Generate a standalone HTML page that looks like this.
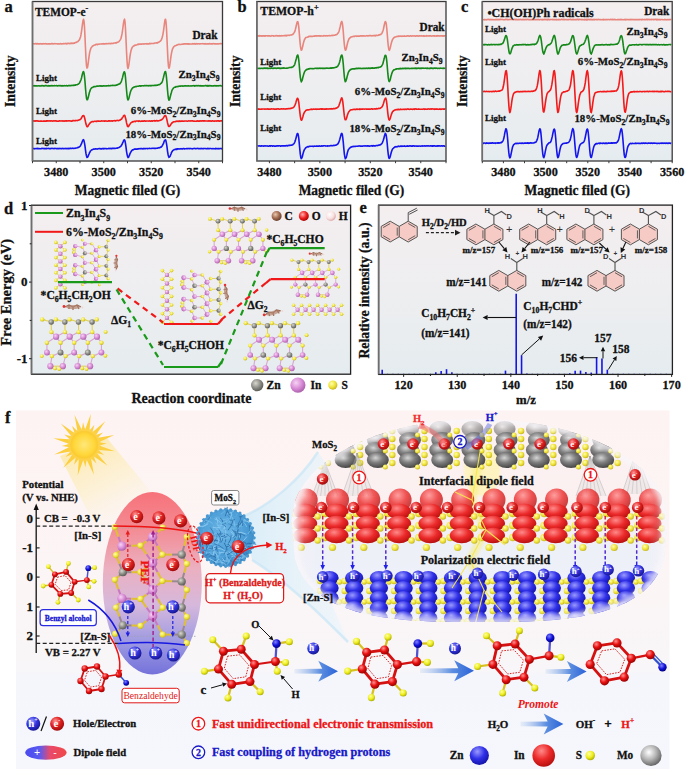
<!DOCTYPE html>
<html><head><meta charset="utf-8"><style>html,body{margin:0;padding:0;background:#fff;}svg{display:block;}</style></head>
<body>
<svg width="685" height="771" viewBox="0 0 685 771">
<defs>
<linearGradient id="pg" x1="0" y1="0" x2="0" y2="1">
 <stop offset="0" stop-color="#f4eeef"/><stop offset="0.5" stop-color="#eeeef0"/><stop offset="1" stop-color="#e5ecef"/>
</linearGradient>
</defs>
<rect width="685" height="771" fill="#ffffff"/>
<rect x="32.5" y="1.5" width="190" height="159.5" fill="url(#pg)"/>
<path d="M33,43.66 L33.5,43.81 L34,43.72 L34.5,43.84 L35,43.85 L35.5,43.57 L36,43.54 L36.5,43.96 L37,43.67 L37.5,43.65 L38,44.03 L38.5,43.77 L39,43.95 L39.5,43.77 L40,43.85 L40.5,43.61 L41,43.85 L41.5,43.97 L42,43.79 L42.5,43.9 L43,43.87 L43.5,43.56 L44,43.91 L44.5,43.82 L45,43.68 L45.5,43.54 L46,43.96 L46.5,43.76 L47,43.88 L47.5,43.96 L48,43.88 L48.5,43.98 L49,43.72 L49.5,43.92 L50,43.74 L50.5,43.98 L51,43.96 L51.5,43.56 L52,43.58 L52.5,43.62 L53,43.99 L53.5,43.73 L54,43.82 L54.5,43.65 L55,43.76 L55.5,43.69 L56,43.67 L56.5,43.79 L57,43.78 L57.5,43.94 L58,43.83 L58.5,43.95 L59,43.91 L59.5,43.97 L60,43.8 L60.5,43.55 L61,43.89 L61.5,43.94 L62,43.9 L62.5,43.73 L63,43.79 L63.5,43.53 L64,43.83 L64.5,43.7 L65,43.54 L65.5,43.42 L66,43.8 L66.5,43.86 L67,43.39 L67.5,43.73 L68,43.52 L68.5,43.37 L69,43.42 L69.5,43.63 L70,43.65 L70.5,43.21 L71,43.46 L71.5,43.13 L72,43.42 L72.5,43.17 L73,43.38 L73.5,43.36 L74,43.04 L74.5,43.19 L75,42.73 L75.5,42.48 L76,42.57 L76.5,42.1 L77,41.95 L77.5,41.76 L78,41.51 L78.5,40.83 L79,40.17 L79.5,39.76 L80,38.33 L80.5,37.01 L81,34.69 L81.5,31.4 L82,27.79 L82.5,23.94 L83,20.75 L83.5,19.33 L84,21.14 L84.5,27.15 L85,37.09 L85.5,48.43 L86,58.74 L86.5,65.71 L87,68.08 L87.5,67.25 L88,64.6 L88.5,60.54 L89,56.8 L89.5,53.37 L90,51.14 L90.5,49.46 L91,47.93 L91.5,47.35 L92,46.72 L92.5,45.96 L93,45.87 L93.5,45.49 L94,45.35 L94.5,44.98 L95,44.99 L95.5,44.86 L96,44.38 L96.5,44.3 L97,44.52 L97.5,44.59 L98,44.16 L98.5,44.21 L99,44.22 L99.5,44.04 L100,44.02 L100.5,43.96 L101,43.95 L101.5,44.04 L102,43.86 L102.5,43.87 L103,44.05 L103.5,43.65 L104,43.9 L104.5,43.96 L105,43.73 L105.5,43.67 L106,43.94 L106.5,43.63 L107,43.59 L107.5,43.69 L108,43.8 L108.5,43.48 L109,43.56 L109.5,43.54 L110,43.77 L110.5,43.54 L111,43.71 L111.5,43.33 L112,43.38 L112.5,43.49 L113,43.55 L113.5,43.28 L114,43.1 L114.5,42.97 L115,43.08 L115.5,42.81 L116,43 L116.5,42.87 L117,42.37 L117.5,42.22 L118,42.24 L118.5,41.85 L119,41.56 L119.5,40.85 L120,40.11 L120.5,39.31 L121,38.31 L121.5,36.29 L122,33.89 L122.5,30.76 L123,27.01 L123.5,23.18 L124,20.44 L124.5,19.2 L125,21.74 L125.5,29.03 L126,39.34 L126.5,50.95 L127,60.46 L127.5,66.69 L128,68.51 L128.5,66.76 L129,63.77 L129.5,59.94 L130,56.19 L130.5,53.1 L131,50.69 L131.5,49.07 L132,47.85 L132.5,46.95 L133,46.61 L133.5,46 L134,45.91 L134.5,45.24 L135,45.43 L135.5,45.13 L136,45.08 L136.5,44.93 L137,44.81 L137.5,44.55 L138,44.18 L138.5,44.48 L139,44.12 L139.5,44.13 L140,44.26 L140.5,44.15 L141,44.05 L141.5,44.28 L142,44.08 L142.5,43.92 L143,43.84 L143.5,44.12 L144,43.91 L144.5,44.04 L145,43.8 L145.5,43.7 L146,43.85 L146.5,43.97 L147,43.63 L147.5,43.92 L148,43.96 L148.5,43.89 L149,43.87 L149.5,43.44 L150,43.73 L150.5,43.82 L151,43.38 L151.5,43.46 L152,43.43 L152.5,43.52 L153,43.43 L153.5,43.41 L154,43.51 L154.5,43.06 L155,43.02 L155.5,42.98 L156,42.89 L156.5,42.76 L157,43.09 L157.5,42.89 L158,42.34 L158.5,42.34 L159,42 L159.5,41.7 L160,41.35 L160.5,41.02 L161,40.35 L161.5,39.36 L162,38.03 L162.5,36.33 L163,33.8 L163.5,30.85 L164,27.18 L164.5,23.18 L165,20.04 L165.5,19.23 L166,21.94 L166.5,28.88 L167,39.31 L167.5,50.67 L168,60.66 L168.5,66.55 L169,68.28 L169.5,66.86 L170,63.67 L170.5,59.89 L171,56.09 L171.5,53.21 L172,50.8 L172.5,49.05 L173,48.04 L173.5,47.3 L174,46.38 L174.5,46.11 L175,45.75 L175.5,45.69 L176,45.49 L176.5,45.01 L177,45.11 L177.5,44.92 L178,44.54 L178.5,44.54 L179,44.29 L179.5,44.56 L180,44.42 L180.5,44.48 L181,44.39 L181.5,44.28 L182,44.28 L182.5,44.16 L183,43.91 L183.5,44.12 L184,43.81 L184.5,43.86 L185,44.15 L185.5,43.77 L186,43.78 L186.5,43.77 L187,44.15 L187.5,43.79 L188,43.7 L188.5,44.1 L189,43.73 L189.5,44.09 L190,43.99 L190.5,44.07 L191,44.12 L191.5,43.93 L192,44.03 L192.5,43.65 L193,44.01 L193.5,43.88 L194,43.98 L194.5,43.67 L195,43.99 L195.5,44.08 L196,43.64 L196.5,43.77 L197,43.88 L197.5,44.01 L198,43.72 L198.5,43.68 L199,43.72 L199.5,43.9 L200,43.97 L200.5,43.78 L201,43.77 L201.5,43.78 L202,43.76 L202.5,43.79 L203,43.62 L203.5,43.83 L204,44.06 L204.5,43.78 L205,43.95 L205.5,43.66 L206,43.92 L206.5,43.95 L207,43.91 L207.5,43.83 L208,43.81 L208.5,43.89 L209,44.02 L209.5,43.64 L210,43.62 L210.5,43.94 L211,44.03 L211.5,43.83 L212,43.79 L212.5,43.93 L213,43.66 L213.5,43.7 L214,43.66 L214.5,43.86 L215,43.72 L215.5,43.68 L216,43.91 L216.5,44.04 L217,43.71 L217.5,43.91 L218,43.77 L218.5,43.99 L219,43.85 L219.5,43.69 L220,43.67 L220.5,43.57 L221,43.8 L221.5,43.75 L222,43.65" fill="none" stroke="#e8857c" stroke-width="1.6" stroke-linejoin="round"/>
<path d="M33,85.72 L33.5,85.7 L34,85.93 L34.5,85.61 L35,86.04 L35.5,85.78 L36,85.84 L36.5,85.78 L37,85.96 L37.5,85.95 L38,85.82 L38.5,85.78 L39,85.9 L39.5,85.97 L40,85.74 L40.5,85.91 L41,86.02 L41.5,85.77 L42,85.65 L42.5,85.65 L43,85.9 L43.5,85.87 L44,86.02 L44.5,85.96 L45,85.66 L45.5,85.63 L46,85.66 L46.5,85.63 L47,85.89 L47.5,85.96 L48,85.98 L48.5,85.66 L49,85.96 L49.5,85.69 L50,85.74 L50.5,85.89 L51,85.57 L51.5,85.57 L52,85.94 L52.5,85.67 L53,85.7 L53.5,85.81 L54,85.86 L54.5,85.52 L55,85.68 L55.5,85.73 L56,85.76 L56.5,85.62 L57,85.8 L57.5,85.99 L58,85.7 L58.5,85.78 L59,85.56 L59.5,85.64 L60,85.83 L60.5,85.55 L61,85.93 L61.5,85.94 L62,85.53 L62.5,85.95 L63,85.66 L63.5,85.85 L64,85.84 L64.5,85.6 L65,85.79 L65.5,85.77 L66,85.84 L66.5,85.56 L67,85.79 L67.5,85.88 L68,85.73 L68.5,85.65 L69,85.42 L69.5,85.59 L70,85.5 L70.5,85.66 L71,85.62 L71.5,85.54 L72,85.31 L72.5,85.51 L73,85.46 L73.5,85.18 L74,85.48 L74.5,85.3 L75,84.96 L75.5,85.27 L76,84.77 L76.5,84.74 L77,84.78 L77.5,84.53 L78,84.27 L78.5,84.01 L79,83.51 L79.5,82.88 L80,82.03 L80.5,80.89 L81,79.77 L81.5,77.96 L82,75.77 L82.5,73.78 L83,72 L83.5,71.51 L84,72.92 L84.5,76.7 L85,81.76 L85.5,88.34 L86,93.97 L86.5,98.2 L87,99.77 L87.5,99.62 L88,98.24 L88.5,96.28 L89,94.27 L89.5,92.17 L90,90.89 L90.5,89.37 L91,88.62 L91.5,87.93 L92,87.51 L92.5,87.52 L93,87.24 L93.5,86.77 L94,86.61 L94.5,86.6 L95,86.65 L95.5,86.59 L96,86.48 L96.5,86.33 L97,86.05 L97.5,86.12 L98,85.97 L98.5,86.1 L99,86.09 L99.5,85.87 L100,85.87 L100.5,86.11 L101,85.71 L101.5,86.08 L102,86.1 L102.5,86.12 L103,85.82 L103.5,85.89 L104,85.89 L104.5,85.9 L105,86.06 L105.5,85.9 L106,85.69 L106.5,85.96 L107,85.75 L107.5,85.8 L108,85.85 L108.5,85.47 L109,85.84 L109.5,85.76 L110,85.66 L110.5,85.66 L111,85.6 L111.5,85.44 L112,85.58 L112.5,85.31 L113,85.5 L113.5,85.54 L114,85.39 L114.5,85.4 L115,85.54 L115.5,85.44 L116,84.98 L116.5,85.21 L117,85.02 L117.5,84.6 L118,84.59 L118.5,84.33 L119,84 L119.5,83.91 L120,83.67 L120.5,82.77 L121,82.21 L121.5,80.97 L122,79.16 L122.5,77.63 L123,75.38 L123.5,73.52 L124,71.99 L124.5,71.87 L125,73.44 L125.5,77.65 L126,83.46 L126.5,89.78 L127,95.04 L127.5,98.74 L128,99.95 L128.5,99.32 L129,97.69 L129.5,95.63 L130,93.6 L130.5,91.75 L131,90.47 L131.5,89.49 L132,88.63 L132.5,88.01 L133,87.71 L133.5,87.23 L134,87.08 L134.5,87.03 L135,86.7 L135.5,86.46 L136,86.71 L136.5,86.53 L137,86.28 L137.5,86.21 L138,86.24 L138.5,86.22 L139,85.99 L139.5,85.84 L140,85.91 L140.5,86.17 L141,85.82 L141.5,85.95 L142,85.8 L142.5,85.79 L143,85.75 L143.5,85.85 L144,85.71 L144.5,85.63 L145,85.66 L145.5,85.67 L146,85.82 L146.5,85.59 L147,85.56 L147.5,85.76 L148,85.72 L148.5,85.86 L149,85.51 L149.5,85.68 L150,85.66 L150.5,85.45 L151,85.9 L151.5,85.51 L152,85.43 L152.5,85.59 L153,85.41 L153.5,85.61 L154,85.43 L154.5,85.28 L155,85.2 L155.5,85.49 L156,85.2 L156.5,85.39 L157,85.15 L157.5,85.29 L158,84.86 L158.5,84.7 L159,84.55 L159.5,84.63 L160,84.29 L160.5,83.82 L161,83.26 L161.5,82.96 L162,82.27 L162.5,80.93 L163,79.11 L163.5,77.23 L164,75.14 L164.5,73.15 L165,71.67 L165.5,71.54 L166,73.61 L166.5,77.71 L167,83.11 L167.5,89.85 L168,95.07 L168.5,98.78 L169,100.19 L169.5,99.75 L170,97.71 L170.5,95.76 L171,93.82 L171.5,92.16 L172,90.28 L172.5,89.31 L173,88.8 L173.5,87.88 L174,87.61 L174.5,87.27 L175,87.21 L175.5,87.15 L176,86.61 L176.5,86.77 L177,86.66 L177.5,86.62 L178,86.4 L178.5,86.52 L179,86.19 L179.5,86.17 L180,86.03 L180.5,86.27 L181,86.09 L181.5,85.96 L182,85.88 L182.5,86.13 L183,86.06 L183.5,86.09 L184,85.92 L184.5,85.95 L185,85.77 L185.5,86.04 L186,85.69 L186.5,85.9 L187,86.04 L187.5,85.99 L188,85.69 L188.5,85.76 L189,86.06 L189.5,85.95 L190,86.06 L190.5,86.06 L191,85.84 L191.5,86.06 L192,85.97 L192.5,85.77 L193,85.79 L193.5,85.64 L194,85.8 L194.5,86.07 L195,85.64 L195.5,85.87 L196,85.64 L196.5,85.63 L197,85.91 L197.5,85.7 L198,85.61 L198.5,85.66 L199,85.9 L199.5,85.87 L200,85.58 L200.5,85.69 L201,86.06 L201.5,85.68 L202,85.85 L202.5,85.78 L203,85.96 L203.5,85.87 L204,85.96 L204.5,85.84 L205,85.66 L205.5,85.66 L206,85.61 L206.5,85.98 L207,85.62 L207.5,85.58 L208,86.05 L208.5,85.66 L209,86.01 L209.5,85.61 L210,85.8 L210.5,85.67 L211,85.98 L211.5,85.87 L212,85.88 L212.5,85.94 L213,86 L213.5,85.73 L214,85.86 L214.5,85.78 L215,85.61 L215.5,85.98 L216,85.86 L216.5,85.97 L217,85.66 L217.5,85.83 L218,85.79 L218.5,85.92 L219,85.6 L219.5,85.73 L220,85.8 L220.5,85.59 L221,85.83 L221.5,85.92 L222,85.77" fill="none" stroke="#15881a" stroke-width="1.6" stroke-linejoin="round"/>
<path d="M33,121.07 L33.5,121.05 L34,120.85 L34.5,120.92 L35,121.24 L35.5,120.91 L36,120.96 L36.5,120.79 L37,120.86 L37.5,120.83 L38,121.21 L38.5,121.11 L39,121.18 L39.5,121.24 L40,121.05 L40.5,121.21 L41,121.01 L41.5,120.95 L42,121.22 L42.5,121.2 L43,121.22 L43.5,120.99 L44,121.13 L44.5,120.95 L45,121.24 L45.5,121.2 L46,120.89 L46.5,121.21 L47,120.84 L47.5,120.79 L48,121.1 L48.5,120.89 L49,121 L49.5,121.06 L50,120.76 L50.5,121.11 L51,120.88 L51.5,120.96 L52,120.91 L52.5,121.11 L53,121.11 L53.5,120.88 L54,120.79 L54.5,120.89 L55,120.94 L55.5,120.78 L56,120.81 L56.5,121.12 L57,121.08 L57.5,121.22 L58,121.22 L58.5,121.17 L59,120.92 L59.5,120.81 L60,120.88 L60.5,120.96 L61,120.99 L61.5,121 L62,120.9 L62.5,121.15 L63,120.86 L63.5,120.95 L64,121.16 L64.5,121.12 L65,120.86 L65.5,120.83 L66,121.11 L66.5,120.71 L67,120.76 L67.5,120.96 L68,120.96 L68.5,120.76 L69,120.7 L69.5,120.77 L70,121.05 L70.5,120.89 L71,121.13 L71.5,121.03 L72,121.11 L72.5,120.62 L73,120.68 L73.5,120.58 L74,120.76 L74.5,120.69 L75,120.52 L75.5,120.73 L76,120.46 L76.5,120.52 L77,120.43 L77.5,120.63 L78,120.35 L78.5,120.15 L79,119.88 L79.5,119.85 L80,119.64 L80.5,119.24 L81,118.79 L81.5,118.01 L82,116.91 L82.5,116.03 L83,115.72 L83.5,115.55 L84,115.95 L84.5,117.5 L85,119.52 L85.5,121.89 L86,124.11 L86.5,125.6 L87,126.61 L87.5,126.68 L88,126.13 L88.5,125.11 L89,124.37 L89.5,123.76 L90,123.1 L90.5,122.54 L91,122.11 L91.5,121.93 L92,121.58 L92.5,121.46 L93,121.62 L93.5,121.69 L94,121.41 L94.5,121.28 L95,121.21 L95.5,121.23 L96,121.37 L96.5,121.17 L97,121.4 L97.5,120.97 L98,121.04 L98.5,121.12 L99,121.06 L99.5,121.26 L100,121.24 L100.5,121.28 L101,121.11 L101.5,120.82 L102,121.08 L102.5,121.06 L103,121.02 L103.5,120.91 L104,121.12 L104.5,121.22 L105,120.81 L105.5,121.09 L106,120.93 L106.5,121 L107,121.18 L107.5,121.21 L108,121.05 L108.5,120.81 L109,121.17 L109.5,120.79 L110,120.89 L110.5,121.1 L111,120.84 L111.5,120.81 L112,121.13 L112.5,121.12 L113,120.79 L113.5,120.81 L114,120.74 L114.5,120.65 L115,120.68 L115.5,121.02 L116,120.54 L116.5,120.58 L117,120.52 L117.5,120.4 L118,120.56 L118.5,120.59 L119,120.54 L119.5,120.31 L120,120.23 L120.5,119.59 L121,119.4 L121.5,119.29 L122,118.24 L122.5,117.59 L123,116.86 L123.5,115.96 L124,115.54 L124.5,115.23 L125,116.03 L125.5,117.95 L126,119.82 L126.5,122.7 L127,124.49 L127.5,126.3 L128,126.67 L128.5,126.48 L129,125.6 L129.5,124.74 L130,124.26 L130.5,123.25 L131,122.69 L131.5,122.58 L132,122.29 L132.5,121.66 L133,121.96 L133.5,121.62 L134,121.45 L134.5,121.24 L135,121.32 L135.5,121.57 L136,121.17 L136.5,121.06 L137,121.04 L137.5,121 L138,121.09 L138.5,121.35 L139,120.92 L139.5,120.96 L140,121.32 L140.5,121.34 L141,121.32 L141.5,120.94 L142,120.99 L142.5,121.28 L143,121.04 L143.5,121.14 L144,120.94 L144.5,120.79 L145,120.94 L145.5,121.14 L146,121.15 L146.5,121.04 L147,120.98 L147.5,121.01 L148,120.96 L148.5,121 L149,121.14 L149.5,120.82 L150,121.01 L150.5,121.17 L151,121.12 L151.5,120.78 L152,121.16 L152.5,121.09 L153,120.75 L153.5,120.78 L154,120.74 L154.5,120.65 L155,121.09 L155.5,120.79 L156,121 L156.5,120.59 L157,120.51 L157.5,120.9 L158,120.82 L158.5,120.86 L159,120.65 L159.5,120.49 L160,120.51 L160.5,120.05 L161,120.1 L161.5,119.81 L162,119.34 L162.5,119.11 L163,118.37 L163.5,117.72 L164,116.81 L164.5,115.99 L165,115.45 L165.5,115.51 L166,116.4 L166.5,117.95 L167,120.18 L167.5,122.67 L168,124.55 L168.5,126.3 L169,126.48 L169.5,126.23 L170,125.79 L170.5,125.08 L171,124.06 L171.5,123.49 L172,122.74 L172.5,122.66 L173,122.09 L173.5,121.88 L174,121.75 L174.5,121.8 L175,121.76 L175.5,121.46 L176,121.36 L176.5,121.39 L177,121.08 L177.5,121.22 L178,121.4 L178.5,121.34 L179,120.96 L179.5,121.34 L180,121.09 L180.5,121.37 L181,121.05 L181.5,120.96 L182,121.12 L182.5,121.28 L183,121.05 L183.5,121.26 L184,121.17 L184.5,120.99 L185,120.96 L185.5,121.06 L186,121 L186.5,120.98 L187,121.12 L187.5,121.23 L188,121.08 L188.5,120.86 L189,120.89 L189.5,120.97 L190,121.09 L190.5,120.85 L191,120.82 L191.5,120.93 L192,120.91 L192.5,120.79 L193,121.04 L193.5,121.23 L194,121.04 L194.5,121.14 L195,121.18 L195.5,121.18 L196,121.22 L196.5,120.99 L197,121.1 L197.5,120.82 L198,121.2 L198.5,120.95 L199,121 L199.5,121.21 L200,120.9 L200.5,120.85 L201,121.17 L201.5,121.06 L202,120.8 L202.5,120.77 L203,120.93 L203.5,120.76 L204,121.17 L204.5,120.85 L205,120.89 L205.5,120.95 L206,121.01 L206.5,120.97 L207,121.07 L207.5,121.09 L208,120.97 L208.5,120.8 L209,121.24 L209.5,121.1 L210,120.8 L210.5,120.98 L211,121.13 L211.5,121.25 L212,120.79 L212.5,120.76 L213,120.99 L213.5,120.97 L214,121.2 L214.5,121.17 L215,120.92 L215.5,120.96 L216,121.04 L216.5,121.2 L217,120.85 L217.5,120.95 L218,120.8 L218.5,121.07 L219,120.77 L219.5,121.22 L220,121.01 L220.5,121.04 L221,120.8 L221.5,120.87 L222,120.99" fill="none" stroke="#f21a1a" stroke-width="1.6" stroke-linejoin="round"/>
<path d="M33,148.77 L33.5,148.61 L34,148.49 L34.5,148.84 L35,148.68 L35.5,148.61 L36,148.45 L36.5,148.49 L37,148.79 L37.5,148.41 L38,148.61 L38.5,148.65 L39,148.52 L39.5,148.73 L40,148.8 L40.5,148.77 L41,148.71 L41.5,148.44 L42,148.37 L42.5,148.56 L43,148.5 L43.5,148.44 L44,148.78 L44.5,148.45 L45,148.75 L45.5,148.81 L46,148.4 L46.5,148.8 L47,148.54 L47.5,148.44 L48,148.43 L48.5,148.36 L49,148.59 L49.5,148.53 L50,148.76 L50.5,148.75 L51,148.36 L51.5,148.53 L52,148.53 L52.5,148.42 L53,148.46 L53.5,148.46 L54,148.68 L54.5,148.5 L55,148.38 L55.5,148.44 L56,148.55 L56.5,148.61 L57,148.45 L57.5,148.67 L58,148.43 L58.5,148.65 L59,148.62 L59.5,148.4 L60,148.69 L60.5,148.51 L61,148.58 L61.5,148.61 L62,148.62 L62.5,148.52 L63,148.33 L63.5,148.69 L64,148.72 L64.5,148.53 L65,148.57 L65.5,148.41 L66,148.72 L66.5,148.61 L67,148.37 L67.5,148.66 L68,148.74 L68.5,148.41 L69,148.72 L69.5,148.45 L70,148.29 L70.5,148.54 L71,148.34 L71.5,148.52 L72,148.42 L72.5,148.16 L73,148.34 L73.5,148.47 L74,148.25 L74.5,148.24 L75,148.35 L75.5,148.08 L76,148.03 L76.5,147.99 L77,148.01 L77.5,147.58 L78,147.37 L78.5,147.5 L79,147.12 L79.5,146.62 L80,146.4 L80.5,145.69 L81,144.59 L81.5,143.67 L82,142.31 L82.5,141.03 L83,139.91 L83.5,139.59 L84,140.84 L84.5,143.08 L85,146.22 L85.5,150.12 L86,153.66 L86.5,155.96 L87,157.36 L87.5,157.3 L88,156.43 L88.5,155.1 L89,154.04 L89.5,152.74 L90,151.97 L90.5,150.94 L91,150.5 L91.5,150 L92,149.81 L92.5,149.68 L93,149.28 L93.5,149.13 L94,149.23 L94.5,149 L95,149.08 L95.5,148.85 L96,148.77 L96.5,148.94 L97,149.09 L97.5,149.03 L98,148.83 L98.5,148.74 L99,148.55 L99.5,148.64 L100,148.64 L100.5,148.93 L101,148.51 L101.5,148.91 L102,148.66 L102.5,148.63 L103,148.53 L103.5,148.87 L104,148.47 L104.5,148.66 L105,148.62 L105.5,148.45 L106,148.45 L106.5,148.83 L107,148.72 L107.5,148.68 L108,148.76 L108.5,148.34 L109,148.64 L109.5,148.65 L110,148.37 L110.5,148.47 L111,148.72 L111.5,148.38 L112,148.58 L112.5,148.26 L113,148.49 L113.5,148.26 L114,148.35 L114.5,148.25 L115,148.46 L115.5,148.35 L116,148.18 L116.5,148.21 L117,148 L117.5,148.1 L118,147.72 L118.5,147.74 L119,147.59 L119.5,147.28 L120,146.82 L120.5,146.48 L121,146.16 L121.5,145.19 L122,144.49 L122.5,143.19 L123,142.12 L123.5,140.88 L124,140.03 L124.5,139.87 L125,140.87 L125.5,143.59 L126,147.18 L126.5,151.11 L127,154.08 L127.5,156.26 L128,157.59 L128.5,157.29 L129,156.27 L129.5,155.17 L130,153.59 L130.5,152.64 L131,151.78 L131.5,151.04 L132,150.3 L132.5,149.91 L133,149.88 L133.5,149.81 L134,149.28 L134.5,149.08 L135,149.02 L135.5,149.29 L136,149.02 L136.5,148.99 L137,149.21 L137.5,148.97 L138,148.76 L138.5,148.95 L139,148.57 L139.5,148.68 L140,148.87 L140.5,148.59 L141,148.5 L141.5,148.73 L142,148.62 L142.5,148.92 L143,148.48 L143.5,148.82 L144,148.6 L144.5,148.8 L145,148.61 L145.5,148.71 L146,148.53 L146.5,148.47 L147,148.57 L147.5,148.74 L148,148.5 L148.5,148.43 L149,148.52 L149.5,148.35 L150,148.45 L150.5,148.56 L151,148.54 L151.5,148.55 L152,148.38 L152.5,148.23 L153,148.21 L153.5,148.35 L154,148.26 L154.5,148.42 L155,148.23 L155.5,148.45 L156,148.33 L156.5,148.32 L157,148.3 L157.5,148.13 L158,148.01 L158.5,147.86 L159,147.63 L159.5,147.87 L160,147.56 L160.5,147.14 L161,147.26 L161.5,146.69 L162,146.16 L162.5,145.32 L163,144.18 L163.5,143.44 L164,141.74 L164.5,140.64 L165,140.18 L165.5,139.75 L166,141.11 L166.5,143.56 L167,146.94 L167.5,151.12 L168,154.19 L168.5,156.2 L169,157.35 L169.5,156.94 L170,156.4 L170.5,155.24 L171,153.98 L171.5,152.41 L172,151.79 L172.5,150.9 L173,150.47 L173.5,150.01 L174,149.74 L174.5,149.45 L175,149.54 L175.5,149.14 L176,149.48 L176.5,148.93 L177,149.32 L177.5,148.88 L178,148.77 L178.5,149.06 L179,148.92 L179.5,149.01 L180,148.85 L180.5,148.88 L181,148.59 L181.5,148.87 L182,148.77 L182.5,148.98 L183,148.49 L183.5,148.51 L184,148.8 L184.5,148.92 L185,148.66 L185.5,148.8 L186,148.71 L186.5,148.62 L187,148.66 L187.5,148.72 L188,148.43 L188.5,148.56 L189,148.77 L189.5,148.53 L190,148.64 L190.5,148.52 L191,148.57 L191.5,148.72 L192,148.76 L192.5,148.87 L193,148.62 L193.5,148.48 L194,148.55 L194.5,148.41 L195,148.5 L195.5,148.67 L196,148.68 L196.5,148.5 L197,148.46 L197.5,148.42 L198,148.46 L198.5,148.62 L199,148.5 L199.5,148.81 L200,148.65 L200.5,148.54 L201,148.58 L201.5,148.39 L202,148.73 L202.5,148.74 L203,148.55 L203.5,148.73 L204,148.5 L204.5,148.47 L205,148.48 L205.5,148.46 L206,148.66 L206.5,148.68 L207,148.72 L207.5,148.41 L208,148.74 L208.5,148.6 L209,148.55 L209.5,148.61 L210,148.57 L210.5,148.46 L211,148.56 L211.5,148.68 L212,148.72 L212.5,148.81 L213,148.45 L213.5,148.8 L214,148.76 L214.5,148.71 L215,148.85 L215.5,148.43 L216,148.74 L216.5,148.81 L217,148.42 L217.5,148.65 L218,148.83 L218.5,148.5 L219,148.78 L219.5,148.81 L220,148.57 L220.5,148.43 L221,148.46 L221.5,148.77 L222,148.57" fill="none" stroke="#1414ec" stroke-width="1.6" stroke-linejoin="round"/>
<rect x="32.5" y="1.5" width="190" height="159.5" fill="none" stroke="#3a3a3a" stroke-width="1.3"/>
<line x1="32.5" y1="1.5" x2="32.5" y2="161" stroke="#6e6e6e" stroke-width="1.6"/>
<line x1="32.5" y1="161" x2="32.5" y2="163.2" stroke="#3a3a3a" stroke-width="1"/>
<line x1="56.25" y1="161" x2="56.25" y2="163.2" stroke="#3a3a3a" stroke-width="1"/>
<line x1="80" y1="161" x2="80" y2="163.2" stroke="#3a3a3a" stroke-width="1"/>
<line x1="103.75" y1="161" x2="103.75" y2="163.2" stroke="#3a3a3a" stroke-width="1"/>
<line x1="127.5" y1="161" x2="127.5" y2="163.2" stroke="#3a3a3a" stroke-width="1"/>
<line x1="151.25" y1="161" x2="151.25" y2="163.2" stroke="#3a3a3a" stroke-width="1"/>
<line x1="175" y1="161" x2="175" y2="163.2" stroke="#3a3a3a" stroke-width="1"/>
<line x1="198.75" y1="161" x2="198.75" y2="163.2" stroke="#3a3a3a" stroke-width="1"/>
<line x1="222.5" y1="161" x2="222.5" y2="163.2" stroke="#3a3a3a" stroke-width="1"/>
<text transform="translate(56.25,175.5) scale(0.97,1)" font-size="12.57" text-anchor="middle" fill="#111" stroke="#111" stroke-width="0.3" font-family="Liberation Serif" font-weight="bold" >3480</text>
<text transform="translate(103.75,175.5) scale(0.97,1)" font-size="12.57" text-anchor="middle" fill="#111" stroke="#111" stroke-width="0.3" font-family="Liberation Serif" font-weight="bold" >3500</text>
<text transform="translate(151.25,175.5) scale(0.97,1)" font-size="12.57" text-anchor="middle" fill="#111" stroke="#111" stroke-width="0.3" font-family="Liberation Serif" font-weight="bold" >3520</text>
<text transform="translate(198.75,175.5) scale(0.97,1)" font-size="12.57" text-anchor="middle" fill="#111" stroke="#111" stroke-width="0.3" font-family="Liberation Serif" font-weight="bold" >3540</text>
<text transform="translate(127.5,195.3) scale(0.97,1)" font-size="13.91" text-anchor="middle" fill="#111" stroke="#111" stroke-width="0.3" font-family="Liberation Serif" font-weight="bold" >Magnetic filed (G)</text>
<text transform="translate(4.5,12) scale(0.97,1)" font-size="17" text-anchor="start" fill="#111" stroke="#111" stroke-width="0.3" font-family="Liberation Serif" font-weight="bold" >a</text>
<text transform="translate(14.6,81.3) rotate(-90) scale(0.97,1)" font-size="14.11" text-anchor="middle" fill="#111" stroke="#111" stroke-width="0.3" font-family="Liberation Serif" font-weight="bold" >Intensity</text>
<text transform="translate(35,15.8) scale(0.97,1)" font-size="11.74" text-anchor="start" fill="#111" stroke="#111" stroke-width="0.3" font-family="Liberation Serif" font-weight="bold" ><tspan>TEMOP-e</tspan><tspan dy="-4.46" font-size="8.22">-</tspan></text>
<text transform="translate(217.5,38.8) scale(0.97,1)" font-size="11.64" text-anchor="end" fill="#111" stroke="#111" stroke-width="0.3" font-family="Liberation Serif" font-weight="bold" >Drak</text>
<text transform="translate(36,80.5) scale(0.97,1)" font-size="9.27" text-anchor="start" fill="#111" stroke="#111" stroke-width="0.3" font-family="Liberation Serif" font-weight="bold" >Light</text>
<text transform="translate(36,114.4) scale(0.97,1)" font-size="9.27" text-anchor="start" fill="#111" stroke="#111" stroke-width="0.3" font-family="Liberation Serif" font-weight="bold" >Light</text>
<text transform="translate(36,144.1) scale(0.97,1)" font-size="9.27" text-anchor="start" fill="#111" stroke="#111" stroke-width="0.3" font-family="Liberation Serif" font-weight="bold" >Light</text>
<text transform="translate(219.5,77.8) scale(0.97,1)" font-size="11.23" text-anchor="end" fill="#111" stroke="#111" stroke-width="0.3" font-family="Liberation Serif" font-weight="bold" ><tspan>Zn</tspan><tspan dy="2.92" font-size="7.86">3</tspan><tspan dy="-2.92">In</tspan><tspan dy="2.92" font-size="7.86">4</tspan><tspan dy="-2.92">S</tspan><tspan dy="2.92" font-size="7.86">9</tspan></text>
<text transform="translate(220.5,113.8) scale(0.97,1)" font-size="11.23" text-anchor="end" fill="#111" stroke="#111" stroke-width="0.3" font-family="Liberation Serif" font-weight="bold" ><tspan>6%-MoS</tspan><tspan dy="2.92" font-size="7.86">2</tspan><tspan dy="-2.92">/Zn</tspan><tspan dy="2.92" font-size="7.86">3</tspan><tspan dy="-2.92">In</tspan><tspan dy="2.92" font-size="7.86">4</tspan><tspan dy="-2.92">S</tspan><tspan dy="2.92" font-size="7.86">9</tspan></text>
<text transform="translate(220.5,137.5) scale(0.97,1)" font-size="11.23" text-anchor="end" fill="#111" stroke="#111" stroke-width="0.3" font-family="Liberation Serif" font-weight="bold" ><tspan>18%-MoS</tspan><tspan dy="2.92" font-size="7.86">2</tspan><tspan dy="-2.92">/Zn</tspan><tspan dy="2.92" font-size="7.86">3</tspan><tspan dy="-2.92">In</tspan><tspan dy="2.92" font-size="7.86">4</tspan><tspan dy="-2.92">S</tspan><tspan dy="2.92" font-size="7.86">9</tspan></text>
<rect x="256.8" y="1.5" width="189.2" height="159.5" fill="url(#pg)"/>
<path d="M257.3,35.8 L257.8,35.86 L258.3,36.1 L258.8,35.77 L259.3,35.65 L259.8,36.11 L260.3,35.8 L260.8,35.83 L261.3,36.12 L261.8,35.78 L262.3,35.68 L262.8,36.08 L263.3,35.76 L263.8,35.74 L264.3,36.1 L264.8,35.75 L265.3,36.08 L265.8,35.8 L266.3,35.78 L266.8,35.74 L267.3,35.9 L267.8,35.91 L268.3,35.82 L268.8,35.88 L269.3,35.77 L269.8,36.04 L270.3,36.09 L270.8,36 L271.3,36.03 L271.8,35.65 L272.3,35.74 L272.8,35.71 L273.3,35.69 L273.8,36.09 L274.3,36.06 L274.8,36.06 L275.3,35.88 L275.8,35.65 L276.3,35.81 L276.8,35.62 L277.3,36.04 L277.8,35.71 L278.3,35.72 L278.8,36.04 L279.3,35.67 L279.8,36.02 L280.3,35.71 L280.8,35.88 L281.3,35.59 L281.8,35.98 L282.3,35.72 L282.8,35.68 L283.3,35.82 L283.8,35.78 L284.3,35.59 L284.8,35.51 L285.3,35.71 L285.8,35.41 L286.3,35.81 L286.8,35.51 L287.3,35.39 L287.8,35.43 L288.3,35.28 L288.8,35.32 L289.3,35.37 L289.8,35.23 L290.3,35.1 L290.8,34.97 L291.3,34.93 L291.8,34.91 L292.3,34.53 L292.8,34.41 L293.3,33.88 L293.8,33.13 L294.3,32.33 L294.8,31.5 L295.3,29.73 L295.8,27.7 L296.3,25.52 L296.8,23.54 L297.3,21.82 L297.8,21.67 L298.3,23.49 L298.8,27.32 L299.3,33.36 L299.8,39.68 L300.3,45.18 L300.8,48.74 L301.3,50.14 L301.8,49.79 L302.3,47.86 L302.8,46.05 L303.3,43.41 L303.8,41.87 L304.3,40.03 L304.8,39.24 L305.3,38.21 L305.8,37.59 L306.3,37.46 L306.8,37.34 L307.3,37.14 L307.8,37 L308.3,36.92 L308.8,36.35 L309.3,36.43 L309.8,36.22 L310.3,36.48 L310.8,36.27 L311.3,36.37 L311.8,36.36 L312.3,36.42 L312.8,36.23 L313.3,36.3 L313.8,36.11 L314.3,35.86 L314.8,36.25 L315.3,35.83 L315.8,35.81 L316.3,36.17 L316.8,35.88 L317.3,36.06 L317.8,35.73 L318.3,35.81 L318.8,36.05 L319.3,35.71 L319.8,35.93 L320.3,36.14 L320.8,35.77 L321.3,36 L321.8,36.02 L322.3,35.94 L322.8,36.01 L323.3,35.97 L323.8,35.62 L324.3,35.7 L324.8,35.86 L325.3,36.06 L325.8,35.68 L326.3,35.85 L326.8,35.61 L327.3,35.95 L327.8,35.74 L328.3,35.76 L328.8,35.81 L329.3,35.52 L329.8,35.79 L330.3,35.8 L330.8,35.8 L331.3,35.48 L331.8,35.41 L332.3,35.33 L332.8,35.64 L333.3,35.35 L333.8,35.25 L334.3,35.23 L334.8,35.21 L335.3,34.89 L335.8,34.74 L336.3,34.76 L336.8,34.5 L337.3,33.89 L337.8,33.25 L338.3,32.91 L338.8,31.72 L339.3,30.15 L339.8,28.14 L340.3,26.21 L340.8,23.74 L341.3,21.97 L341.8,21.44 L342.3,22.95 L342.8,26.66 L343.3,32.03 L343.8,38.68 L344.3,44.3 L344.8,48.22 L345.3,50.13 L345.8,49.96 L346.3,48.48 L346.8,46.27 L347.3,44.04 L347.8,42.04 L348.3,40.63 L348.8,39.14 L349.3,38.61 L349.8,37.8 L350.3,37.68 L350.8,37.01 L351.3,37 L351.8,36.82 L352.3,36.82 L352.8,36.45 L353.3,36.39 L353.8,36.25 L354.3,36.4 L354.8,36.35 L355.3,36.01 L355.8,36.06 L356.3,36.03 L356.8,36.38 L357.3,36.1 L357.8,36.13 L358.3,35.97 L358.8,36.14 L359.3,36.2 L359.8,36.11 L360.3,35.76 L360.8,35.97 L361.3,35.98 L361.8,35.74 L362.3,36.11 L362.8,35.86 L363.3,35.84 L363.8,35.99 L364.3,35.97 L364.8,35.91 L365.3,36.09 L365.8,35.91 L366.3,35.81 L366.8,35.66 L367.3,35.9 L367.8,35.79 L368.3,35.87 L368.8,35.77 L369.3,35.58 L369.8,35.59 L370.3,35.64 L370.8,35.59 L371.3,35.95 L371.8,35.8 L372.3,35.61 L372.8,35.83 L373.3,35.77 L373.8,35.46 L374.3,35.77 L374.8,35.48 L375.3,35.83 L375.8,35.36 L376.3,35.38 L376.8,35.3 L377.3,35.54 L377.8,35.44 L378.3,35.22 L378.8,34.89 L379.3,34.9 L379.8,34.86 L380.3,34.31 L380.8,34.44 L381.3,33.98 L381.8,33.41 L382.3,32.41 L382.8,31.12 L383.3,29.63 L383.8,27.22 L384.3,24.98 L384.8,22.83 L385.3,21.58 L385.8,22.1 L386.3,24 L386.8,28.75 L387.3,34.58 L387.8,41.11 L388.3,46.22 L388.8,49.33 L389.3,50.38 L389.8,49.21 L390.3,47.5 L390.8,45.31 L391.3,43.17 L391.8,41.46 L392.3,40.15 L392.8,39.06 L393.3,38.45 L393.8,37.84 L394.3,37.33 L394.8,37.15 L395.3,37.08 L395.8,36.96 L396.3,36.62 L396.8,36.51 L397.3,36.55 L397.8,36.29 L398.3,36.55 L398.8,36.06 L399.3,36.34 L399.8,36.22 L400.3,36.04 L400.8,36.2 L401.3,36.13 L401.8,36.35 L402.3,36.29 L402.8,36.12 L403.3,36.25 L403.8,36.24 L404.3,35.87 L404.8,36.19 L405.3,36.19 L405.8,36.26 L406.3,36.13 L406.8,35.94 L407.3,35.84 L407.8,36.06 L408.3,35.83 L408.8,36.1 L409.3,36 L409.8,36.13 L410.3,35.89 L410.8,35.86 L411.3,36.15 L411.8,36.03 L412.3,35.89 L412.8,35.97 L413.3,35.91 L413.8,36.01 L414.3,35.95 L414.8,35.83 L415.3,36.17 L415.8,36.12 L416.3,36.06 L416.8,35.82 L417.3,35.78 L417.8,36.04 L418.3,36.09 L418.8,36 L419.3,35.78 L419.8,36.03 L420.3,35.93 L420.8,35.86 L421.3,35.96 L421.8,35.89 L422.3,35.99 L422.8,36.04 L423.3,36.16 L423.8,35.72 L424.3,35.95 L424.8,36.14 L425.3,35.99 L425.8,35.95 L426.3,36.09 L426.8,35.68 L427.3,36.06 L427.8,35.97 L428.3,35.95 L428.8,35.82 L429.3,35.97 L429.8,35.72 L430.3,35.92 L430.8,35.79 L431.3,36.13 L431.8,36.06 L432.3,35.9 L432.8,36.04 L433.3,35.85 L433.8,35.92 L434.3,35.74 L434.8,36.09 L435.3,36.04 L435.8,36.04 L436.3,35.7 L436.8,36.07 L437.3,35.66 L437.8,35.94 L438.3,35.9 L438.8,35.69 L439.3,35.87 L439.8,36.1 L440.3,35.97 L440.8,35.81 L441.3,36.06 L441.8,35.83 L442.3,36.1 L442.8,35.86 L443.3,35.69 L443.8,36.14 L444.3,35.69 L444.8,35.78 L445.3,36.04" fill="none" stroke="#e8857c" stroke-width="1.6" stroke-linejoin="round"/>
<path d="M257.3,68.1 L257.8,68.31 L258.3,68.47 L258.8,68.33 L259.3,68.21 L259.8,68.42 L260.3,68.45 L260.8,68.33 L261.3,68.35 L261.8,68.2 L262.3,68.24 L262.8,68.53 L263.3,68.52 L263.8,68.03 L264.3,68.13 L264.8,68.15 L265.3,68.43 L265.8,68.13 L266.3,68.12 L266.8,68.41 L267.3,68.11 L267.8,68.52 L268.3,68.25 L268.8,68.47 L269.3,68.43 L269.8,68.13 L270.3,68.41 L270.8,68.23 L271.3,68.13 L271.8,68.04 L272.3,68.37 L272.8,68.29 L273.3,68.16 L273.8,68.43 L274.3,68.11 L274.8,68.23 L275.3,68.05 L275.8,68.17 L276.3,68.44 L276.8,68.24 L277.3,68.07 L277.8,68.1 L278.3,68.3 L278.8,68.11 L279.3,68.41 L279.8,68 L280.3,68.39 L280.8,68.26 L281.3,68.35 L281.8,68.11 L282.3,67.96 L282.8,68 L283.3,68.22 L283.8,67.9 L284.3,67.93 L284.8,68.25 L285.3,68.28 L285.8,68.24 L286.3,68.21 L286.8,68.04 L287.3,68.17 L287.8,68.04 L288.3,67.93 L288.8,67.81 L289.3,67.55 L289.8,67.51 L290.3,67.5 L290.8,67.5 L291.3,67.21 L291.8,67.48 L292.3,67.08 L292.8,66.9 L293.3,66.61 L293.8,65.74 L294.3,65.3 L294.8,64.24 L295.3,62.41 L295.8,60.48 L296.3,58.72 L296.8,56.75 L297.3,55.32 L297.8,54.98 L298.3,56.78 L298.8,60.3 L299.3,65.77 L299.8,71.81 L300.3,77.12 L300.8,80.15 L301.3,81.87 L301.8,80.98 L302.3,79.89 L302.8,77.46 L303.3,75.68 L303.8,73.88 L304.3,72.55 L304.8,71.28 L305.3,70.68 L305.8,69.98 L306.3,69.91 L306.8,69.29 L307.3,69.49 L307.8,69.2 L308.3,68.81 L308.8,69.15 L309.3,68.76 L309.8,68.56 L310.3,68.6 L310.8,68.43 L311.3,68.52 L311.8,68.69 L312.3,68.8 L312.8,68.59 L313.3,68.68 L313.8,68.64 L314.3,68.57 L314.8,68.38 L315.3,68.3 L315.8,68.24 L316.3,68.42 L316.8,68.24 L317.3,68.49 L317.8,68.27 L318.3,68.39 L318.8,68.37 L319.3,68.4 L319.8,68.15 L320.3,68.2 L320.8,68.4 L321.3,68.16 L321.8,68.38 L322.3,68.52 L322.8,68.22 L323.3,68.5 L323.8,68.32 L324.3,68.47 L324.8,68.26 L325.3,68.36 L325.8,68.31 L326.3,68.06 L326.8,68.21 L327.3,68.23 L327.8,68.15 L328.3,68.24 L328.8,68.34 L329.3,68.26 L329.8,68.25 L330.3,67.89 L330.8,68.14 L331.3,68.07 L331.8,68.19 L332.3,67.68 L332.8,67.71 L333.3,68.05 L333.8,67.68 L334.3,67.76 L334.8,67.61 L335.3,67.39 L335.8,67.26 L336.3,67.14 L336.8,67.1 L337.3,66.52 L337.8,66.16 L338.3,65.2 L338.8,64.38 L339.3,62.92 L339.8,61.2 L340.3,59.19 L340.8,56.73 L341.3,55.61 L341.8,54.99 L342.3,56.11 L342.8,59.58 L343.3,64.54 L343.8,70.56 L344.3,76.27 L344.8,79.97 L345.3,81.74 L345.8,81.25 L346.3,79.83 L346.8,77.96 L347.3,75.92 L347.8,74.16 L348.3,72.47 L348.8,71.6 L349.3,70.75 L349.8,70.07 L350.3,69.95 L350.8,69.33 L351.3,69.39 L351.8,69.03 L352.3,68.83 L352.8,68.95 L353.3,68.88 L353.8,68.85 L354.3,68.67 L354.8,68.9 L355.3,68.78 L355.8,68.43 L356.3,68.32 L356.8,68.77 L357.3,68.47 L357.8,68.29 L358.3,68.3 L358.8,68.55 L359.3,68.27 L359.8,68.35 L360.3,68.49 L360.8,68.32 L361.3,68.45 L361.8,68.59 L362.3,68.5 L362.8,68.41 L363.3,68.4 L363.8,68.24 L364.3,68.39 L364.8,68.39 L365.3,68.35 L365.8,68.29 L366.3,68.42 L366.8,68.13 L367.3,68.38 L367.8,68.5 L368.3,68.02 L368.8,68.12 L369.3,68.48 L369.8,68.02 L370.3,68.37 L370.8,68.24 L371.3,67.97 L371.8,68.24 L372.3,67.91 L372.8,68.31 L373.3,68.02 L373.8,68.3 L374.3,68.26 L374.8,67.85 L375.3,67.95 L375.8,67.78 L376.3,68.04 L376.8,67.65 L377.3,67.58 L377.8,67.53 L378.3,67.81 L378.8,67.4 L379.3,67.3 L379.8,67.2 L380.3,67.05 L380.8,66.69 L381.3,66.56 L381.8,65.69 L382.3,64.92 L382.8,63.95 L383.3,62.08 L383.8,60.11 L384.3,58.33 L384.8,56.14 L385.3,55.23 L385.8,55.39 L386.3,57.27 L386.8,61.4 L387.3,66.91 L387.8,73.19 L388.3,77.82 L388.8,80.72 L389.3,81.55 L389.8,80.85 L390.3,79.46 L390.8,77 L391.3,75.17 L391.8,73.49 L392.3,72.11 L392.8,71.15 L393.3,70.43 L393.8,69.87 L394.3,69.86 L394.8,69.67 L395.3,69.32 L395.8,69.02 L396.3,69.24 L396.8,68.79 L397.3,68.69 L397.8,68.85 L398.3,68.9 L398.8,68.72 L399.3,68.45 L399.8,68.85 L400.3,68.4 L400.8,68.47 L401.3,68.77 L401.8,68.65 L402.3,68.61 L402.8,68.26 L403.3,68.63 L403.8,68.39 L404.3,68.19 L404.8,68.57 L405.3,68.63 L405.8,68.18 L406.3,68.37 L406.8,68.59 L407.3,68.3 L407.8,68.28 L408.3,68.51 L408.8,68.34 L409.3,68.61 L409.8,68.54 L410.3,68.53 L410.8,68.46 L411.3,68.2 L411.8,68.44 L412.3,68.38 L412.8,68.33 L413.3,68.37 L413.8,68.24 L414.3,68.18 L414.8,68.54 L415.3,68.27 L415.8,68.13 L416.3,68.57 L416.8,68.33 L417.3,68.41 L417.8,68.24 L418.3,68.15 L418.8,68.24 L419.3,68.49 L419.8,68.21 L420.3,68.53 L420.8,68.22 L421.3,68.52 L421.8,68.16 L422.3,68.29 L422.8,68.13 L423.3,68.14 L423.8,68.33 L424.3,68.25 L424.8,68.33 L425.3,68.17 L425.8,68.22 L426.3,68.22 L426.8,68.51 L427.3,68.1 L427.8,68.27 L428.3,68.49 L428.8,68.35 L429.3,68.19 L429.8,68.56 L430.3,68.11 L430.8,68.13 L431.3,68.07 L431.8,68.28 L432.3,68.49 L432.8,68.2 L433.3,68.2 L433.8,68.46 L434.3,68.1 L434.8,68.07 L435.3,68.39 L435.8,68.1 L436.3,68.32 L436.8,68.13 L437.3,68.36 L437.8,68.48 L438.3,68.28 L438.8,68.19 L439.3,68.37 L439.8,68.41 L440.3,68.08 L440.8,68.18 L441.3,68.24 L441.8,68.31 L442.3,68.19 L442.8,68.38 L443.3,68.18 L443.8,68.51 L444.3,68.23 L444.8,68.17 L445.3,68.09" fill="none" stroke="#15881a" stroke-width="1.6" stroke-linejoin="round"/>
<path d="M257.3,108.91 L257.8,108.95 L258.3,109.28 L258.8,109.05 L259.3,109.06 L259.8,109.32 L260.3,109.32 L260.8,109.22 L261.3,108.96 L261.8,109 L262.3,109.09 L262.8,108.97 L263.3,109.01 L263.8,108.94 L264.3,108.96 L264.8,109.21 L265.3,109.14 L265.8,109.06 L266.3,109.07 L266.8,109.14 L267.3,109.17 L267.8,108.84 L268.3,109.25 L268.8,109.06 L269.3,109 L269.8,109.31 L270.3,109.21 L270.8,109 L271.3,108.84 L271.8,109.04 L272.3,109.04 L272.8,109.01 L273.3,108.87 L273.8,109.11 L274.3,108.94 L274.8,109.19 L275.3,109.08 L275.8,108.95 L276.3,109.22 L276.8,109.03 L277.3,108.84 L277.8,108.94 L278.3,108.82 L278.8,109 L279.3,109.24 L279.8,109.25 L280.3,109.1 L280.8,108.85 L281.3,108.88 L281.8,108.86 L282.3,108.93 L282.8,109.06 L283.3,108.74 L283.8,108.96 L284.3,108.92 L284.8,109.02 L285.3,109.09 L285.8,108.86 L286.3,108.94 L286.8,108.75 L287.3,108.81 L287.8,108.87 L288.3,108.54 L288.8,108.73 L289.3,108.68 L289.8,108.46 L290.3,108.42 L290.8,108.63 L291.3,108.29 L291.8,108.08 L292.3,107.96 L292.8,107.86 L293.3,107.5 L293.8,107.04 L294.3,106.39 L294.8,105.44 L295.3,104.37 L295.8,102.88 L296.3,100.91 L296.8,99.51 L297.3,98.22 L297.8,98.45 L298.3,99.82 L298.8,102.51 L299.3,107.23 L299.8,111.94 L300.3,116.05 L300.8,119.19 L301.3,120.27 L301.8,119.85 L302.3,118.49 L302.8,116.96 L303.3,115.05 L303.8,113.64 L304.3,112.48 L304.8,111.74 L305.3,111.15 L305.8,110.47 L306.3,110.14 L306.8,110.1 L307.3,109.97 L307.8,109.73 L308.3,109.88 L308.8,109.79 L309.3,109.65 L309.8,109.51 L310.3,109.54 L310.8,109.25 L311.3,109.52 L311.8,109.15 L312.3,109.51 L312.8,109.35 L313.3,109.15 L313.8,109.09 L314.3,109.28 L314.8,109.2 L315.3,109.3 L315.8,108.99 L316.3,109.37 L316.8,109.13 L317.3,109.13 L317.8,109.27 L318.3,109.2 L318.8,109.11 L319.3,109.02 L319.8,109.1 L320.3,108.88 L320.8,108.99 L321.3,109.26 L321.8,108.9 L322.3,108.88 L322.8,109.26 L323.3,109.01 L323.8,109.08 L324.3,109.1 L324.8,109.16 L325.3,108.95 L325.8,109.17 L326.3,108.78 L326.8,109.19 L327.3,108.91 L327.8,109.06 L328.3,108.88 L328.8,109.09 L329.3,108.89 L329.8,108.98 L330.3,108.82 L330.8,109.05 L331.3,109 L331.8,108.68 L332.3,108.92 L332.8,108.97 L333.3,108.57 L333.8,108.49 L334.3,108.79 L334.8,108.73 L335.3,108.21 L335.8,108.41 L336.3,108.33 L336.8,107.79 L337.3,107.77 L337.8,107.12 L338.3,106.78 L338.8,105.8 L339.3,104.63 L339.8,102.98 L340.3,101.55 L340.8,99.88 L341.3,98.39 L341.8,97.9 L342.3,98.99 L342.8,101.83 L343.3,106.43 L343.8,111.19 L344.3,115.7 L344.8,118.71 L345.3,119.8 L345.8,119.82 L346.3,118.95 L346.8,117.26 L347.3,115.6 L347.8,113.99 L348.3,112.71 L348.8,111.84 L349.3,111.28 L349.8,110.6 L350.3,110.1 L350.8,110.02 L351.3,109.71 L351.8,109.71 L352.3,109.77 L352.8,109.53 L353.3,109.44 L353.8,109.31 L354.3,109.39 L354.8,109.42 L355.3,109.42 L355.8,109.57 L356.3,109.1 L356.8,109.17 L357.3,109.06 L357.8,109.47 L358.3,109.3 L358.8,109.3 L359.3,109.36 L359.8,108.95 L360.3,109.39 L360.8,109.09 L361.3,109.23 L361.8,109.11 L362.3,109.27 L362.8,109.04 L363.3,109.02 L363.8,109 L364.3,109.23 L364.8,109.09 L365.3,108.93 L365.8,109.03 L366.3,109.13 L366.8,109.02 L367.3,109.12 L367.8,109.24 L368.3,109.13 L368.8,109.21 L369.3,108.95 L369.8,109.22 L370.3,109.25 L370.8,109.03 L371.3,108.77 L371.8,108.79 L372.3,109.11 L372.8,109.15 L373.3,109.06 L373.8,108.93 L374.3,108.93 L374.8,108.69 L375.3,108.9 L375.8,109.07 L376.3,108.63 L376.8,108.79 L377.3,108.86 L377.8,108.7 L378.3,108.47 L378.8,108.33 L379.3,108.47 L379.8,108.44 L380.3,108.24 L380.8,107.77 L381.3,107.61 L381.8,107.18 L382.3,106.28 L382.8,105.51 L383.3,104.04 L383.8,102.36 L384.3,100.53 L384.8,99.3 L385.3,98.34 L385.8,98.14 L386.3,99.88 L386.8,103.42 L387.3,107.97 L387.8,113.08 L388.3,116.78 L388.8,119.4 L389.3,120.13 L389.8,119.44 L390.3,118.29 L390.8,116.36 L391.3,114.73 L391.8,113.39 L392.3,112.18 L392.8,111.28 L393.3,111.12 L393.8,110.64 L394.3,110.27 L394.8,110.06 L395.3,109.97 L395.8,109.69 L396.3,109.49 L396.8,109.65 L397.3,109.76 L397.8,109.3 L398.3,109.7 L398.8,109.35 L399.3,109.63 L399.8,109.49 L400.3,109.21 L400.8,109.16 L401.3,109.48 L401.8,109.51 L402.3,109.41 L402.8,109.28 L403.3,109.25 L403.8,109.36 L404.3,109.37 L404.8,109.37 L405.3,109.09 L405.8,109.35 L406.3,109.41 L406.8,109.21 L407.3,108.92 L407.8,109.01 L408.3,109.23 L408.8,109.12 L409.3,109.36 L409.8,109.22 L410.3,109.25 L410.8,108.97 L411.3,109.15 L411.8,109.24 L412.3,109.34 L412.8,109.33 L413.3,109.01 L413.8,109.13 L414.3,109.37 L414.8,108.92 L415.3,108.91 L415.8,108.97 L416.3,109.24 L416.8,109.04 L417.3,109.23 L417.8,109.28 L418.3,109.27 L418.8,108.89 L419.3,109.21 L419.8,109.27 L420.3,109.22 L420.8,109.3 L421.3,109.27 L421.8,109.17 L422.3,109.3 L422.8,109.14 L423.3,108.92 L423.8,109 L424.3,109.33 L424.8,109.03 L425.3,109.1 L425.8,109.3 L426.3,109.2 L426.8,109.26 L427.3,109.09 L427.8,109.11 L428.3,108.9 L428.8,108.96 L429.3,108.94 L429.8,109.13 L430.3,109.12 L430.8,108.89 L431.3,109.17 L431.8,108.91 L432.3,109.05 L432.8,108.87 L433.3,109.09 L433.8,108.93 L434.3,109.33 L434.8,109.04 L435.3,109.27 L435.8,109.08 L436.3,109.02 L436.8,109.28 L437.3,108.99 L437.8,109.11 L438.3,109.17 L438.8,109.35 L439.3,109.21 L439.8,108.88 L440.3,109.08 L440.8,109.33 L441.3,109.28 L441.8,109.04 L442.3,108.92 L442.8,108.99 L443.3,109.23 L443.8,108.94 L444.3,109.3 L444.8,108.99 L445.3,109.2" fill="none" stroke="#f21a1a" stroke-width="1.6" stroke-linejoin="round"/>
<path d="M257.3,146.09 L257.8,145.86 L258.3,146 L258.8,146.05 L259.3,145.87 L259.8,146 L260.3,146.05 L260.8,146.22 L261.3,145.88 L261.8,145.82 L262.3,145.99 L262.8,146.03 L263.3,145.98 L263.8,146.19 L264.3,145.84 L264.8,145.99 L265.3,145.97 L265.8,145.83 L266.3,145.96 L266.8,145.96 L267.3,145.92 L267.8,146.12 L268.3,146.22 L268.8,146.21 L269.3,145.84 L269.8,145.91 L270.3,146.2 L270.8,145.76 L271.3,145.77 L271.8,145.75 L272.3,146.2 L272.8,145.97 L273.3,145.93 L273.8,145.76 L274.3,146.15 L274.8,146.2 L275.3,146.05 L275.8,146.16 L276.3,145.98 L276.8,145.85 L277.3,145.78 L277.8,145.84 L278.3,145.76 L278.8,145.86 L279.3,145.7 L279.8,145.69 L280.3,146.11 L280.8,146.08 L281.3,146.06 L281.8,145.82 L282.3,145.86 L282.8,145.89 L283.3,146.01 L283.8,145.75 L284.3,145.84 L284.8,145.84 L285.3,145.97 L285.8,145.7 L286.3,145.51 L286.8,145.68 L287.3,145.89 L287.8,145.5 L288.3,145.68 L288.8,145.39 L289.3,145.4 L289.8,145.51 L290.3,145.17 L290.8,145.25 L291.3,145.2 L291.8,144.95 L292.3,144.95 L292.8,144.74 L293.3,144.11 L293.8,143.85 L294.3,143.13 L294.8,142.02 L295.3,140.62 L295.8,138.86 L296.3,136.97 L296.8,135.06 L297.3,133.54 L297.8,133.6 L298.3,135.23 L298.8,138.64 L299.3,143.94 L299.8,149.25 L300.3,154.2 L300.8,157.37 L301.3,158.61 L301.8,157.99 L302.3,156.76 L302.8,154.54 L303.3,152.8 L303.8,151.07 L304.3,149.88 L304.8,149 L305.3,148.39 L305.8,147.54 L306.3,147.56 L306.8,147.1 L307.3,146.94 L307.8,146.57 L308.3,146.87 L308.8,146.46 L309.3,146.41 L309.8,146.35 L310.3,146.26 L310.8,146.24 L311.3,146.2 L311.8,146.29 L312.3,146.17 L312.8,146.34 L313.3,146.4 L313.8,146.38 L314.3,146.09 L314.8,146.22 L315.3,146.23 L315.8,146.22 L316.3,146.04 L316.8,145.93 L317.3,146.2 L317.8,146.14 L318.3,145.97 L318.8,146.12 L319.3,145.82 L319.8,146.17 L320.3,146.22 L320.8,146.24 L321.3,145.81 L321.8,146.09 L322.3,146.13 L322.8,145.8 L323.3,146.03 L323.8,145.81 L324.3,145.81 L324.8,145.71 L325.3,145.83 L325.8,146.1 L326.3,145.96 L326.8,146.05 L327.3,146.13 L327.8,145.7 L328.3,146.04 L328.8,146.04 L329.3,145.9 L329.8,145.72 L330.3,145.62 L330.8,145.72 L331.3,145.66 L331.8,145.57 L332.3,145.73 L332.8,145.67 L333.3,145.42 L333.8,145.31 L334.3,145.4 L334.8,145.41 L335.3,145.28 L335.8,145.12 L336.3,145.07 L336.8,144.77 L337.3,144.29 L337.8,143.97 L338.3,143.26 L338.8,142.13 L339.3,140.73 L339.8,139.15 L340.3,137.37 L340.8,135.45 L341.3,133.75 L341.8,133.45 L342.3,134.44 L342.8,137.86 L343.3,142.63 L343.8,148.38 L344.3,153.51 L344.8,156.65 L345.3,158.7 L345.8,158.18 L346.3,157.26 L346.8,155.38 L347.3,153.03 L347.8,151.31 L348.3,149.84 L348.8,149.19 L349.3,148.39 L349.8,148 L350.3,147.57 L350.8,147.1 L351.3,147.12 L351.8,146.76 L352.3,146.63 L352.8,146.58 L353.3,146.64 L353.8,146.38 L354.3,146.44 L354.8,146.4 L355.3,146.47 L355.8,146.27 L356.3,146.21 L356.8,146.25 L357.3,146.18 L357.8,146.29 L358.3,145.96 L358.8,145.98 L359.3,145.89 L359.8,146.07 L360.3,146.27 L360.8,146.13 L361.3,146.14 L361.8,146.28 L362.3,146.21 L362.8,145.94 L363.3,145.9 L363.8,146.05 L364.3,145.89 L364.8,146.06 L365.3,145.79 L365.8,145.94 L366.3,146.1 L366.8,145.86 L367.3,145.8 L367.8,146.09 L368.3,145.8 L368.8,146.15 L369.3,146 L369.8,146.12 L370.3,145.93 L370.8,145.9 L371.3,145.77 L371.8,145.66 L372.3,146.09 L372.8,145.7 L373.3,145.62 L373.8,146.02 L374.3,145.8 L374.8,145.79 L375.3,145.93 L375.8,145.79 L376.3,145.51 L376.8,145.47 L377.3,145.6 L377.8,145.54 L378.3,145.23 L378.8,145.14 L379.3,145.15 L379.8,144.77 L380.3,144.95 L380.8,144.61 L381.3,143.98 L381.8,143.66 L382.3,142.88 L382.8,141.53 L383.3,140.23 L383.8,138.6 L384.3,136.45 L384.8,134.76 L385.3,133.39 L385.8,133.96 L386.3,135.78 L386.8,139.62 L387.3,144.63 L387.8,150.35 L388.3,154.73 L388.8,157.72 L389.3,158.45 L389.8,157.8 L390.3,156.23 L390.8,154.17 L391.3,152.33 L391.8,150.82 L392.3,149.39 L392.8,148.71 L393.3,148.28 L393.8,147.73 L394.3,147.55 L394.8,146.9 L395.3,147.01 L395.8,146.67 L396.3,146.91 L396.8,146.6 L397.3,146.64 L397.8,146.6 L398.3,146.22 L398.8,146.16 L399.3,146.48 L399.8,146.45 L400.3,146.23 L400.8,146 L401.3,145.97 L401.8,146.34 L402.3,146.27 L402.8,146.1 L403.3,146.23 L403.8,146.29 L404.3,145.88 L404.8,146.24 L405.3,146.34 L405.8,146.28 L406.3,146.28 L406.8,146.05 L407.3,146.13 L407.8,145.88 L408.3,146.21 L408.8,146.14 L409.3,146.01 L409.8,145.83 L410.3,145.89 L410.8,146 L411.3,146.26 L411.8,146.03 L412.3,146.22 L412.8,145.88 L413.3,145.91 L413.8,145.9 L414.3,145.93 L414.8,146.18 L415.3,145.96 L415.8,145.94 L416.3,146.12 L416.8,146 L417.3,146.21 L417.8,146.12 L418.3,146.19 L418.8,145.99 L419.3,145.97 L419.8,146 L420.3,146.26 L420.8,146.24 L421.3,146.05 L421.8,146.01 L422.3,145.8 L422.8,146.19 L423.3,146.07 L423.8,145.97 L424.3,145.85 L424.8,146 L425.3,146.12 L425.8,145.9 L426.3,145.89 L426.8,146.02 L427.3,146.01 L427.8,145.76 L428.3,145.79 L428.8,145.95 L429.3,146.11 L429.8,145.95 L430.3,145.77 L430.8,145.88 L431.3,145.86 L431.8,146.14 L432.3,145.87 L432.8,146.25 L433.3,145.9 L433.8,145.85 L434.3,145.77 L434.8,146 L435.3,146.01 L435.8,146.15 L436.3,146.09 L436.8,146.03 L437.3,145.78 L437.8,146.22 L438.3,145.88 L438.8,145.87 L439.3,145.84 L439.8,146.05 L440.3,146.08 L440.8,145.91 L441.3,145.88 L441.8,145.76 L442.3,146.05 L442.8,146.11 L443.3,145.81 L443.8,145.87 L444.3,146.13 L444.8,146.11 L445.3,145.82" fill="none" stroke="#1414ec" stroke-width="1.6" stroke-linejoin="round"/>
<rect x="256.8" y="1.5" width="189.2" height="159.5" fill="none" stroke="#3a3a3a" stroke-width="1.3"/>
<line x1="256.8" y1="1.5" x2="256.8" y2="161" stroke="#6e6e6e" stroke-width="1.6"/>
<line x1="269.41" y1="161" x2="269.41" y2="163.2" stroke="#3a3a3a" stroke-width="1"/>
<line x1="294.64" y1="161" x2="294.64" y2="163.2" stroke="#3a3a3a" stroke-width="1"/>
<line x1="319.87" y1="161" x2="319.87" y2="163.2" stroke="#3a3a3a" stroke-width="1"/>
<line x1="345.09" y1="161" x2="345.09" y2="163.2" stroke="#3a3a3a" stroke-width="1"/>
<line x1="370.32" y1="161" x2="370.32" y2="163.2" stroke="#3a3a3a" stroke-width="1"/>
<line x1="395.55" y1="161" x2="395.55" y2="163.2" stroke="#3a3a3a" stroke-width="1"/>
<line x1="420.77" y1="161" x2="420.77" y2="163.2" stroke="#3a3a3a" stroke-width="1"/>
<line x1="446" y1="161" x2="446" y2="163.2" stroke="#3a3a3a" stroke-width="1"/>
<text transform="translate(269.41,175.5) scale(0.97,1)" font-size="12.57" text-anchor="middle" fill="#111" stroke="#111" stroke-width="0.3" font-family="Liberation Serif" font-weight="bold" >3480</text>
<text transform="translate(319.87,175.5) scale(0.97,1)" font-size="12.57" text-anchor="middle" fill="#111" stroke="#111" stroke-width="0.3" font-family="Liberation Serif" font-weight="bold" >3500</text>
<text transform="translate(370.32,175.5) scale(0.97,1)" font-size="12.57" text-anchor="middle" fill="#111" stroke="#111" stroke-width="0.3" font-family="Liberation Serif" font-weight="bold" >3520</text>
<text transform="translate(420.77,175.5) scale(0.97,1)" font-size="12.57" text-anchor="middle" fill="#111" stroke="#111" stroke-width="0.3" font-family="Liberation Serif" font-weight="bold" >3540</text>
<text transform="translate(351.4,195.3) scale(0.97,1)" font-size="13.91" text-anchor="middle" fill="#111" stroke="#111" stroke-width="0.3" font-family="Liberation Serif" font-weight="bold" >Magnetic filed (G)</text>
<text transform="translate(237.5,12) scale(0.97,1)" font-size="17" text-anchor="start" fill="#111" stroke="#111" stroke-width="0.3" font-family="Liberation Serif" font-weight="bold" >b</text>
<text transform="translate(239.8,81.3) rotate(-90) scale(0.97,1)" font-size="14.11" text-anchor="middle" fill="#111" stroke="#111" stroke-width="0.3" font-family="Liberation Serif" font-weight="bold" >Intensity</text>
<text transform="translate(260.3,14.6) scale(0.97,1)" font-size="12.15" text-anchor="start" fill="#111" stroke="#111" stroke-width="0.3" font-family="Liberation Serif" font-weight="bold" ><tspan>TEMOP-h</tspan><tspan dy="-4.62" font-size="8.51">+</tspan></text>
<text transform="translate(444.6,31) scale(0.97,1)" font-size="11.64" text-anchor="end" fill="#111" stroke="#111" stroke-width="0.3" font-family="Liberation Serif" font-weight="bold" >Drak</text>
<text transform="translate(260.3,64.5) scale(0.97,1)" font-size="9.27" text-anchor="start" fill="#111" stroke="#111" stroke-width="0.3" font-family="Liberation Serif" font-weight="bold" >Light</text>
<text transform="translate(260.3,99.5) scale(0.97,1)" font-size="9.27" text-anchor="start" fill="#111" stroke="#111" stroke-width="0.3" font-family="Liberation Serif" font-weight="bold" >Light</text>
<text transform="translate(260.3,131) scale(0.97,1)" font-size="9.27" text-anchor="start" fill="#111" stroke="#111" stroke-width="0.3" font-family="Liberation Serif" font-weight="bold" >Light</text>
<text transform="translate(442.6,61.3) scale(0.97,1)" font-size="11.23" text-anchor="end" fill="#111" stroke="#111" stroke-width="0.3" font-family="Liberation Serif" font-weight="bold" ><tspan>Zn</tspan><tspan dy="2.92" font-size="7.86">3</tspan><tspan dy="-2.92">In</tspan><tspan dy="2.92" font-size="7.86">4</tspan><tspan dy="-2.92">S</tspan><tspan dy="2.92" font-size="7.86">9</tspan></text>
<text transform="translate(444.5,94.6) scale(0.97,1)" font-size="11.23" text-anchor="end" fill="#111" stroke="#111" stroke-width="0.3" font-family="Liberation Serif" font-weight="bold" ><tspan>6%-MoS</tspan><tspan dy="2.92" font-size="7.86">2</tspan><tspan dy="-2.92">/Zn</tspan><tspan dy="2.92" font-size="7.86">3</tspan><tspan dy="-2.92">In</tspan><tspan dy="2.92" font-size="7.86">4</tspan><tspan dy="-2.92">S</tspan><tspan dy="2.92" font-size="7.86">9</tspan></text>
<text transform="translate(444.5,131.9) scale(0.97,1)" font-size="11.23" text-anchor="end" fill="#111" stroke="#111" stroke-width="0.3" font-family="Liberation Serif" font-weight="bold" ><tspan>18%-MoS</tspan><tspan dy="2.92" font-size="7.86">2</tspan><tspan dy="-2.92">/Zn</tspan><tspan dy="2.92" font-size="7.86">3</tspan><tspan dy="-2.92">In</tspan><tspan dy="2.92" font-size="7.86">4</tspan><tspan dy="-2.92">S</tspan><tspan dy="2.92" font-size="7.86">9</tspan></text>
<rect x="482.3" y="1.5" width="189.9" height="159.5" fill="url(#pg)"/>
<path d="M482.8,19.84 L483.3,19.71 L483.8,19.71 L484.3,19.51 L484.8,19.83 L485.3,19.57 L485.8,19.67 L486.3,19.84 L486.8,19.77 L487.3,19.44 L487.8,19.42 L488.3,19.45 L488.8,19.41 L489.3,19.79 L489.8,19.62 L490.3,19.59 L490.8,19.53 L491.3,19.6 L491.8,19.57 L492.3,19.71 L492.8,19.56 L493.3,19.78 L493.8,19.77 L494.3,19.78 L494.8,19.72 L495.3,19.44 L495.8,19.56 L496.3,19.77 L496.8,19.53 L497.3,19.64 L497.8,19.46 L498.3,19.76 L498.8,19.52 L499.3,19.53 L499.8,19.76 L500.3,19.39 L500.8,19.35 L501.3,19.56 L501.8,19.57 L502.3,19.41 L502.8,19.55 L503.3,19.73 L503.8,19.79 L504.3,19.81 L504.8,19.75 L505.3,19.39 L505.8,19.53 L506.3,19.57 L506.8,19.36 L507.3,19.74 L507.8,19.49 L508.3,19.74 L508.8,19.69 L509.3,19.48 L509.8,19.52 L510.3,19.57 L510.8,19.45 L511.3,19.36 L511.8,19.56 L512.3,19.46 L512.8,19.48 L513.3,19.74 L513.8,19.72 L514.3,19.56 L514.8,19.36 L515.3,19.73 L515.8,19.48 L516.3,19.4 L516.8,19.73 L517.3,19.8 L517.8,19.48 L518.3,19.62 L518.8,19.79 L519.3,19.61 L519.8,19.52 L520.3,19.43 L520.8,19.36 L521.3,19.8 L521.8,19.76 L522.3,19.44 L522.8,19.67 L523.3,19.45 L523.8,19.72 L524.3,19.54 L524.8,19.7 L525.3,19.62 L525.8,19.39 L526.3,19.63 L526.8,19.68 L527.3,19.37 L527.8,19.37 L528.3,19.48 L528.8,19.71 L529.3,19.84 L529.8,19.57 L530.3,19.78 L530.8,19.71 L531.3,19.49 L531.8,19.57 L532.3,19.77 L532.8,19.59 L533.3,19.6 L533.8,19.71 L534.3,19.42 L534.8,19.58 L535.3,19.61 L535.8,19.63 L536.3,19.7 L536.8,19.49 L537.3,19.59 L537.8,19.58 L538.3,19.4 L538.8,19.74 L539.3,19.83 L539.8,19.63 L540.3,19.56 L540.8,19.53 L541.3,19.58 L541.8,19.54 L542.3,19.49 L542.8,19.82 L543.3,19.53 L543.8,19.46 L544.3,19.68 L544.8,19.35 L545.3,19.53 L545.8,19.63 L546.3,19.76 L546.8,19.5 L547.3,19.38 L547.8,19.83 L548.3,19.36 L548.8,19.56 L549.3,19.61 L549.8,19.84 L550.3,19.53 L550.8,19.47 L551.3,19.49 L551.8,19.54 L552.3,19.42 L552.8,19.8 L553.3,19.61 L553.8,19.72 L554.3,19.49 L554.8,19.68 L555.3,19.81 L555.8,19.47 L556.3,19.83 L556.8,19.49 L557.3,19.71 L557.8,19.82 L558.3,19.58 L558.8,19.82 L559.3,19.55 L559.8,19.57 L560.3,19.81 L560.8,19.65 L561.3,19.38 L561.8,19.42 L562.3,19.62 L562.8,19.52 L563.3,19.38 L563.8,19.76 L564.3,19.51 L564.8,19.8 L565.3,19.53 L565.8,19.44 L566.3,19.56 L566.8,19.76 L567.3,19.8 L567.8,19.63 L568.3,19.48 L568.8,19.61 L569.3,19.48 L569.8,19.53 L570.3,19.35 L570.8,19.36 L571.3,19.82 L571.8,19.73 L572.3,19.47 L572.8,19.66 L573.3,19.37 L573.8,19.76 L574.3,19.66 L574.8,19.71 L575.3,19.56 L575.8,19.57 L576.3,19.76 L576.8,19.51 L577.3,19.39 L577.8,19.41 L578.3,19.81 L578.8,19.49 L579.3,19.38 L579.8,19.63 L580.3,19.41 L580.8,19.56 L581.3,19.74 L581.8,19.47 L582.3,19.56 L582.8,19.82 L583.3,19.78 L583.8,19.78 L584.3,19.37 L584.8,19.84 L585.3,19.63 L585.8,19.43 L586.3,19.84 L586.8,19.41 L587.3,19.84 L587.8,19.37 L588.3,19.39 L588.8,19.59 L589.3,19.65 L589.8,19.64 L590.3,19.76 L590.8,19.4 L591.3,19.71 L591.8,19.51 L592.3,19.83 L592.8,19.66 L593.3,19.7 L593.8,19.42 L594.3,19.81 L594.8,19.49 L595.3,19.45 L595.8,19.56 L596.3,19.74 L596.8,19.51 L597.3,19.59 L597.8,19.65 L598.3,19.47 L598.8,19.41 L599.3,19.55 L599.8,19.71 L600.3,19.69 L600.8,19.46 L601.3,19.68 L601.8,19.77 L602.3,19.7 L602.8,19.44 L603.3,19.37 L603.8,19.84 L604.3,19.7 L604.8,19.49 L605.3,19.72 L605.8,19.64 L606.3,19.67 L606.8,19.53 L607.3,19.68 L607.8,19.54 L608.3,19.54 L608.8,19.51 L609.3,19.72 L609.8,19.78 L610.3,19.5 L610.8,19.39 L611.3,19.48 L611.8,19.73 L612.3,19.53 L612.8,19.36 L613.3,19.77 L613.8,19.57 L614.3,19.38 L614.8,19.72 L615.3,19.6 L615.8,19.77 L616.3,19.77 L616.8,19.76 L617.3,19.79 L617.8,19.54 L618.3,19.75 L618.8,19.6 L619.3,19.68 L619.8,19.46 L620.3,19.66 L620.8,19.39 L621.3,19.78 L621.8,19.44 L622.3,19.63 L622.8,19.77 L623.3,19.76 L623.8,19.78 L624.3,19.56 L624.8,19.39 L625.3,19.84 L625.8,19.5 L626.3,19.78 L626.8,19.55 L627.3,19.57 L627.8,19.62 L628.3,19.62 L628.8,19.74 L629.3,19.64 L629.8,19.43 L630.3,19.62 L630.8,19.4 L631.3,19.78 L631.8,19.44 L632.3,19.53 L632.8,19.65 L633.3,19.52 L633.8,19.8 L634.3,19.75 L634.8,19.52 L635.3,19.56 L635.8,19.72 L636.3,19.61 L636.8,19.67 L637.3,19.52 L637.8,19.63 L638.3,19.65 L638.8,19.8 L639.3,19.53 L639.8,19.75 L640.3,19.46 L640.8,19.5 L641.3,19.47 L641.8,19.81 L642.3,19.4 L642.8,19.49 L643.3,19.58 L643.8,19.71 L644.3,19.68 L644.8,19.41 L645.3,19.55 L645.8,19.71 L646.3,19.42 L646.8,19.41 L647.3,19.76 L647.8,19.35 L648.3,19.39 L648.8,19.44 L649.3,19.77 L649.8,19.52 L650.3,19.56 L650.8,19.62 L651.3,19.8 L651.8,19.37 L652.3,19.45 L652.8,19.55 L653.3,19.67 L653.8,19.42 L654.3,19.57 L654.8,19.63 L655.3,19.38 L655.8,19.52 L656.3,19.38 L656.8,19.81 L657.3,19.36 L657.8,19.43 L658.3,19.66 L658.8,19.47 L659.3,19.64 L659.8,19.52 L660.3,19.85 L660.8,19.63 L661.3,19.53 L661.8,19.44 L662.3,19.59 L662.8,19.74 L663.3,19.71 L663.8,19.7 L664.3,19.61 L664.8,19.82 L665.3,19.55 L665.8,19.62 L666.3,19.83 L666.8,19.74 L667.3,19.59 L667.8,19.75 L668.3,19.74 L668.8,19.5 L669.3,19.55 L669.8,19.73 L670.3,19.54 L670.8,19.53 L671.3,19.62" fill="none" stroke="#e8857c" stroke-width="1.6" stroke-linejoin="round"/>
<path d="M482.8,44.48 L483.3,44.57 L483.8,44.93 L484.3,44.56 L484.8,44.84 L485.3,44.44 L485.8,44.59 L486.3,44.69 L486.8,44.59 L487.3,44.9 L487.8,44.91 L488.3,44.58 L488.8,44.5 L489.3,44.89 L489.8,44.82 L490.3,44.68 L490.8,44.45 L491.3,44.42 L491.8,44.76 L492.3,44.75 L492.8,44.64 L493.3,44.57 L493.8,44.54 L494.3,44.58 L494.8,44.6 L495.3,44.69 L495.8,44.58 L496.3,44.53 L496.8,44.47 L497.3,44.67 L497.8,44.8 L498.3,44.41 L498.8,44.68 L499.3,44.59 L499.8,44.35 L500.3,44.26 L500.8,44.55 L501.3,44.1 L501.8,43.91 L502.3,43.6 L502.8,43.47 L503.3,42.48 L503.8,41.19 L504.3,39.88 L504.8,38.36 L505.3,36.76 L505.8,35.53 L506.3,35.77 L506.8,36.91 L507.3,39.32 L507.8,43 L508.3,46.96 L508.8,50.34 L509.3,52.98 L509.8,53.76 L510.3,53.61 L510.8,52.49 L511.3,50.62 L511.8,48.98 L512.3,47.64 L512.8,46.65 L513.3,45.73 L513.8,45.45 L514.3,45.15 L514.8,44.89 L515.3,45.16 L515.8,45.03 L516.3,44.88 L516.8,44.65 L517.3,44.95 L517.8,44.76 L518.3,44.99 L518.8,44.86 L519.3,44.64 L519.8,44.89 L520.3,44.8 L520.8,44.67 L521.3,44.88 L521.8,44.64 L522.3,44.54 L522.8,44.49 L523.3,44.77 L523.8,44.59 L524.3,44.53 L524.8,44.47 L525.3,44.83 L525.8,44.57 L526.3,44.86 L526.8,44.87 L527.3,44.83 L527.8,44.52 L528.3,44.87 L528.8,44.71 L529.3,44.81 L529.8,44.83 L530.3,44.53 L530.8,44.54 L531.3,44.79 L531.8,44.47 L532.3,44.35 L532.8,44.3 L533.3,44.53 L533.8,44.37 L534.3,44.64 L534.8,44.09 L535.3,44.16 L535.8,44.1 L536.3,43.68 L536.8,43.2 L537.3,42.2 L537.8,41.06 L538.3,39.56 L538.8,37.85 L539.3,36.29 L539.8,35.44 L540.3,35.9 L540.8,37.53 L541.3,40.64 L541.8,44.66 L542.3,48.51 L542.8,51.57 L543.3,53.21 L543.8,54.04 L544.3,52.97 L544.8,51.6 L545.3,49.87 L545.8,48.41 L546.3,47.26 L546.8,46.42 L547.3,45.63 L547.8,45.4 L548.3,44.86 L548.8,44.73 L549.3,44.49 L549.8,44.6 L550.3,43.88 L550.8,43.45 L551.3,42.99 L551.8,41.67 L552.3,40.19 L552.8,38.7 L553.3,37.12 L553.8,35.89 L554.3,35.44 L554.8,36.43 L555.3,38.74 L555.8,42.17 L556.3,46.33 L556.8,49.84 L557.3,52.43 L557.8,54.01 L558.3,53.88 L558.8,52.55 L559.3,51.05 L559.8,49.18 L560.3,47.69 L560.8,46.82 L561.3,46.26 L561.8,45.33 L562.3,45.21 L562.8,45.2 L563.3,44.69 L563.8,44.9 L564.3,44.68 L564.8,44.88 L565.3,44.87 L565.8,44.86 L566.3,44.77 L566.8,44.37 L567.3,44.59 L567.8,44.45 L568.3,44.19 L568.8,43.91 L569.3,43.67 L569.8,43.05 L570.3,42.13 L570.8,41.15 L571.3,39.24 L571.8,37.88 L572.3,36.09 L572.8,35.62 L573.3,35.89 L573.8,37.65 L574.3,40.78 L574.8,44.5 L575.3,48.43 L575.8,51.61 L576.3,53.29 L576.8,54 L577.3,53.17 L577.8,51.7 L578.3,50.06 L578.8,48.24 L579.3,46.9 L579.8,46.01 L580.3,45.8 L580.8,45.2 L581.3,45.19 L581.8,44.68 L582.3,44.55 L582.8,44.5 L583.3,44.32 L583.8,43.68 L584.3,43.03 L584.8,41.98 L585.3,40.59 L585.8,39.32 L586.3,37.67 L586.8,36.09 L587.3,35.39 L587.8,36.41 L588.3,38.27 L588.8,41.72 L589.3,45.51 L589.8,49.13 L590.3,52.32 L590.8,53.51 L591.3,54.06 L591.8,52.75 L592.3,51.33 L592.8,49.5 L593.3,48.11 L593.8,47.14 L594.3,46.03 L594.8,45.49 L595.3,45.13 L595.8,44.91 L596.3,45.05 L596.8,44.83 L597.3,45.05 L597.8,44.98 L598.3,44.87 L598.8,45.05 L599.3,45.06 L599.8,44.71 L600.3,44.93 L600.8,44.88 L601.3,44.61 L601.8,44.9 L602.3,44.52 L602.8,44.83 L603.3,44.94 L603.8,44.81 L604.3,44.83 L604.8,44.8 L605.3,44.67 L605.8,44.52 L606.3,44.64 L606.8,44.61 L607.3,44.85 L607.8,44.88 L608.3,44.92 L608.8,44.6 L609.3,44.87 L609.8,44.87 L610.3,44.42 L610.8,44.67 L611.3,44.44 L611.8,44.42 L612.3,44.59 L612.8,44.71 L613.3,44.43 L613.8,44.48 L614.3,44.54 L614.8,44.54 L615.3,44.29 L615.8,44.26 L616.3,44.1 L616.8,44.11 L617.3,44.2 L617.8,43.4 L618.3,43.03 L618.8,42.01 L619.3,40.8 L619.8,39.18 L620.3,37.16 L620.8,35.97 L621.3,35.67 L621.8,36.24 L622.3,38.42 L622.8,41.32 L623.3,45.68 L623.8,49.25 L624.3,52.31 L624.8,53.71 L625.3,53.74 L625.8,52.91 L626.3,51.15 L626.8,49.94 L627.3,48.42 L627.8,47.12 L628.3,46.29 L628.8,45.79 L629.3,45.31 L629.8,45.02 L630.3,45.11 L630.8,45.21 L631.3,45.1 L631.8,45.04 L632.3,44.69 L632.8,44.75 L633.3,44.71 L633.8,44.84 L634.3,45 L634.8,44.85 L635.3,44.82 L635.8,44.73 L636.3,44.6 L636.8,44.64 L637.3,44.99 L637.8,44.95 L638.3,44.82 L638.8,44.83 L639.3,44.6 L639.8,44.49 L640.3,44.49 L640.8,44.49 L641.3,44.58 L641.8,44.96 L642.3,44.76 L642.8,44.58 L643.3,44.52 L643.8,44.48 L644.3,44.47 L644.8,44.53 L645.3,44.63 L645.8,44.54 L646.3,44.58 L646.8,44.78 L647.3,44.53 L647.8,44.53 L648.3,44.85 L648.8,44.6 L649.3,44.77 L649.8,44.6 L650.3,44.81 L650.8,44.46 L651.3,44.59 L651.8,44.89 L652.3,44.6 L652.8,44.78 L653.3,44.56 L653.8,44.51 L654.3,44.67 L654.8,44.68 L655.3,44.47 L655.8,44.72 L656.3,44.67 L656.8,44.63 L657.3,44.83 L657.8,44.9 L658.3,44.66 L658.8,44.61 L659.3,44.84 L659.8,44.83 L660.3,44.71 L660.8,44.76 L661.3,44.62 L661.8,44.82 L662.3,44.74 L662.8,44.88 L663.3,44.6 L663.8,44.49 L664.3,44.89 L664.8,44.75 L665.3,44.85 L665.8,44.83 L666.3,44.84 L666.8,44.63 L667.3,44.88 L667.8,44.76 L668.3,44.66 L668.8,44.54 L669.3,44.5 L669.8,44.57 L670.3,44.61 L670.8,44.62 L671.3,44.76" fill="none" stroke="#15881a" stroke-width="1.6" stroke-linejoin="round"/>
<path d="M482.8,91.71 L483.3,91.51 L483.8,91.56 L484.3,91.23 L484.8,91.57 L485.3,91.49 L485.8,91.6 L486.3,91.39 L486.8,91.53 L487.3,91.46 L487.8,91.6 L488.3,91.42 L488.8,91.61 L489.3,91.63 L489.8,91.46 L490.3,91.44 L490.8,91.53 L491.3,91.44 L491.8,91.65 L492.3,91.63 L492.8,91.4 L493.3,91.49 L493.8,91.19 L494.3,91.58 L494.8,91.42 L495.3,91.11 L495.8,91.08 L496.3,91.48 L496.8,91.43 L497.3,91.32 L497.8,91.18 L498.3,91.06 L498.8,91.13 L499.3,91.29 L499.8,91.08 L500.3,90.69 L500.8,90.63 L501.3,90.33 L501.8,90.32 L502.3,89.63 L502.8,88.55 L503.3,86.54 L503.8,83.95 L504.3,80.54 L504.8,76.87 L505.3,73.33 L505.8,70.9 L506.3,70.64 L506.8,73.62 L507.3,79.65 L507.8,87.76 L508.3,97.1 L508.8,104.82 L509.3,110.17 L509.8,112.58 L510.3,111.46 L510.8,108.69 L511.3,105.46 L511.8,101.49 L512.3,98.31 L512.8,96.12 L513.3,94.56 L513.8,93.28 L514.3,92.88 L514.8,92.19 L515.3,92.35 L515.8,91.98 L516.3,91.87 L516.8,91.62 L517.3,91.59 L517.8,91.71 L518.3,91.53 L518.8,91.77 L519.3,91.91 L519.8,91.53 L520.3,91.74 L520.8,91.64 L521.3,91.64 L521.8,91.7 L522.3,91.54 L522.8,91.7 L523.3,91.35 L523.8,91.6 L524.3,91.51 L524.8,91.34 L525.3,91.34 L525.8,91.69 L526.3,91.52 L526.8,91.44 L527.3,91.42 L527.8,91.58 L528.3,91.46 L528.8,91.24 L529.3,91.58 L529.8,91.51 L530.3,91.45 L530.8,91.39 L531.3,91.34 L531.8,91.13 L532.3,91.41 L532.8,91.22 L533.3,90.89 L533.8,91.13 L534.3,90.82 L534.8,90.46 L535.3,90.58 L535.8,89.75 L536.3,89.01 L536.8,87.48 L537.3,85.64 L537.8,82.79 L538.3,79.4 L538.8,75.67 L539.3,72.37 L539.8,70.56 L540.3,71.32 L540.8,75.67 L541.3,82.37 L541.8,91.3 L542.3,100.3 L542.8,107.25 L543.3,111.43 L543.8,112.08 L544.3,110.44 L544.8,107.04 L545.3,103.43 L545.8,99.77 L546.3,97.18 L546.8,94.8 L547.3,93.35 L547.8,92.71 L548.3,91.86 L548.8,91.76 L549.3,91.22 L549.8,90.56 L550.3,90.14 L550.8,89.21 L551.3,87.19 L551.8,84.91 L552.3,81.71 L552.8,78.18 L553.3,74.48 L553.8,71.23 L554.3,70.61 L554.8,72.94 L555.3,78.09 L555.8,86.1 L556.3,95.24 L556.8,103.31 L557.3,109.27 L557.8,112.47 L558.3,111.97 L558.8,109.53 L559.3,105.99 L559.8,102.31 L560.3,99.08 L560.8,96.13 L561.3,94.63 L561.8,93.17 L562.3,92.74 L562.8,92.46 L563.3,92.03 L563.8,91.8 L564.3,91.91 L564.8,91.72 L565.3,91.74 L565.8,91.45 L566.3,91.23 L566.8,91.31 L567.3,91.07 L567.8,90.62 L568.3,90.37 L568.8,90.27 L569.3,89.26 L569.8,87.58 L570.3,85.87 L570.8,83.01 L571.3,79.11 L571.8,75.78 L572.3,72.1 L572.8,70.56 L573.3,71.56 L573.8,75.52 L574.3,82.5 L574.8,91.44 L575.3,100.39 L575.8,107.6 L576.3,111.64 L576.8,112.57 L577.3,110.77 L577.8,107.32 L578.3,103.45 L578.8,100.16 L579.3,97.28 L579.8,94.87 L580.3,93.7 L580.8,92.58 L581.3,91.86 L581.8,91.65 L582.3,91.5 L582.8,90.88 L583.3,90.39 L583.8,89.42 L584.3,87.86 L584.8,85.36 L585.3,82.63 L585.8,78.56 L586.3,74.98 L586.8,71.72 L587.3,70.6 L587.8,72.35 L588.3,77.03 L588.8,84.66 L589.3,93.48 L589.8,102.1 L590.3,108.45 L590.8,112.04 L591.3,112.56 L591.8,110.18 L592.3,106.99 L592.8,102.92 L593.3,99.74 L593.8,96.74 L594.3,95.22 L594.8,93.56 L595.3,92.78 L595.8,92.58 L596.3,92.42 L596.8,92.22 L597.3,91.96 L597.8,92.04 L598.3,91.72 L598.8,91.74 L599.3,91.67 L599.8,91.61 L600.3,91.48 L600.8,91.54 L601.3,91.68 L601.8,91.69 L602.3,91.54 L602.8,91.66 L603.3,91.5 L603.8,91.73 L604.3,91.32 L604.8,91.68 L605.3,91.74 L605.8,91.56 L606.3,91.58 L606.8,91.74 L607.3,91.31 L607.8,91.27 L608.3,91.47 L608.8,91.56 L609.3,91.45 L609.8,91.41 L610.3,91.37 L610.8,91.37 L611.3,91.55 L611.8,91.12 L612.3,91.39 L612.8,91.08 L613.3,91.42 L613.8,91.08 L614.3,91.3 L614.8,90.99 L615.3,91.06 L615.8,90.88 L616.3,90.91 L616.8,90.34 L617.3,89.81 L617.8,88.88 L618.3,87.27 L618.8,85.41 L619.3,82.1 L619.8,78.38 L620.3,74.65 L620.8,71.87 L621.3,70.72 L621.8,72.07 L622.3,76.99 L622.8,84.17 L623.3,93.55 L623.8,102.15 L624.3,108.4 L624.8,111.78 L625.3,112.26 L625.8,110.17 L626.3,106.76 L626.8,103.08 L627.3,99.42 L627.8,96.74 L628.3,94.88 L628.8,93.55 L629.3,92.94 L629.8,92.57 L630.3,92.15 L630.8,91.92 L631.3,92.12 L631.8,91.72 L632.3,92.05 L632.8,91.88 L633.3,91.64 L633.8,91.5 L634.3,91.89 L634.8,91.46 L635.3,91.8 L635.8,91.67 L636.3,91.74 L636.8,91.48 L637.3,91.73 L637.8,91.48 L638.3,91.64 L638.8,91.82 L639.3,91.63 L639.8,91.4 L640.3,91.44 L640.8,91.52 L641.3,91.72 L641.8,91.7 L642.3,91.5 L642.8,91.59 L643.3,91.47 L643.8,91.54 L644.3,91.45 L644.8,91.76 L645.3,91.47 L645.8,91.44 L646.3,91.59 L646.8,91.39 L647.3,91.33 L647.8,91.5 L648.3,91.69 L648.8,91.46 L649.3,91.41 L649.8,91.42 L650.3,91.57 L650.8,91.4 L651.3,91.53 L651.8,91.52 L652.3,91.29 L652.8,91.43 L653.3,91.68 L653.8,91.37 L654.3,91.64 L654.8,91.3 L655.3,91.51 L655.8,91.47 L656.3,91.59 L656.8,91.26 L657.3,91.32 L657.8,91.46 L658.3,91.72 L658.8,91.51 L659.3,91.69 L659.8,91.52 L660.3,91.75 L660.8,91.3 L661.3,91.69 L661.8,91.39 L662.3,91.37 L662.8,91.52 L663.3,91.47 L663.8,91.75 L664.3,91.72 L664.8,91.62 L665.3,91.38 L665.8,91.37 L666.3,91.48 L666.8,91.42 L667.3,91.37 L667.8,91.36 L668.3,91.39 L668.8,91.4 L669.3,91.31 L669.8,91.41 L670.3,91.73 L670.8,91.67 L671.3,91.56" fill="none" stroke="#f21a1a" stroke-width="1.6" stroke-linejoin="round"/>
<path d="M482.8,143.41 L483.3,143.4 L483.8,142.98 L484.3,142.95 L484.8,143.1 L485.3,143.19 L485.8,143.43 L486.3,142.94 L486.8,143.27 L487.3,143.32 L487.8,143.05 L488.3,143.3 L488.8,143.35 L489.3,142.96 L489.8,143.24 L490.3,143.14 L490.8,143.29 L491.3,142.97 L491.8,143.23 L492.3,142.9 L492.8,142.9 L493.3,143.09 L493.8,143.04 L494.3,143.08 L494.8,142.96 L495.3,143.34 L495.8,143.04 L496.3,143.07 L496.8,142.98 L497.3,143.22 L497.8,142.84 L498.3,143.2 L498.8,142.8 L499.3,143.1 L499.8,142.83 L500.3,142.85 L500.8,142.57 L501.3,142.69 L501.8,142.12 L502.3,141.93 L502.8,141.09 L503.3,140 L503.8,138.3 L504.3,135.93 L504.8,133.02 L505.3,130.87 L505.8,128.82 L506.3,129.01 L506.8,130.99 L507.3,134.71 L507.8,140.43 L508.3,147.11 L508.8,152.4 L509.3,156.26 L509.8,157.81 L510.3,157.34 L510.8,155.22 L511.3,152.84 L511.8,150.31 L512.3,148.07 L512.8,146.23 L513.3,145.39 L513.8,144.43 L514.3,144.25 L514.8,143.74 L515.3,143.65 L515.8,143.33 L516.3,143.3 L516.8,143.67 L517.3,143.39 L517.8,143.5 L518.3,143.34 L518.8,143.45 L519.3,143.33 L519.8,143.12 L520.3,143.19 L520.8,143.34 L521.3,143.08 L521.8,143.47 L522.3,143.01 L522.8,143.26 L523.3,143.4 L523.8,143.32 L524.3,143.02 L524.8,142.99 L525.3,143.29 L525.8,143.13 L526.3,142.96 L526.8,142.97 L527.3,143.23 L527.8,142.9 L528.3,143.02 L528.8,143.33 L529.3,142.98 L529.8,143.26 L530.3,142.83 L530.8,142.9 L531.3,142.8 L531.8,143.12 L532.3,143.01 L532.8,143.07 L533.3,143.05 L533.8,142.95 L534.3,142.56 L534.8,142.61 L535.3,142.2 L535.8,142.24 L536.3,141.44 L536.8,140.55 L537.3,139.34 L537.8,137.42 L538.3,134.78 L538.8,132.06 L539.3,130.04 L539.8,128.86 L540.3,129.16 L540.8,132.1 L541.3,137.22 L541.8,143.37 L542.3,149.46 L542.8,154.12 L543.3,156.77 L543.8,157.74 L544.3,156.22 L544.8,154.15 L545.3,151.41 L545.8,149.18 L546.3,146.94 L546.8,145.5 L547.3,144.76 L547.8,144.07 L548.3,143.81 L548.8,143.07 L549.3,142.81 L549.8,142.76 L550.3,142.19 L550.8,141.64 L551.3,140.27 L551.8,138.4 L552.3,136.42 L552.8,133.72 L553.3,131.43 L553.8,129.51 L554.3,129 L554.8,130.09 L555.3,134 L555.8,139.32 L556.3,146 L556.8,151.34 L557.3,155.7 L557.8,157.65 L558.3,157.22 L558.8,155.71 L559.3,152.99 L559.8,150.35 L560.3,148.19 L560.8,146.33 L561.3,145.28 L561.8,144.61 L562.3,144.25 L562.8,143.63 L563.3,143.56 L563.8,143.55 L564.3,143.27 L564.8,143.19 L565.3,143.16 L565.8,143.32 L566.3,143.01 L566.8,143.14 L567.3,142.73 L567.8,142.67 L568.3,142.45 L568.8,142.06 L569.3,141.43 L569.8,140.6 L570.3,139.38 L570.8,137.33 L571.3,135.05 L571.8,132.08 L572.3,129.82 L572.8,128.61 L573.3,129.35 L573.8,131.98 L574.3,137.19 L574.8,143.13 L575.3,149.07 L575.8,154.17 L576.3,156.94 L576.8,157.43 L577.3,156.3 L577.8,154.22 L578.3,151.75 L578.8,149.09 L579.3,146.92 L579.8,145.36 L580.3,144.54 L580.8,143.87 L581.3,143.56 L581.8,143.29 L582.3,142.95 L582.8,142.59 L583.3,142.54 L583.8,141.87 L584.3,140.7 L584.8,139.24 L585.3,136.97 L585.8,134.53 L586.3,131.77 L586.8,129.77 L587.3,128.99 L587.8,129.95 L588.3,133.25 L588.8,138.36 L589.3,144.47 L589.8,150.67 L590.3,155.22 L590.8,157.26 L591.3,157.43 L591.8,155.91 L592.3,153.64 L592.8,150.99 L593.3,148.64 L593.8,146.76 L594.3,145.52 L594.8,144.59 L595.3,144.46 L595.8,143.71 L596.3,143.5 L596.8,143.84 L597.3,143.49 L597.8,143.62 L598.3,143.37 L598.8,143.18 L599.3,143.16 L599.8,143.58 L600.3,143.12 L600.8,143.3 L601.3,143.19 L601.8,143.37 L602.3,143.22 L602.8,143.43 L603.3,143.12 L603.8,143.27 L604.3,143.48 L604.8,143.25 L605.3,143.45 L605.8,142.99 L606.3,143.4 L606.8,143.15 L607.3,143.44 L607.8,143.28 L608.3,143.05 L608.8,143.3 L609.3,142.99 L609.8,143.16 L610.3,143.25 L610.8,142.95 L611.3,142.89 L611.8,143.26 L612.3,142.91 L612.8,143.18 L613.3,143.01 L613.8,142.84 L614.3,143.14 L614.8,142.85 L615.3,142.73 L615.8,142.97 L616.3,142.88 L616.8,142.33 L617.3,142.27 L617.8,141.2 L618.3,140.51 L618.8,138.88 L619.3,136.64 L619.8,134.21 L620.3,131.58 L620.8,129.66 L621.3,128.67 L621.8,129.72 L622.3,133.1 L622.8,138.16 L623.3,144.27 L623.8,150.45 L624.3,155.15 L624.8,157.21 L625.3,157.44 L625.8,156.32 L626.3,153.57 L626.8,151.35 L627.3,148.66 L627.8,146.76 L628.3,145.7 L628.8,144.93 L629.3,144.2 L629.8,143.79 L630.3,143.54 L630.8,143.37 L631.3,143.65 L631.8,143.61 L632.3,143.36 L632.8,143.41 L633.3,143.53 L633.8,143.47 L634.3,143.44 L634.8,143.54 L635.3,143.19 L635.8,143.55 L636.3,143.36 L636.8,143.2 L637.3,143.37 L637.8,143.18 L638.3,143.22 L638.8,143.42 L639.3,143.41 L639.8,143.3 L640.3,143.4 L640.8,143.43 L641.3,143.19 L641.8,143.03 L642.3,143.46 L642.8,143.01 L643.3,143.2 L643.8,143.03 L644.3,143.25 L644.8,143.37 L645.3,142.99 L645.8,143.22 L646.3,143.17 L646.8,143.3 L647.3,143.42 L647.8,143.3 L648.3,143 L648.8,143.14 L649.3,143.2 L649.8,143.05 L650.3,143.39 L650.8,143.14 L651.3,143.14 L651.8,143.07 L652.3,143.23 L652.8,143.36 L653.3,143.02 L653.8,143.21 L654.3,143.11 L654.8,142.99 L655.3,143.16 L655.8,143.28 L656.3,143.27 L656.8,143.46 L657.3,143.31 L657.8,143.42 L658.3,143.32 L658.8,143.3 L659.3,143.41 L659.8,143.39 L660.3,143.33 L660.8,143.12 L661.3,143.1 L661.8,143.39 L662.3,142.97 L662.8,143.15 L663.3,143.37 L663.8,143.1 L664.3,143.2 L664.8,143.13 L665.3,143.27 L665.8,143.37 L666.3,142.98 L666.8,143.16 L667.3,143.38 L667.8,143.16 L668.3,143.44 L668.8,143.09 L669.3,143.21 L669.8,143.04 L670.3,143.39 L670.8,143.19 L671.3,143.37" fill="none" stroke="#1414ec" stroke-width="1.6" stroke-linejoin="round"/>
<rect x="482.3" y="1.5" width="189.9" height="159.5" fill="none" stroke="#3a3a3a" stroke-width="1.3"/>
<line x1="482.3" y1="1.5" x2="482.3" y2="161" stroke="#6e6e6e" stroke-width="1.6"/>
<line x1="482.3" y1="161" x2="482.3" y2="163.2" stroke="#3a3a3a" stroke-width="1"/>
<line x1="503.4" y1="161" x2="503.4" y2="163.2" stroke="#3a3a3a" stroke-width="1"/>
<line x1="524.5" y1="161" x2="524.5" y2="163.2" stroke="#3a3a3a" stroke-width="1"/>
<line x1="545.6" y1="161" x2="545.6" y2="163.2" stroke="#3a3a3a" stroke-width="1"/>
<line x1="566.7" y1="161" x2="566.7" y2="163.2" stroke="#3a3a3a" stroke-width="1"/>
<line x1="587.8" y1="161" x2="587.8" y2="163.2" stroke="#3a3a3a" stroke-width="1"/>
<line x1="608.9" y1="161" x2="608.9" y2="163.2" stroke="#3a3a3a" stroke-width="1"/>
<line x1="630" y1="161" x2="630" y2="163.2" stroke="#3a3a3a" stroke-width="1"/>
<line x1="651.1" y1="161" x2="651.1" y2="163.2" stroke="#3a3a3a" stroke-width="1"/>
<line x1="672.2" y1="161" x2="672.2" y2="163.2" stroke="#3a3a3a" stroke-width="1"/>
<text transform="translate(503.4,175.5) scale(0.97,1)" font-size="12.57" text-anchor="middle" fill="#111" stroke="#111" stroke-width="0.3" font-family="Liberation Serif" font-weight="bold" >3480</text>
<text transform="translate(545.6,175.5) scale(0.97,1)" font-size="12.57" text-anchor="middle" fill="#111" stroke="#111" stroke-width="0.3" font-family="Liberation Serif" font-weight="bold" >3500</text>
<text transform="translate(587.8,175.5) scale(0.97,1)" font-size="12.57" text-anchor="middle" fill="#111" stroke="#111" stroke-width="0.3" font-family="Liberation Serif" font-weight="bold" >3520</text>
<text transform="translate(630,175.5) scale(0.97,1)" font-size="12.57" text-anchor="middle" fill="#111" stroke="#111" stroke-width="0.3" font-family="Liberation Serif" font-weight="bold" >3540</text>
<text transform="translate(672.2,175.5) scale(0.97,1)" font-size="12.57" text-anchor="middle" fill="#111" stroke="#111" stroke-width="0.3" font-family="Liberation Serif" font-weight="bold" >3560</text>
<text transform="translate(577.25,195.3) scale(0.97,1)" font-size="13.91" text-anchor="middle" fill="#111" stroke="#111" stroke-width="0.3" font-family="Liberation Serif" font-weight="bold" >Magnetic filed (G)</text>
<text transform="translate(461,12) scale(0.97,1)" font-size="17" text-anchor="start" fill="#111" stroke="#111" stroke-width="0.3" font-family="Liberation Serif" font-weight="bold" >c</text>
<text transform="translate(466.8,81.3) rotate(-90) scale(0.97,1)" font-size="14.11" text-anchor="middle" fill="#111" stroke="#111" stroke-width="0.3" font-family="Liberation Serif" font-weight="bold" >Intensity</text>
<text transform="translate(487.4,16.6) scale(0.97,1)" font-size="12.36" text-anchor="start" fill="#111" stroke="#111" stroke-width="0.3" font-family="Liberation Serif" font-weight="bold" >•CH(OH)Ph radicals</text>
<text transform="translate(669.2,15.4) scale(0.97,1)" font-size="11.64" text-anchor="end" fill="#111" stroke="#111" stroke-width="0.3" font-family="Liberation Serif" font-weight="bold" >Drak</text>
<text transform="translate(485,32.3) scale(0.97,1)" font-size="9.27" text-anchor="start" fill="#111" stroke="#111" stroke-width="0.3" font-family="Liberation Serif" font-weight="bold" >Light</text>
<text transform="translate(485,64.8) scale(0.97,1)" font-size="9.27" text-anchor="start" fill="#111" stroke="#111" stroke-width="0.3" font-family="Liberation Serif" font-weight="bold" >Light</text>
<text transform="translate(485,120.5) scale(0.97,1)" font-size="9.27" text-anchor="start" fill="#111" stroke="#111" stroke-width="0.3" font-family="Liberation Serif" font-weight="bold" >Light</text>
<text transform="translate(667.5,35) scale(0.97,1)" font-size="11.23" text-anchor="end" fill="#111" stroke="#111" stroke-width="0.3" font-family="Liberation Serif" font-weight="bold" ><tspan>Zn</tspan><tspan dy="2.92" font-size="7.86">3</tspan><tspan dy="-2.92">In</tspan><tspan dy="2.92" font-size="7.86">4</tspan><tspan dy="-2.92">S</tspan><tspan dy="2.92" font-size="7.86">9</tspan></text>
<text transform="translate(667.5,64.8) scale(0.97,1)" font-size="11.23" text-anchor="end" fill="#111" stroke="#111" stroke-width="0.3" font-family="Liberation Serif" font-weight="bold" ><tspan>6%-MoS</tspan><tspan dy="2.92" font-size="7.86">2</tspan><tspan dy="-2.92">/Zn</tspan><tspan dy="2.92" font-size="7.86">3</tspan><tspan dy="-2.92">In</tspan><tspan dy="2.92" font-size="7.86">4</tspan><tspan dy="-2.92">S</tspan><tspan dy="2.92" font-size="7.86">9</tspan></text>
<text transform="translate(669.5,121.8) scale(0.97,1)" font-size="11.23" text-anchor="end" fill="#111" stroke="#111" stroke-width="0.3" font-family="Liberation Serif" font-weight="bold" ><tspan>18%-MoS</tspan><tspan dy="2.92" font-size="7.86">2</tspan><tspan dy="-2.92">/Zn</tspan><tspan dy="2.92" font-size="7.86">3</tspan><tspan dy="-2.92">In</tspan><tspan dy="2.92" font-size="7.86">4</tspan><tspan dy="-2.92">S</tspan><tspan dy="2.92" font-size="7.86">9</tspan></text>
<defs>
<radialGradient id="gPink" cx="0.38" cy="0.35" r="0.7"><stop offset="0" stop-color="#f6d4f4"/><stop offset="0.55" stop-color="#d98bd6"/><stop offset="1" stop-color="#a65ca6"/></radialGradient>
<radialGradient id="gYel" cx="0.38" cy="0.35" r="0.7"><stop offset="0" stop-color="#ffffb0"/><stop offset="0.55" stop-color="#f0e43a"/><stop offset="1" stop-color="#c0b020"/></radialGradient>
<radialGradient id="gGray" cx="0.38" cy="0.35" r="0.7"><stop offset="0" stop-color="#d8d8d0"/><stop offset="0.55" stop-color="#8c8c86"/><stop offset="1" stop-color="#55554f"/></radialGradient>
<radialGradient id="gBrown" cx="0.38" cy="0.35" r="0.7"><stop offset="0" stop-color="#e8c8b0"/><stop offset="0.55" stop-color="#a06a50"/><stop offset="1" stop-color="#603a28"/></radialGradient>
<radialGradient id="gRedS" cx="0.38" cy="0.35" r="0.7"><stop offset="0" stop-color="#ffb0b0"/><stop offset="0.55" stop-color="#ee2020"/><stop offset="1" stop-color="#a00000"/></radialGradient>
<radialGradient id="gHS" cx="0.38" cy="0.35" r="0.7"><stop offset="0" stop-color="#ffffff"/><stop offset="0.6" stop-color="#f8e0e0"/><stop offset="1" stop-color="#d8a0a0"/></radialGradient>
</defs>
<defs><g id="slab4"><line x1="0" y1="0" x2="-8.6" y2="-2.5" stroke="#e2d25a" stroke-width="1.1"/><line x1="0" y1="0" x2="4.5" y2="-2.5" stroke="#e2d25a" stroke-width="1.1"/><line x1="0" y1="0" x2="0.2" y2="9.7" stroke="#e2d25a" stroke-width="1.1"/><line x1="0.2" y1="9.7" x2="4.7" y2="14.1" stroke="#d8a6d4" stroke-width="1.1"/><line x1="4.7" y1="14.1" x2="13.3" y2="9.7" stroke="#d8a6d4" stroke-width="1.1"/><line x1="4.7" y1="14.1" x2="9" y2="19.9" stroke="#d8a6d4" stroke-width="1.1"/><line x1="4.7" y1="14.1" x2="-4.1" y2="19.9" stroke="#d8a6d4" stroke-width="1.1"/><line x1="-4.1" y1="29.3" x2="0.7" y2="32.8" stroke="#d8a6d4" stroke-width="1.1"/><line x1="0.7" y1="32.8" x2="9" y2="29.3" stroke="#d8a6d4" stroke-width="1.1"/><line x1="13.1" y1="0" x2="4.5" y2="-2.5" stroke="#e2d25a" stroke-width="1.1"/><line x1="13.1" y1="0" x2="17.6" y2="-2.5" stroke="#e2d25a" stroke-width="1.1"/><line x1="13.1" y1="0" x2="13.3" y2="9.7" stroke="#e2d25a" stroke-width="1.1"/><line x1="13.3" y1="9.7" x2="17.8" y2="14.1" stroke="#d8a6d4" stroke-width="1.1"/><line x1="17.8" y1="14.1" x2="26.4" y2="9.7" stroke="#d8a6d4" stroke-width="1.1"/><line x1="17.8" y1="14.1" x2="22.1" y2="19.9" stroke="#d8a6d4" stroke-width="1.1"/><line x1="17.8" y1="14.1" x2="9" y2="19.9" stroke="#d8a6d4" stroke-width="1.1"/><line x1="9" y1="29.3" x2="13.8" y2="32.8" stroke="#d8a6d4" stroke-width="1.1"/><line x1="13.8" y1="32.8" x2="22.1" y2="29.3" stroke="#d8a6d4" stroke-width="1.1"/><line x1="26.2" y1="0" x2="17.6" y2="-2.5" stroke="#e2d25a" stroke-width="1.1"/><line x1="26.2" y1="0" x2="30.7" y2="-2.5" stroke="#e2d25a" stroke-width="1.1"/><line x1="26.2" y1="0" x2="26.4" y2="9.7" stroke="#e2d25a" stroke-width="1.1"/><line x1="26.4" y1="9.7" x2="30.9" y2="14.1" stroke="#d8a6d4" stroke-width="1.1"/><line x1="30.9" y1="14.1" x2="39.5" y2="9.7" stroke="#d8a6d4" stroke-width="1.1"/><line x1="30.9" y1="14.1" x2="35.2" y2="19.9" stroke="#d8a6d4" stroke-width="1.1"/><line x1="30.9" y1="14.1" x2="22.1" y2="19.9" stroke="#d8a6d4" stroke-width="1.1"/><line x1="22.1" y1="29.3" x2="26.9" y2="32.8" stroke="#d8a6d4" stroke-width="1.1"/><line x1="26.9" y1="32.8" x2="35.2" y2="29.3" stroke="#d8a6d4" stroke-width="1.1"/><line x1="39.3" y1="0" x2="30.7" y2="-2.5" stroke="#e2d25a" stroke-width="1.1"/><line x1="39.3" y1="0" x2="43.8" y2="-2.5" stroke="#e2d25a" stroke-width="1.1"/><line x1="39.3" y1="0" x2="39.5" y2="9.7" stroke="#e2d25a" stroke-width="1.1"/><line x1="39.5" y1="9.7" x2="44" y2="14.1" stroke="#d8a6d4" stroke-width="1.1"/><line x1="44" y1="14.1" x2="48.3" y2="19.9" stroke="#d8a6d4" stroke-width="1.1"/><line x1="44" y1="14.1" x2="35.2" y2="19.9" stroke="#d8a6d4" stroke-width="1.1"/><line x1="35.2" y1="29.3" x2="40" y2="32.8" stroke="#d8a6d4" stroke-width="1.1"/><line x1="40" y1="32.8" x2="48.3" y2="29.3" stroke="#d8a6d4" stroke-width="1.1"/><line x1="-4.1" y1="19.9" x2="-4.1" y2="29.3" stroke="#d8a6d4" stroke-width="1.1"/><line x1="9" y1="19.9" x2="9" y2="29.3" stroke="#d8a6d4" stroke-width="1.1"/><line x1="22.1" y1="19.9" x2="22.1" y2="29.3" stroke="#d8a6d4" stroke-width="1.1"/><line x1="35.2" y1="19.9" x2="35.2" y2="29.3" stroke="#d8a6d4" stroke-width="1.1"/><line x1="48.3" y1="19.9" x2="48.3" y2="29.3" stroke="#d8a6d4" stroke-width="1.1"/><line x1="-0.8" y1="42.5" x2="0.7" y2="32.8" stroke="#d8a6d4" stroke-width="1.1"/><line x1="11.2" y1="42.5" x2="13.8" y2="32.8" stroke="#d8a6d4" stroke-width="1.1"/><line x1="25.4" y1="42.5" x2="26.9" y2="32.8" stroke="#d8a6d4" stroke-width="1.1"/><line x1="37.4" y1="42.5" x2="40" y2="32.8" stroke="#d8a6d4" stroke-width="1.1"/><line x1="-0.8" y1="42.5" x2="11.2" y2="42.5" stroke="#e2d25a" stroke-width="1.1"/><line x1="25.4" y1="42.5" x2="37.4" y2="42.5" stroke="#e2d25a" stroke-width="1.1"/><circle cx="-8.6" cy="-2.5" r="2.1" fill="url(#gYel)"/><circle cx="4.5" cy="-2.5" r="2.1" fill="url(#gYel)"/><circle cx="17.6" cy="-2.5" r="2.1" fill="url(#gYel)"/><circle cx="30.7" cy="-2.5" r="2.1" fill="url(#gYel)"/><circle cx="43.8" cy="-2.5" r="2.1" fill="url(#gYel)"/><circle cx="0.2" cy="9.7" r="2.1" fill="url(#gYel)"/><circle cx="13.3" cy="9.7" r="2.1" fill="url(#gYel)"/><circle cx="26.4" cy="9.7" r="2.1" fill="url(#gYel)"/><circle cx="39.5" cy="9.7" r="2.1" fill="url(#gYel)"/><circle cx="52.3" cy="9.5" r="1.9" fill="url(#gYel)"/><circle cx="0" cy="0" r="2.6" fill="url(#gGray)"/><circle cx="13.1" cy="0" r="2.6" fill="url(#gGray)"/><circle cx="26.2" cy="0" r="2.6" fill="url(#gGray)"/><circle cx="39.3" cy="0" r="2.6" fill="url(#gGray)"/><circle cx="4.7" cy="14.1" r="3.0" fill="url(#gPink)"/><circle cx="17.8" cy="14.1" r="3.0" fill="url(#gPink)"/><circle cx="30.9" cy="14.1" r="3.0" fill="url(#gPink)"/><circle cx="44" cy="14.1" r="3.0" fill="url(#gPink)"/><circle cx="-4.1" cy="19.9" r="2.1" fill="url(#gYel)"/><circle cx="9" cy="19.9" r="2.1" fill="url(#gYel)"/><circle cx="22.1" cy="19.9" r="2.1" fill="url(#gYel)"/><circle cx="35.2" cy="19.9" r="2.1" fill="url(#gYel)"/><circle cx="48.3" cy="19.9" r="2.1" fill="url(#gYel)"/><circle cx="-4.1" cy="29.3" r="2.8" fill="url(#gPink)"/><circle cx="9" cy="29.3" r="2.8" fill="url(#gGray)"/><circle cx="22.1" cy="29.3" r="2.8" fill="url(#gPink)"/><circle cx="35.2" cy="29.3" r="2.8" fill="url(#gGray)"/><circle cx="48.3" cy="29.3" r="2.8" fill="url(#gPink)"/><circle cx="-9.04" cy="32.8" r="1.9" fill="url(#gYel)"/><circle cx="52.1" cy="32.4" r="1.9" fill="url(#gYel)"/><circle cx="0.7" cy="32.8" r="2.1" fill="url(#gYel)"/><circle cx="13.8" cy="32.8" r="2.1" fill="url(#gYel)"/><circle cx="26.9" cy="32.8" r="2.1" fill="url(#gYel)"/><circle cx="40" cy="32.8" r="2.1" fill="url(#gYel)"/><circle cx="-0.8" cy="42.5" r="3.0" fill="url(#gPink)"/><circle cx="11.2" cy="42.5" r="3.0" fill="url(#gPink)"/><circle cx="25.4" cy="42.5" r="3.0" fill="url(#gPink)"/><circle cx="37.4" cy="42.5" r="3.0" fill="url(#gPink)"/><circle cx="3.7" cy="44.6" r="1.8" fill="url(#gYel)"/><circle cx="7.8" cy="45.2" r="1.8" fill="url(#gYel)"/><circle cx="29.9" cy="44.6" r="1.8" fill="url(#gYel)"/><circle cx="34" cy="45.2" r="1.8" fill="url(#gYel)"/></g><g id="slab5"><line x1="0" y1="0" x2="-8.6" y2="-2.5" stroke="#e2d25a" stroke-width="1.1"/><line x1="0" y1="0" x2="4.5" y2="-2.5" stroke="#e2d25a" stroke-width="1.1"/><line x1="0" y1="0" x2="0.2" y2="9.7" stroke="#e2d25a" stroke-width="1.1"/><line x1="0.2" y1="9.7" x2="4.7" y2="14.1" stroke="#d8a6d4" stroke-width="1.1"/><line x1="4.7" y1="14.1" x2="13.3" y2="9.7" stroke="#d8a6d4" stroke-width="1.1"/><line x1="4.7" y1="14.1" x2="9" y2="19.9" stroke="#d8a6d4" stroke-width="1.1"/><line x1="4.7" y1="14.1" x2="-4.1" y2="19.9" stroke="#d8a6d4" stroke-width="1.1"/><line x1="-4.1" y1="29.3" x2="0.7" y2="32.8" stroke="#d8a6d4" stroke-width="1.1"/><line x1="0.7" y1="32.8" x2="9" y2="29.3" stroke="#d8a6d4" stroke-width="1.1"/><line x1="13.1" y1="0" x2="4.5" y2="-2.5" stroke="#e2d25a" stroke-width="1.1"/><line x1="13.1" y1="0" x2="17.6" y2="-2.5" stroke="#e2d25a" stroke-width="1.1"/><line x1="13.1" y1="0" x2="13.3" y2="9.7" stroke="#e2d25a" stroke-width="1.1"/><line x1="13.3" y1="9.7" x2="17.8" y2="14.1" stroke="#d8a6d4" stroke-width="1.1"/><line x1="17.8" y1="14.1" x2="26.4" y2="9.7" stroke="#d8a6d4" stroke-width="1.1"/><line x1="17.8" y1="14.1" x2="22.1" y2="19.9" stroke="#d8a6d4" stroke-width="1.1"/><line x1="17.8" y1="14.1" x2="9" y2="19.9" stroke="#d8a6d4" stroke-width="1.1"/><line x1="9" y1="29.3" x2="13.8" y2="32.8" stroke="#d8a6d4" stroke-width="1.1"/><line x1="13.8" y1="32.8" x2="22.1" y2="29.3" stroke="#d8a6d4" stroke-width="1.1"/><line x1="26.2" y1="0" x2="17.6" y2="-2.5" stroke="#e2d25a" stroke-width="1.1"/><line x1="26.2" y1="0" x2="30.7" y2="-2.5" stroke="#e2d25a" stroke-width="1.1"/><line x1="26.2" y1="0" x2="26.4" y2="9.7" stroke="#e2d25a" stroke-width="1.1"/><line x1="26.4" y1="9.7" x2="30.9" y2="14.1" stroke="#d8a6d4" stroke-width="1.1"/><line x1="30.9" y1="14.1" x2="39.5" y2="9.7" stroke="#d8a6d4" stroke-width="1.1"/><line x1="30.9" y1="14.1" x2="35.2" y2="19.9" stroke="#d8a6d4" stroke-width="1.1"/><line x1="30.9" y1="14.1" x2="22.1" y2="19.9" stroke="#d8a6d4" stroke-width="1.1"/><line x1="22.1" y1="29.3" x2="26.9" y2="32.8" stroke="#d8a6d4" stroke-width="1.1"/><line x1="26.9" y1="32.8" x2="35.2" y2="29.3" stroke="#d8a6d4" stroke-width="1.1"/><line x1="39.3" y1="0" x2="30.7" y2="-2.5" stroke="#e2d25a" stroke-width="1.1"/><line x1="39.3" y1="0" x2="43.8" y2="-2.5" stroke="#e2d25a" stroke-width="1.1"/><line x1="39.3" y1="0" x2="39.5" y2="9.7" stroke="#e2d25a" stroke-width="1.1"/><line x1="39.5" y1="9.7" x2="44" y2="14.1" stroke="#d8a6d4" stroke-width="1.1"/><line x1="44" y1="14.1" x2="52.6" y2="9.7" stroke="#d8a6d4" stroke-width="1.1"/><line x1="44" y1="14.1" x2="48.3" y2="19.9" stroke="#d8a6d4" stroke-width="1.1"/><line x1="44" y1="14.1" x2="35.2" y2="19.9" stroke="#d8a6d4" stroke-width="1.1"/><line x1="35.2" y1="29.3" x2="40" y2="32.8" stroke="#d8a6d4" stroke-width="1.1"/><line x1="40" y1="32.8" x2="48.3" y2="29.3" stroke="#d8a6d4" stroke-width="1.1"/><line x1="52.4" y1="0" x2="43.8" y2="-2.5" stroke="#e2d25a" stroke-width="1.1"/><line x1="52.4" y1="0" x2="56.9" y2="-2.5" stroke="#e2d25a" stroke-width="1.1"/><line x1="52.4" y1="0" x2="52.6" y2="9.7" stroke="#e2d25a" stroke-width="1.1"/><line x1="52.6" y1="9.7" x2="57.1" y2="14.1" stroke="#d8a6d4" stroke-width="1.1"/><line x1="57.1" y1="14.1" x2="61.4" y2="19.9" stroke="#d8a6d4" stroke-width="1.1"/><line x1="57.1" y1="14.1" x2="48.3" y2="19.9" stroke="#d8a6d4" stroke-width="1.1"/><line x1="48.3" y1="29.3" x2="53.1" y2="32.8" stroke="#d8a6d4" stroke-width="1.1"/><line x1="53.1" y1="32.8" x2="61.4" y2="29.3" stroke="#d8a6d4" stroke-width="1.1"/><line x1="-4.1" y1="19.9" x2="-4.1" y2="29.3" stroke="#d8a6d4" stroke-width="1.1"/><line x1="9" y1="19.9" x2="9" y2="29.3" stroke="#d8a6d4" stroke-width="1.1"/><line x1="22.1" y1="19.9" x2="22.1" y2="29.3" stroke="#d8a6d4" stroke-width="1.1"/><line x1="35.2" y1="19.9" x2="35.2" y2="29.3" stroke="#d8a6d4" stroke-width="1.1"/><line x1="48.3" y1="19.9" x2="48.3" y2="29.3" stroke="#d8a6d4" stroke-width="1.1"/><line x1="61.4" y1="19.9" x2="61.4" y2="29.3" stroke="#d8a6d4" stroke-width="1.1"/><line x1="-0.8" y1="42.5" x2="0.7" y2="32.8" stroke="#d8a6d4" stroke-width="1.1"/><line x1="11.2" y1="42.5" x2="13.8" y2="32.8" stroke="#d8a6d4" stroke-width="1.1"/><line x1="25.4" y1="42.5" x2="26.9" y2="32.8" stroke="#d8a6d4" stroke-width="1.1"/><line x1="37.4" y1="42.5" x2="40" y2="32.8" stroke="#d8a6d4" stroke-width="1.1"/><line x1="51.6" y1="42.5" x2="53.1" y2="32.8" stroke="#d8a6d4" stroke-width="1.1"/><line x1="63.6" y1="42.5" x2="53.1" y2="32.8" stroke="#d8a6d4" stroke-width="1.1"/><line x1="-0.8" y1="42.5" x2="11.2" y2="42.5" stroke="#e2d25a" stroke-width="1.1"/><line x1="25.4" y1="42.5" x2="37.4" y2="42.5" stroke="#e2d25a" stroke-width="1.1"/><line x1="51.6" y1="42.5" x2="63.6" y2="42.5" stroke="#e2d25a" stroke-width="1.1"/><circle cx="-8.6" cy="-2.5" r="2.1" fill="url(#gYel)"/><circle cx="4.5" cy="-2.5" r="2.1" fill="url(#gYel)"/><circle cx="17.6" cy="-2.5" r="2.1" fill="url(#gYel)"/><circle cx="30.7" cy="-2.5" r="2.1" fill="url(#gYel)"/><circle cx="43.8" cy="-2.5" r="2.1" fill="url(#gYel)"/><circle cx="56.9" cy="-2.5" r="2.1" fill="url(#gYel)"/><circle cx="0.2" cy="9.7" r="2.1" fill="url(#gYel)"/><circle cx="13.3" cy="9.7" r="2.1" fill="url(#gYel)"/><circle cx="26.4" cy="9.7" r="2.1" fill="url(#gYel)"/><circle cx="39.5" cy="9.7" r="2.1" fill="url(#gYel)"/><circle cx="52.6" cy="9.7" r="2.1" fill="url(#gYel)"/><circle cx="65.4" cy="9.5" r="1.9" fill="url(#gYel)"/><circle cx="0" cy="0" r="2.6" fill="url(#gGray)"/><circle cx="13.1" cy="0" r="2.6" fill="url(#gGray)"/><circle cx="26.2" cy="0" r="2.6" fill="url(#gGray)"/><circle cx="39.3" cy="0" r="2.6" fill="url(#gGray)"/><circle cx="52.4" cy="0" r="2.6" fill="url(#gGray)"/><circle cx="4.7" cy="14.1" r="3.0" fill="url(#gPink)"/><circle cx="17.8" cy="14.1" r="3.0" fill="url(#gPink)"/><circle cx="30.9" cy="14.1" r="3.0" fill="url(#gPink)"/><circle cx="44" cy="14.1" r="3.0" fill="url(#gPink)"/><circle cx="57.1" cy="14.1" r="3.0" fill="url(#gPink)"/><circle cx="-4.1" cy="19.9" r="2.1" fill="url(#gYel)"/><circle cx="9" cy="19.9" r="2.1" fill="url(#gYel)"/><circle cx="22.1" cy="19.9" r="2.1" fill="url(#gYel)"/><circle cx="35.2" cy="19.9" r="2.1" fill="url(#gYel)"/><circle cx="48.3" cy="19.9" r="2.1" fill="url(#gYel)"/><circle cx="61.4" cy="19.9" r="2.1" fill="url(#gYel)"/><circle cx="-4.1" cy="29.3" r="2.8" fill="url(#gPink)"/><circle cx="9" cy="29.3" r="2.8" fill="url(#gGray)"/><circle cx="22.1" cy="29.3" r="2.8" fill="url(#gPink)"/><circle cx="35.2" cy="29.3" r="2.8" fill="url(#gGray)"/><circle cx="48.3" cy="29.3" r="2.8" fill="url(#gPink)"/><circle cx="61.4" cy="29.3" r="2.8" fill="url(#gGray)"/><circle cx="-9.04" cy="32.8" r="1.9" fill="url(#gYel)"/><circle cx="65.2" cy="32.4" r="1.9" fill="url(#gYel)"/><circle cx="0.7" cy="32.8" r="2.1" fill="url(#gYel)"/><circle cx="13.8" cy="32.8" r="2.1" fill="url(#gYel)"/><circle cx="26.9" cy="32.8" r="2.1" fill="url(#gYel)"/><circle cx="40" cy="32.8" r="2.1" fill="url(#gYel)"/><circle cx="53.1" cy="32.8" r="2.1" fill="url(#gYel)"/><circle cx="-0.8" cy="42.5" r="3.0" fill="url(#gPink)"/><circle cx="11.2" cy="42.5" r="3.0" fill="url(#gPink)"/><circle cx="25.4" cy="42.5" r="3.0" fill="url(#gPink)"/><circle cx="37.4" cy="42.5" r="3.0" fill="url(#gPink)"/><circle cx="51.6" cy="42.5" r="3.0" fill="url(#gPink)"/><circle cx="63.6" cy="42.5" r="3.0" fill="url(#gPink)"/><circle cx="3.7" cy="44.6" r="1.8" fill="url(#gYel)"/><circle cx="7.8" cy="45.2" r="1.8" fill="url(#gYel)"/><circle cx="29.9" cy="44.6" r="1.8" fill="url(#gYel)"/><circle cx="34" cy="45.2" r="1.8" fill="url(#gYel)"/><circle cx="56.1" cy="44.6" r="1.8" fill="url(#gYel)"/><circle cx="60.2" cy="45.2" r="1.8" fill="url(#gYel)"/></g></defs>
<rect x="31.5" y="205.2" width="319.1" height="169" fill="url(#pg)"/>
<use href="#slab4" transform="translate(254.3,325.7)"/>
<use href="#slab4" transform="translate(51.2,322) scale(1.04)"/>
<use href="#slab4" transform="translate(218,221.2) scale(0.93)"/>
<use href="#slab4" transform="translate(298.5,262) scale(0.77)"/>
<use href="#slab4" transform="translate(106.3,246.7) rotate(90) scale(0.73)"/>
<use href="#slab4" transform="translate(218.6,278.4) rotate(90) scale(0.82)"/>
<line x1="60.4" y1="246.2" x2="55.8" y2="250" stroke="#e2d25a" stroke-width="1"/><line x1="60.4" y1="246.2" x2="55.8" y2="242.4" stroke="#e2d25a" stroke-width="1"/><line x1="60.4" y1="246.2" x2="65" y2="250" stroke="#e2d25a" stroke-width="1"/><line x1="60.4" y1="246.2" x2="65" y2="242.4" stroke="#e2d25a" stroke-width="1"/><line x1="60.4" y1="253.8" x2="55.8" y2="257.6" stroke="#e2d25a" stroke-width="1"/><line x1="60.4" y1="253.8" x2="55.8" y2="250" stroke="#e2d25a" stroke-width="1"/><line x1="60.4" y1="253.8" x2="65" y2="257.6" stroke="#e2d25a" stroke-width="1"/><line x1="60.4" y1="253.8" x2="65" y2="250" stroke="#e2d25a" stroke-width="1"/><line x1="60.4" y1="261.4" x2="55.8" y2="265.2" stroke="#e2d25a" stroke-width="1"/><line x1="60.4" y1="261.4" x2="55.8" y2="257.6" stroke="#e2d25a" stroke-width="1"/><line x1="60.4" y1="261.4" x2="65" y2="265.2" stroke="#e2d25a" stroke-width="1"/><line x1="60.4" y1="261.4" x2="65" y2="257.6" stroke="#e2d25a" stroke-width="1"/><line x1="60.4" y1="269" x2="55.8" y2="272.8" stroke="#e2d25a" stroke-width="1"/><line x1="60.4" y1="269" x2="55.8" y2="265.2" stroke="#e2d25a" stroke-width="1"/><line x1="60.4" y1="269" x2="65" y2="272.8" stroke="#e2d25a" stroke-width="1"/><line x1="60.4" y1="269" x2="65" y2="265.2" stroke="#e2d25a" stroke-width="1"/><line x1="60.4" y1="276.6" x2="55.8" y2="280.4" stroke="#e2d25a" stroke-width="1"/><line x1="60.4" y1="276.6" x2="55.8" y2="272.8" stroke="#e2d25a" stroke-width="1"/><line x1="60.4" y1="276.6" x2="65" y2="280.4" stroke="#e2d25a" stroke-width="1"/><line x1="60.4" y1="276.6" x2="65" y2="272.8" stroke="#e2d25a" stroke-width="1"/><line x1="60.4" y1="284.2" x2="55.8" y2="288" stroke="#e2d25a" stroke-width="1"/><line x1="60.4" y1="284.2" x2="55.8" y2="280.4" stroke="#e2d25a" stroke-width="1"/><line x1="60.4" y1="284.2" x2="65" y2="288" stroke="#e2d25a" stroke-width="1"/><line x1="60.4" y1="284.2" x2="65" y2="280.4" stroke="#e2d25a" stroke-width="1"/><circle cx="55.8" cy="242.4" r="1.8" fill="url(#gYel)"/><circle cx="65" cy="242.4" r="1.8" fill="url(#gYel)"/><circle cx="55.8" cy="250" r="1.8" fill="url(#gYel)"/><circle cx="65" cy="250" r="1.8" fill="url(#gYel)"/><circle cx="55.8" cy="257.6" r="1.8" fill="url(#gYel)"/><circle cx="65" cy="257.6" r="1.8" fill="url(#gYel)"/><circle cx="55.8" cy="265.2" r="1.8" fill="url(#gYel)"/><circle cx="65" cy="265.2" r="1.8" fill="url(#gYel)"/><circle cx="55.8" cy="272.8" r="1.8" fill="url(#gYel)"/><circle cx="65" cy="272.8" r="1.8" fill="url(#gYel)"/><circle cx="55.8" cy="280.4" r="1.8" fill="url(#gYel)"/><circle cx="65" cy="280.4" r="1.8" fill="url(#gYel)"/><circle cx="55.8" cy="288" r="1.8" fill="url(#gYel)"/><circle cx="65" cy="288" r="1.8" fill="url(#gYel)"/><circle cx="60.4" cy="246.2" r="2.2" fill="url(#gPink)"/><circle cx="60.4" cy="253.8" r="2.2" fill="url(#gPink)"/><circle cx="60.4" cy="261.4" r="2.2" fill="url(#gPink)"/><circle cx="60.4" cy="269" r="2.2" fill="url(#gPink)"/><circle cx="60.4" cy="276.6" r="2.2" fill="url(#gPink)"/><circle cx="60.4" cy="284.2" r="2.2" fill="url(#gPink)"/>
<line x1="167" y1="274.9" x2="162.4" y2="279.2" stroke="#e2d25a" stroke-width="1"/><line x1="167" y1="274.9" x2="162.4" y2="270.6" stroke="#e2d25a" stroke-width="1"/><line x1="167" y1="274.9" x2="171.6" y2="279.2" stroke="#e2d25a" stroke-width="1"/><line x1="167" y1="274.9" x2="171.6" y2="270.6" stroke="#e2d25a" stroke-width="1"/><line x1="167" y1="283.5" x2="162.4" y2="287.8" stroke="#e2d25a" stroke-width="1"/><line x1="167" y1="283.5" x2="162.4" y2="279.2" stroke="#e2d25a" stroke-width="1"/><line x1="167" y1="283.5" x2="171.6" y2="287.8" stroke="#e2d25a" stroke-width="1"/><line x1="167" y1="283.5" x2="171.6" y2="279.2" stroke="#e2d25a" stroke-width="1"/><line x1="167" y1="292.1" x2="162.4" y2="296.4" stroke="#e2d25a" stroke-width="1"/><line x1="167" y1="292.1" x2="162.4" y2="287.8" stroke="#e2d25a" stroke-width="1"/><line x1="167" y1="292.1" x2="171.6" y2="296.4" stroke="#e2d25a" stroke-width="1"/><line x1="167" y1="292.1" x2="171.6" y2="287.8" stroke="#e2d25a" stroke-width="1"/><line x1="167" y1="300.7" x2="162.4" y2="305" stroke="#e2d25a" stroke-width="1"/><line x1="167" y1="300.7" x2="162.4" y2="296.4" stroke="#e2d25a" stroke-width="1"/><line x1="167" y1="300.7" x2="171.6" y2="305" stroke="#e2d25a" stroke-width="1"/><line x1="167" y1="300.7" x2="171.6" y2="296.4" stroke="#e2d25a" stroke-width="1"/><line x1="167" y1="309.3" x2="162.4" y2="313.6" stroke="#e2d25a" stroke-width="1"/><line x1="167" y1="309.3" x2="162.4" y2="305" stroke="#e2d25a" stroke-width="1"/><line x1="167" y1="309.3" x2="171.6" y2="313.6" stroke="#e2d25a" stroke-width="1"/><line x1="167" y1="309.3" x2="171.6" y2="305" stroke="#e2d25a" stroke-width="1"/><line x1="167" y1="317.9" x2="162.4" y2="322.2" stroke="#e2d25a" stroke-width="1"/><line x1="167" y1="317.9" x2="162.4" y2="313.6" stroke="#e2d25a" stroke-width="1"/><line x1="167" y1="317.9" x2="171.6" y2="322.2" stroke="#e2d25a" stroke-width="1"/><line x1="167" y1="317.9" x2="171.6" y2="313.6" stroke="#e2d25a" stroke-width="1"/><circle cx="162.4" cy="270.6" r="1.8" fill="url(#gYel)"/><circle cx="171.6" cy="270.6" r="1.8" fill="url(#gYel)"/><circle cx="162.4" cy="279.2" r="1.8" fill="url(#gYel)"/><circle cx="171.6" cy="279.2" r="1.8" fill="url(#gYel)"/><circle cx="162.4" cy="287.8" r="1.8" fill="url(#gYel)"/><circle cx="171.6" cy="287.8" r="1.8" fill="url(#gYel)"/><circle cx="162.4" cy="296.4" r="1.8" fill="url(#gYel)"/><circle cx="171.6" cy="296.4" r="1.8" fill="url(#gYel)"/><circle cx="162.4" cy="305" r="1.8" fill="url(#gYel)"/><circle cx="171.6" cy="305" r="1.8" fill="url(#gYel)"/><circle cx="162.4" cy="313.6" r="1.8" fill="url(#gYel)"/><circle cx="171.6" cy="313.6" r="1.8" fill="url(#gYel)"/><circle cx="162.4" cy="322.2" r="1.8" fill="url(#gYel)"/><circle cx="171.6" cy="322.2" r="1.8" fill="url(#gYel)"/><circle cx="167" cy="274.9" r="2.2" fill="url(#gPink)"/><circle cx="167" cy="283.5" r="2.2" fill="url(#gPink)"/><circle cx="167" cy="292.1" r="2.2" fill="url(#gPink)"/><circle cx="167" cy="300.7" r="2.2" fill="url(#gPink)"/><circle cx="167" cy="309.3" r="2.2" fill="url(#gPink)"/><circle cx="167" cy="317.9" r="2.2" fill="url(#gPink)"/>
<line x1="293.6" y1="305.3" x2="297.6" y2="309.8" stroke="#d8a6d4" stroke-width="1"/><line x1="293.6" y1="314.3" x2="297.6" y2="309.8" stroke="#d8a6d4" stroke-width="1"/><line x1="301.6" y1="305.3" x2="297.6" y2="309.8" stroke="#e2d25a" stroke-width="1"/><line x1="301.6" y1="305.3" x2="305.6" y2="309.8" stroke="#d8a6d4" stroke-width="1"/><line x1="301.6" y1="314.3" x2="297.6" y2="309.8" stroke="#e2d25a" stroke-width="1"/><line x1="301.6" y1="314.3" x2="305.6" y2="309.8" stroke="#d8a6d4" stroke-width="1"/><line x1="309.6" y1="305.3" x2="305.6" y2="309.8" stroke="#e2d25a" stroke-width="1"/><line x1="309.6" y1="305.3" x2="313.6" y2="309.8" stroke="#d8a6d4" stroke-width="1"/><line x1="309.6" y1="314.3" x2="305.6" y2="309.8" stroke="#e2d25a" stroke-width="1"/><line x1="309.6" y1="314.3" x2="313.6" y2="309.8" stroke="#d8a6d4" stroke-width="1"/><line x1="317.6" y1="305.3" x2="313.6" y2="309.8" stroke="#e2d25a" stroke-width="1"/><line x1="317.6" y1="305.3" x2="321.6" y2="309.8" stroke="#d8a6d4" stroke-width="1"/><line x1="317.6" y1="314.3" x2="313.6" y2="309.8" stroke="#e2d25a" stroke-width="1"/><line x1="317.6" y1="314.3" x2="321.6" y2="309.8" stroke="#d8a6d4" stroke-width="1"/><line x1="325.6" y1="305.3" x2="321.6" y2="309.8" stroke="#e2d25a" stroke-width="1"/><line x1="325.6" y1="305.3" x2="329.6" y2="309.8" stroke="#d8a6d4" stroke-width="1"/><line x1="325.6" y1="314.3" x2="321.6" y2="309.8" stroke="#e2d25a" stroke-width="1"/><line x1="325.6" y1="314.3" x2="329.6" y2="309.8" stroke="#d8a6d4" stroke-width="1"/><line x1="333.6" y1="305.3" x2="329.6" y2="309.8" stroke="#e2d25a" stroke-width="1"/><line x1="333.6" y1="305.3" x2="337.6" y2="309.8" stroke="#d8a6d4" stroke-width="1"/><line x1="333.6" y1="314.3" x2="329.6" y2="309.8" stroke="#e2d25a" stroke-width="1"/><line x1="333.6" y1="314.3" x2="337.6" y2="309.8" stroke="#d8a6d4" stroke-width="1"/><line x1="341.6" y1="305.3" x2="337.6" y2="309.8" stroke="#e2d25a" stroke-width="1"/><line x1="341.6" y1="314.3" x2="337.6" y2="309.8" stroke="#e2d25a" stroke-width="1"/><circle cx="293.6" cy="305.3" r="1.7" fill="url(#gYel)"/><circle cx="293.6" cy="314.3" r="1.7" fill="url(#gYel)"/><circle cx="301.6" cy="305.3" r="1.7" fill="url(#gYel)"/><circle cx="301.6" cy="314.3" r="1.7" fill="url(#gYel)"/><circle cx="309.6" cy="305.3" r="1.7" fill="url(#gYel)"/><circle cx="309.6" cy="314.3" r="1.7" fill="url(#gYel)"/><circle cx="317.6" cy="305.3" r="1.7" fill="url(#gYel)"/><circle cx="317.6" cy="314.3" r="1.7" fill="url(#gYel)"/><circle cx="325.6" cy="305.3" r="1.7" fill="url(#gYel)"/><circle cx="325.6" cy="314.3" r="1.7" fill="url(#gYel)"/><circle cx="333.6" cy="305.3" r="1.7" fill="url(#gYel)"/><circle cx="333.6" cy="314.3" r="1.7" fill="url(#gYel)"/><circle cx="341.6" cy="305.3" r="1.7" fill="url(#gYel)"/><circle cx="341.6" cy="314.3" r="1.7" fill="url(#gYel)"/><circle cx="297.6" cy="309.8" r="2.2" fill="url(#gPink)"/><circle cx="305.6" cy="309.8" r="2.2" fill="url(#gPink)"/><circle cx="313.6" cy="309.8" r="2.2" fill="url(#gPink)"/><circle cx="321.6" cy="309.8" r="2.2" fill="url(#gPink)"/><circle cx="329.6" cy="309.8" r="2.2" fill="url(#gPink)"/><circle cx="337.6" cy="309.8" r="2.2" fill="url(#gPink)"/>
<g transform="translate(73,307) rotate(0) scale(1.0)"><path d="M-8,0 L-4,-2 L0,0 L4,-2 L8,0 M-4,-2 L-4,2 M0,0 L0,3 M4,-2 L6,2" stroke="#9a6a55" stroke-width="1.3" fill="none"/><ellipse cx="0" cy="0" rx="7" ry="2" fill="#b48570" opacity="0.7"/><circle cx="-9" cy="-0.5" r="1.4" fill="#e83030"/><circle cx="9.5" cy="0.5" r="1" fill="#f0d8d8"/></g>
<g transform="translate(238,209) rotate(0) scale(0.9)"><path d="M-8,0 L-4,-2 L0,0 L4,-2 L8,0 M-4,-2 L-4,2 M0,0 L0,3 M4,-2 L6,2" stroke="#9a6a55" stroke-width="1.3" fill="none"/><ellipse cx="0" cy="0" rx="7" ry="2" fill="#b48570" opacity="0.7"/><circle cx="-9" cy="-0.5" r="1.4" fill="#e83030"/><circle cx="9.5" cy="0.5" r="1" fill="#f0d8d8"/></g>
<g transform="translate(273,313) rotate(-15) scale(1.0)"><path d="M-8,0 L-4,-2 L0,0 L4,-2 L8,0 M-4,-2 L-4,2 M0,0 L0,3 M4,-2 L6,2" stroke="#9a6a55" stroke-width="1.3" fill="none"/><ellipse cx="0" cy="0" rx="7" ry="2" fill="#b48570" opacity="0.7"/><circle cx="-9" cy="-0.5" r="1.4" fill="#e83030"/><circle cx="9.5" cy="0.5" r="1" fill="#f0d8d8"/></g>
<g transform="translate(316.5,254) rotate(0) scale(0.75)"><path d="M-8,0 L-4,-2 L0,0 L4,-2 L8,0 M-4,-2 L-4,2 M0,0 L0,3 M4,-2 L6,2" stroke="#9a6a55" stroke-width="1.3" fill="none"/><ellipse cx="0" cy="0" rx="7" ry="2" fill="#b48570" opacity="0.7"/><circle cx="-9" cy="-0.5" r="1.4" fill="#e83030"/><circle cx="9.5" cy="0.5" r="1" fill="#f0d8d8"/></g>
<g transform="translate(116,263) rotate(90) scale(0.8)"><path d="M-8,0 L-4,-2 L0,0 L4,-2 L8,0 M-4,-2 L-4,2 M0,0 L0,3 M4,-2 L6,2" stroke="#9a6a55" stroke-width="1.3" fill="none"/><ellipse cx="0" cy="0" rx="7" ry="2" fill="#b48570" opacity="0.7"/><circle cx="-9" cy="-0.5" r="1.4" fill="#e83030"/><circle cx="9.5" cy="0.5" r="1" fill="#f0d8d8"/></g>
<g transform="translate(226,293) rotate(80) scale(0.9)"><path d="M-8,0 L-4,-2 L0,0 L4,-2 L8,0 M-4,-2 L-4,2 M0,0 L0,3 M4,-2 L6,2" stroke="#9a6a55" stroke-width="1.3" fill="none"/><ellipse cx="0" cy="0" rx="7" ry="2" fill="#b48570" opacity="0.7"/><circle cx="-9" cy="-0.5" r="1.4" fill="#e83030"/><circle cx="9.5" cy="0.5" r="1" fill="#f0d8d8"/></g>
<line x1="35" y1="213" x2="63" y2="213" stroke="#1a9a1a" stroke-width="2"/>
<line x1="35" y1="231.8" x2="63" y2="231.8" stroke="#f01818" stroke-width="2"/>
<text transform="translate(66,217.3) scale(0.97,1)" font-size="12.26" text-anchor="start" fill="#111" stroke="#111" stroke-width="0.3" font-family="Liberation Serif" font-weight="bold" ><tspan>Zn</tspan><tspan dy="3.19" font-size="8.09">3</tspan><tspan dy="-3.19">In</tspan><tspan dy="3.19" font-size="8.09">4</tspan><tspan dy="-3.19">S</tspan><tspan dy="3.19" font-size="8.09">9</tspan></text>
<text transform="translate(66,236.1) scale(0.97,1)" font-size="12.26" text-anchor="start" fill="#111" stroke="#111" stroke-width="0.3" font-family="Liberation Serif" font-weight="bold" ><tspan>6%-MoS</tspan><tspan dy="3.19" font-size="8.09">2</tspan><tspan dy="-3.19">/Zn</tspan><tspan dy="3.19" font-size="8.09">3</tspan><tspan dy="-3.19">In</tspan><tspan dy="3.19" font-size="8.09">4</tspan><tspan dy="-3.19">S</tspan><tspan dy="3.19" font-size="8.09">9</tspan></text>
<line x1="117.5" y1="288.5" x2="163" y2="322.5" stroke="#f01818" stroke-width="2.2" stroke-dasharray="6,4.5"/>
<line x1="116.5" y1="289.5" x2="163" y2="365" stroke="#1a9a1a" stroke-width="2.2" stroke-dasharray="6,4.5"/>
<line x1="221" y1="320" x2="267" y2="282" stroke="#f01818" stroke-width="2.2" stroke-dasharray="6,4.5"/>
<line x1="221" y1="364" x2="267" y2="251.5" stroke="#1a9a1a" stroke-width="2.2" stroke-dasharray="6,4.5"/>
<line x1="58" y1="282.1" x2="112" y2="282.1" stroke="#1a9a1a" stroke-width="2.2"/>
<line x1="164" y1="324" x2="218" y2="324" stroke="#f01818" stroke-width="2.2"/>
<line x1="164" y1="367" x2="218" y2="367" stroke="#1a9a1a" stroke-width="2.2"/>
<polyline points="218,324 222,319.5" stroke="#f01818" stroke-width="2.2" fill="none"/>
<polyline points="218,367 221.5,362" stroke="#1a9a1a" stroke-width="2.2" fill="none"/>
<line x1="270.5" y1="279.2" x2="324.7" y2="279.2" stroke="#f01818" stroke-width="2.2"/>
<line x1="269.5" y1="248.1" x2="324.7" y2="248.1" stroke="#1a9a1a" stroke-width="2.2"/>
<polyline points="266,283 270.5,279.2" stroke="#f01818" stroke-width="2.2" fill="none"/>
<polyline points="267.5,252 269.5,248.1" stroke="#1a9a1a" stroke-width="2.2" fill="none"/>
<rect x="31.5" y="205.2" width="319.1" height="169" fill="none" stroke="#222" stroke-width="1.3"/>
<line x1="31.5" y1="205.2" x2="31.5" y2="374.2" stroke="#6e6e6e" stroke-width="1.6"/>
<line x1="29.0" y1="205.5" x2="31.5" y2="205.5" stroke="#222" stroke-width="1"/>
<text transform="translate(27.5,209.8) scale(0.97,1)" font-size="13.39" text-anchor="end" fill="#111" stroke="#111" stroke-width="0.3" font-family="Liberation Serif" font-weight="bold" >1</text>
<line x1="29.0" y1="282.1" x2="31.5" y2="282.1" stroke="#222" stroke-width="1"/>
<text transform="translate(27.5,286.4) scale(0.97,1)" font-size="13.39" text-anchor="end" fill="#111" stroke="#111" stroke-width="0.3" font-family="Liberation Serif" font-weight="bold" >0</text>
<line x1="29.0" y1="358.7" x2="31.5" y2="358.7" stroke="#222" stroke-width="1"/>
<text transform="translate(27.5,363) scale(0.97,1)" font-size="13.39" text-anchor="end" fill="#111" stroke="#111" stroke-width="0.3" font-family="Liberation Serif" font-weight="bold" >-1</text>
<line x1="29.7" y1="243.8" x2="31.5" y2="243.8" stroke="#222" stroke-width="1"/>
<line x1="29.7" y1="320.4" x2="31.5" y2="320.4" stroke="#222" stroke-width="1"/>
<text transform="translate(4,213.6) scale(0.97,1)" font-size="17" text-anchor="start" fill="#111" stroke="#111" stroke-width="0.3" font-family="Liberation Serif" font-weight="bold" >d</text>
<text transform="translate(11,292.3) rotate(-90) scale(0.97,1)" font-size="14.94" text-anchor="middle" fill="#111" stroke="#111" stroke-width="0.3" font-family="Liberation Serif" font-weight="bold" >Free Energy (eV)</text>
<text transform="translate(40.6,298.7) scale(0.97,1)" font-size="11.95" text-anchor="start" fill="#111" stroke="#111" stroke-width="0.3" font-family="Liberation Serif" font-weight="bold" ><tspan>*C</tspan><tspan dy="3.11" font-size="7.89">6</tspan><tspan dy="-3.11">H</tspan><tspan dy="3.11" font-size="7.89">5</tspan><tspan dy="-3.11">CH</tspan><tspan dy="3.11" font-size="7.89">2</tspan><tspan dy="-3.11">OH</tspan></text>
<text transform="translate(111,323.5) scale(0.97,1)" font-size="11.95" text-anchor="start" fill="#111" stroke="#111" stroke-width="0.3" font-family="Liberation Serif" font-weight="bold" ><tspan>ΔG</tspan><tspan dy="3.11" font-size="7.89">1</tspan></text>
<text transform="translate(157.7,348.8) scale(0.97,1)" font-size="11.95" text-anchor="start" fill="#111" stroke="#111" stroke-width="0.3" font-family="Liberation Serif" font-weight="bold" ><tspan>*C</tspan><tspan dy="3.11" font-size="7.89">6</tspan><tspan dy="-3.11">H</tspan><tspan dy="3.11" font-size="7.89">5</tspan><tspan dy="-3.11">CHOH</tspan></text>
<text transform="translate(266.4,242.8) scale(0.97,1)" font-size="11.95" text-anchor="start" fill="#111" stroke="#111" stroke-width="0.3" font-family="Liberation Serif" font-weight="bold" ><tspan>*C</tspan><tspan dy="3.11" font-size="7.89">6</tspan><tspan dy="-3.11">H</tspan><tspan dy="3.11" font-size="7.89">5</tspan><tspan dy="-3.11">CHO</tspan></text>
<text transform="translate(247.4,309.1) scale(0.97,1)" font-size="11.95" text-anchor="start" fill="#111" stroke="#111" stroke-width="0.3" font-family="Liberation Serif" font-weight="bold" ><tspan>ΔG</tspan><tspan dy="3.11" font-size="7.89">2</tspan></text>
<circle cx="276.6" cy="216" r="5" fill="url(#gBrown)"/>
<text transform="translate(284.6,220) scale(0.97,1)" font-size="11.85" text-anchor="start" fill="#111" stroke="#111" stroke-width="0.3" font-family="Liberation Serif" font-weight="bold" >C</text>
<circle cx="303.8" cy="216" r="5" fill="url(#gRedS)"/>
<text transform="translate(311.8,220) scale(0.97,1)" font-size="11.85" text-anchor="start" fill="#111" stroke="#111" stroke-width="0.3" font-family="Liberation Serif" font-weight="bold" >O</text>
<circle cx="330.8" cy="216" r="5" fill="url(#gHS)"/>
<text transform="translate(338.8,220) scale(0.97,1)" font-size="11.85" text-anchor="start" fill="#111" stroke="#111" stroke-width="0.3" font-family="Liberation Serif" font-weight="bold" >H</text>
<circle cx="257.2" cy="385.1" r="6.2" fill="url(#gGray)"/>
<text transform="translate(266.5,389.2) scale(0.97,1)" font-size="11.85" text-anchor="start" fill="#111" stroke="#111" stroke-width="0.3" font-family="Liberation Serif" font-weight="bold" >Zn</text>
<circle cx="297.9" cy="385.1" r="7.6" fill="url(#gPink)"/>
<text transform="translate(310.5,389.2) scale(0.97,1)" font-size="11.85" text-anchor="start" fill="#111" stroke="#111" stroke-width="0.3" font-family="Liberation Serif" font-weight="bold" >In</text>
<circle cx="332.8" cy="385.1" r="4.6" fill="url(#gYel)"/>
<text transform="translate(341.5,389.2) scale(0.97,1)" font-size="11.85" text-anchor="start" fill="#111" stroke="#111" stroke-width="0.3" font-family="Liberation Serif" font-weight="bold" >S</text>
<text transform="translate(191.4,403.3) scale(0.97,1)" font-size="14.42" text-anchor="middle" fill="#111" stroke="#111" stroke-width="0.3" font-family="Liberation Serif" font-weight="bold" >Reaction coordinate</text>
<rect x="378.6" y="205.1" width="293.8" height="169.3" fill="url(#pg)"/>
<path d="M390.2,221.2 L399.21,226.4 L408.21,221.2 L417.22,226.4 L417.22,236.8 L408.21,242 L399.21,236.8 L390.2,242 L381.19,236.8 L381.19,226.4Z" fill="#f7cbc5" stroke="#555555" stroke-width="1" stroke-linejoin="round"/><line x1="399.21" y1="226.4" x2="399.21" y2="236.8" stroke="#505050" stroke-width="1"/><line x1="390.2" y1="239.71" x2="383.17" y2="235.66" stroke="#505050" stroke-width="0.9"/><line x1="383.17" y1="227.54" x2="390.2" y2="223.49" stroke="#505050" stroke-width="0.9"/><line x1="397.23" y1="227.54" x2="397.23" y2="235.66" stroke="#505050" stroke-width="0.9"/><line x1="408.21" y1="223.49" x2="415.24" y2="227.54" stroke="#505050" stroke-width="0.9"/><line x1="415.24" y1="235.66" x2="408.21" y2="239.71" stroke="#505050" stroke-width="0.9"/>
<path d="M408.21,221.2 L408.21,212.6 L416.8,208.2 M409.21,214.3 L417.6,210" fill="none" stroke="#505050" stroke-width="1"/>
<text transform="translate(421.7,226.3) scale(0.97,1)" font-size="10.92" text-anchor="start" fill="#111" stroke="#111" stroke-width="0.3" font-family="Liberation Serif" font-weight="bold" ><tspan>H</tspan><tspan dy="2.84" font-size="7.64">2</tspan><tspan dy="-2.84">/D</tspan><tspan dy="2.84" font-size="7.64">2</tspan><tspan dy="-2.84">/HD</tspan></text>
<line x1="425.9" y1="232.7" x2="456" y2="232.7" stroke="#222" stroke-width="1.2" stroke-dasharray="3,2"/>
<path d="M455,229.8 L460.5,232.7 L455,235.6 Z" fill="#222"/>
<path d="M475.9,224 L484.91,229.2 L493.91,224 L502.92,229.2 L502.92,239.6 L493.91,244.8 L484.91,239.6 L475.9,244.8 L466.89,239.6 L466.89,229.2Z" fill="#f7cbc5" stroke="#555555" stroke-width="1" stroke-linejoin="round"/><line x1="484.91" y1="229.2" x2="484.91" y2="239.6" stroke="#505050" stroke-width="1"/><line x1="475.9" y1="242.51" x2="468.87" y2="238.46" stroke="#505050" stroke-width="0.9"/><line x1="468.87" y1="230.34" x2="475.9" y2="226.29" stroke="#505050" stroke-width="0.9"/><line x1="482.93" y1="230.34" x2="482.93" y2="238.46" stroke="#505050" stroke-width="0.9"/><line x1="493.91" y1="226.29" x2="500.94" y2="230.34" stroke="#505050" stroke-width="0.9"/><line x1="500.94" y1="238.46" x2="493.91" y2="242.51" stroke="#505050" stroke-width="0.9"/>
<path d="M493.91,224 L493.91,215.5 L501.41,211.5 L506.41,215" fill="none" stroke="#505050" stroke-width="1.1"/><path d="M493.91,215.5 L487.91,212" fill="none" stroke="#505050" stroke-width="1.1"/>
<text transform="translate(484.41,213)" font-size="7.5" text-anchor="start" fill="#333" font-family="Liberation Sans" font-weight="bold" >H</text>
<text transform="translate(506.41,219)" font-size="7.5" text-anchor="start" fill="#333" font-family="Liberation Sans" font-weight="bold" >D</text>
<text transform="translate(462.6,253.2) scale(0.97,1)" font-size="9.27" text-anchor="start" fill="#111" stroke="#111" stroke-width="0.3" font-family="Liberation Serif" font-weight="bold" >m/z=157</text>
<path d="M528.7,224 L537.71,229.2 L546.71,224 L555.72,229.2 L555.72,239.6 L546.71,244.8 L537.71,239.6 L528.7,244.8 L519.69,239.6 L519.69,229.2Z" fill="#f7cbc5" stroke="#555555" stroke-width="1" stroke-linejoin="round"/><line x1="537.71" y1="229.2" x2="537.71" y2="239.6" stroke="#505050" stroke-width="1"/><line x1="528.7" y1="242.51" x2="521.67" y2="238.46" stroke="#505050" stroke-width="0.9"/><line x1="521.67" y1="230.34" x2="528.7" y2="226.29" stroke="#505050" stroke-width="0.9"/><line x1="535.73" y1="230.34" x2="535.73" y2="238.46" stroke="#505050" stroke-width="0.9"/><line x1="546.71" y1="226.29" x2="553.74" y2="230.34" stroke="#505050" stroke-width="0.9"/><line x1="553.74" y1="238.46" x2="546.71" y2="242.51" stroke="#505050" stroke-width="0.9"/>
<path d="M546.71,224 L546.71,215.5 L554.21,211.5 L559.21,215" fill="none" stroke="#505050" stroke-width="1.1"/><path d="M546.71,215.5 L540.71,212" fill="none" stroke="#505050" stroke-width="1.1"/>
<text transform="translate(537.21,213)" font-size="7.5" text-anchor="start" fill="#333" font-family="Liberation Sans" font-weight="bold" >H</text>
<text transform="translate(559.21,219)" font-size="7.5" text-anchor="start" fill="#333" font-family="Liberation Sans" font-weight="bold" >H</text>
<text transform="translate(530.8,253.2) scale(0.97,1)" font-size="9.27" text-anchor="start" fill="#111" stroke="#111" stroke-width="0.3" font-family="Liberation Serif" font-weight="bold" >m/z=156</text>
<path d="M575.9,224 L584.91,229.2 L593.91,224 L602.92,229.2 L602.92,239.6 L593.91,244.8 L584.91,239.6 L575.9,244.8 L566.89,239.6 L566.89,229.2Z" fill="#f7cbc5" stroke="#555555" stroke-width="1" stroke-linejoin="round"/><line x1="584.91" y1="229.2" x2="584.91" y2="239.6" stroke="#505050" stroke-width="1"/><line x1="575.9" y1="242.51" x2="568.87" y2="238.46" stroke="#505050" stroke-width="0.9"/><line x1="568.87" y1="230.34" x2="575.9" y2="226.29" stroke="#505050" stroke-width="0.9"/><line x1="582.93" y1="230.34" x2="582.93" y2="238.46" stroke="#505050" stroke-width="0.9"/><line x1="593.91" y1="226.29" x2="600.94" y2="230.34" stroke="#505050" stroke-width="0.9"/><line x1="600.94" y1="238.46" x2="593.91" y2="242.51" stroke="#505050" stroke-width="0.9"/>
<path d="M593.91,224 L593.91,215.5 L601.41,211.5 L606.41,215" fill="none" stroke="#505050" stroke-width="1.1"/><path d="M593.91,215.5 L587.91,212" fill="none" stroke="#505050" stroke-width="1.1"/>
<text transform="translate(584.41,213)" font-size="7.5" text-anchor="start" fill="#333" font-family="Liberation Sans" font-weight="bold" >D</text>
<text transform="translate(606.41,219)" font-size="7.5" text-anchor="start" fill="#333" font-family="Liberation Sans" font-weight="bold" >H</text>
<text transform="translate(570.5,253.2) scale(0.97,1)" font-size="9.27" text-anchor="start" fill="#111" stroke="#111" stroke-width="0.3" font-family="Liberation Serif" font-weight="bold" >m/z=157</text>
<path d="M630.4,224 L639.41,229.2 L648.41,224 L657.42,229.2 L657.42,239.6 L648.41,244.8 L639.41,239.6 L630.4,244.8 L621.39,239.6 L621.39,229.2Z" fill="#f7cbc5" stroke="#555555" stroke-width="1" stroke-linejoin="round"/><line x1="639.41" y1="229.2" x2="639.41" y2="239.6" stroke="#505050" stroke-width="1"/><line x1="630.4" y1="242.51" x2="623.37" y2="238.46" stroke="#505050" stroke-width="0.9"/><line x1="623.37" y1="230.34" x2="630.4" y2="226.29" stroke="#505050" stroke-width="0.9"/><line x1="637.43" y1="230.34" x2="637.43" y2="238.46" stroke="#505050" stroke-width="0.9"/><line x1="648.41" y1="226.29" x2="655.44" y2="230.34" stroke="#505050" stroke-width="0.9"/><line x1="655.44" y1="238.46" x2="648.41" y2="242.51" stroke="#505050" stroke-width="0.9"/>
<path d="M648.41,224 L648.41,215.5 L655.91,211.5 L660.91,215" fill="none" stroke="#505050" stroke-width="1.1"/><path d="M648.41,215.5 L642.41,212" fill="none" stroke="#505050" stroke-width="1.1"/>
<text transform="translate(638.91,213)" font-size="7.5" text-anchor="start" fill="#333" font-family="Liberation Sans" font-weight="bold" >D</text>
<text transform="translate(660.91,219)" font-size="7.5" text-anchor="start" fill="#333" font-family="Liberation Sans" font-weight="bold" >D</text>
<text transform="translate(634.8,253.2) scale(0.97,1)" font-size="9.27" text-anchor="start" fill="#111" stroke="#111" stroke-width="0.3" font-family="Liberation Serif" font-weight="bold" >m/z=158</text>
<text transform="translate(509.3,233)" font-size="11" text-anchor="middle" fill="#333" font-family="Liberation Sans" >+</text>
<text transform="translate(559.6,233)" font-size="11" text-anchor="middle" fill="#333" font-family="Liberation Sans" >+</text>
<text transform="translate(611.9,233)" font-size="11" text-anchor="middle" fill="#333" font-family="Liberation Sans" >+</text>
<path d="M498.8,270.4 L507.81,275.6 L516.81,270.4 L525.82,275.6 L525.82,286 L516.81,291.2 L507.81,286 L498.8,291.2 L489.79,286 L489.79,275.6Z" fill="#f7cbc5" stroke="#555555" stroke-width="1" stroke-linejoin="round"/><line x1="507.81" y1="275.6" x2="507.81" y2="286" stroke="#505050" stroke-width="1"/><line x1="498.8" y1="288.91" x2="491.77" y2="284.86" stroke="#505050" stroke-width="0.9"/><line x1="491.77" y1="276.74" x2="498.8" y2="272.69" stroke="#505050" stroke-width="0.9"/><line x1="505.83" y1="276.74" x2="505.83" y2="284.86" stroke="#505050" stroke-width="0.9"/><line x1="516.81" y1="272.69" x2="523.84" y2="276.74" stroke="#505050" stroke-width="0.9"/><line x1="523.84" y1="284.86" x2="516.81" y2="288.91" stroke="#505050" stroke-width="0.9"/>
<path d="M516.81,270.4 L516.81,262.5 L510.81,258.5 M516.81,262.5 L522.81,258.5" fill="none" stroke="#505050" stroke-width="1.1"/>
<text transform="translate(507.51,259.2)" font-size="7.5" text-anchor="middle" fill="#333" font-family="Liberation Sans" font-weight="bold" >H</text>
<text transform="translate(525.31,259.2)" font-size="7.5" text-anchor="middle" fill="#333" font-family="Liberation Sans" font-weight="bold" >H</text>
<text transform="translate(517.31,255.6)" font-size="6.5" text-anchor="middle" fill="#333" font-family="Liberation Sans" font-weight="bold" >+</text>
<text transform="translate(446.2,285.7) scale(0.97,1)" font-size="11.54" text-anchor="start" fill="#111" stroke="#111" stroke-width="0.3" font-family="Liberation Serif" font-weight="bold" >m/z=141</text>
<path d="M597,270.4 L606.01,275.6 L615.01,270.4 L624.02,275.6 L624.02,286 L615.01,291.2 L606.01,286 L597,291.2 L587.99,286 L587.99,275.6Z" fill="#f7cbc5" stroke="#555555" stroke-width="1" stroke-linejoin="round"/><line x1="606.01" y1="275.6" x2="606.01" y2="286" stroke="#505050" stroke-width="1"/><line x1="597" y1="288.91" x2="589.97" y2="284.86" stroke="#505050" stroke-width="0.9"/><line x1="589.97" y1="276.74" x2="597" y2="272.69" stroke="#505050" stroke-width="0.9"/><line x1="604.03" y1="276.74" x2="604.03" y2="284.86" stroke="#505050" stroke-width="0.9"/><line x1="615.01" y1="272.69" x2="622.04" y2="276.74" stroke="#505050" stroke-width="0.9"/><line x1="622.04" y1="284.86" x2="615.01" y2="288.91" stroke="#505050" stroke-width="0.9"/>
<path d="M615.01,270.4 L615.01,262.5 L609.01,258.5 M615.01,262.5 L621.01,258.5" fill="none" stroke="#505050" stroke-width="1.1"/>
<text transform="translate(605.71,259.2)" font-size="7.5" text-anchor="middle" fill="#333" font-family="Liberation Sans" font-weight="bold" >D</text>
<text transform="translate(623.51,259.2)" font-size="7.5" text-anchor="middle" fill="#333" font-family="Liberation Sans" font-weight="bold" >H</text>
<text transform="translate(615.51,255.6)" font-size="6.5" text-anchor="middle" fill="#333" font-family="Liberation Sans" font-weight="bold" >+</text>
<text transform="translate(541.8,285.7) scale(0.97,1)" font-size="11.54" text-anchor="start" fill="#111" stroke="#111" stroke-width="0.3" font-family="Liberation Serif" font-weight="bold" >m/z=142</text>
<line x1="498.8" y1="242" x2="504.31" y2="248.65" stroke="#111" stroke-width="1.1"/>
<path d="M507.5,252.5 L502.31,250.31 L506.31,246.99 Z" fill="#111"/>
<line x1="530" y1="242" x2="524.65" y2="248.61" stroke="#111" stroke-width="1.1"/>
<path d="M521.5,252.5 L522.63,246.98 L526.67,250.25 Z" fill="#111"/>
<line x1="599.3" y1="243" x2="605.92" y2="249.11" stroke="#111" stroke-width="1.1"/>
<path d="M609.6,252.5 L604.16,251.02 L607.69,247.2 Z" fill="#111"/>
<line x1="625.9" y1="242" x2="622.9" y2="248.46" stroke="#111" stroke-width="1.1"/>
<path d="M620.8,253 L620.54,247.37 L625.26,249.56 Z" fill="#111"/>
<line x1="382.2" y1="374.4" x2="382.2" y2="369.7" stroke="#1515e8" stroke-width="1.6"/>
<line x1="435.8" y1="374.4" x2="435.8" y2="372.2" stroke="#1515e8" stroke-width="1.6"/>
<line x1="441.16" y1="374.4" x2="441.16" y2="371.1" stroke="#1515e8" stroke-width="1.6"/>
<line x1="446.52" y1="374.4" x2="446.52" y2="369.2" stroke="#1515e8" stroke-width="1.6"/>
<line x1="451.88" y1="374.4" x2="451.88" y2="372.2" stroke="#1515e8" stroke-width="1.6"/>
<line x1="457.24" y1="374.4" x2="457.24" y2="373.8" stroke="#1515e8" stroke-width="1.6"/>
<line x1="505.48" y1="374.4" x2="505.48" y2="370.6" stroke="#1515e8" stroke-width="1.6"/>
<line x1="510.84" y1="374.4" x2="510.84" y2="373.4" stroke="#1515e8" stroke-width="1.6"/>
<line x1="516.2" y1="374.4" x2="516.2" y2="293.8" stroke="#1515e8" stroke-width="1.6"/>
<line x1="521.56" y1="374.4" x2="521.56" y2="355.2" stroke="#1515e8" stroke-width="1.6"/>
<line x1="526.92" y1="374.4" x2="526.92" y2="373.4" stroke="#1515e8" stroke-width="1.6"/>
<line x1="564.44" y1="374.4" x2="564.44" y2="373.8" stroke="#1515e8" stroke-width="1.6"/>
<line x1="569.8" y1="374.4" x2="569.8" y2="373.2" stroke="#1515e8" stroke-width="1.6"/>
<line x1="575.16" y1="374.4" x2="575.16" y2="370.8" stroke="#1515e8" stroke-width="1.6"/>
<line x1="580.52" y1="374.4" x2="580.52" y2="370.6" stroke="#1515e8" stroke-width="1.6"/>
<line x1="585.88" y1="374.4" x2="585.88" y2="371.9" stroke="#1515e8" stroke-width="1.6"/>
<line x1="591.24" y1="374.4" x2="591.24" y2="372.6" stroke="#1515e8" stroke-width="1.6"/>
<line x1="596.6" y1="374.4" x2="596.6" y2="357" stroke="#1515e8" stroke-width="1.6"/>
<line x1="601.96" y1="374.4" x2="601.96" y2="358.4" stroke="#1515e8" stroke-width="1.6"/>
<line x1="607.32" y1="374.4" x2="607.32" y2="369.7" stroke="#1515e8" stroke-width="1.6"/>
<line x1="612.68" y1="374.4" x2="612.68" y2="373.8" stroke="#1515e8" stroke-width="1.6"/>
<line x1="387.56" y1="374.4" x2="387.56" y2="373.8" stroke="#1515e8" stroke-width="1.2"/>
<line x1="392.92" y1="374.4" x2="392.92" y2="373.8" stroke="#1515e8" stroke-width="1.2"/>
<line x1="398.28" y1="374.4" x2="398.28" y2="373.8" stroke="#1515e8" stroke-width="1.2"/>
<line x1="403.64" y1="374.4" x2="403.64" y2="373.8" stroke="#1515e8" stroke-width="1.2"/>
<line x1="409" y1="374.4" x2="409" y2="373.8" stroke="#1515e8" stroke-width="1.2"/>
<line x1="414.36" y1="374.4" x2="414.36" y2="373.8" stroke="#1515e8" stroke-width="1.2"/>
<line x1="419.72" y1="374.4" x2="419.72" y2="373.8" stroke="#1515e8" stroke-width="1.2"/>
<line x1="425.08" y1="374.4" x2="425.08" y2="373.8" stroke="#1515e8" stroke-width="1.2"/>
<line x1="430.44" y1="374.4" x2="430.44" y2="373.8" stroke="#1515e8" stroke-width="1.2"/>
<line x1="462.6" y1="374.4" x2="462.6" y2="373.8" stroke="#1515e8" stroke-width="1.2"/>
<line x1="467.96" y1="374.4" x2="467.96" y2="373.8" stroke="#1515e8" stroke-width="1.2"/>
<line x1="473.32" y1="374.4" x2="473.32" y2="373.8" stroke="#1515e8" stroke-width="1.2"/>
<line x1="478.68" y1="374.4" x2="478.68" y2="373.8" stroke="#1515e8" stroke-width="1.2"/>
<line x1="484.04" y1="374.4" x2="484.04" y2="373.8" stroke="#1515e8" stroke-width="1.2"/>
<line x1="489.4" y1="374.4" x2="489.4" y2="373.8" stroke="#1515e8" stroke-width="1.2"/>
<line x1="494.76" y1="374.4" x2="494.76" y2="373.8" stroke="#1515e8" stroke-width="1.2"/>
<line x1="500.12" y1="374.4" x2="500.12" y2="373.8" stroke="#1515e8" stroke-width="1.2"/>
<line x1="532.28" y1="374.4" x2="532.28" y2="373.8" stroke="#1515e8" stroke-width="1.2"/>
<line x1="537.64" y1="374.4" x2="537.64" y2="373.8" stroke="#1515e8" stroke-width="1.2"/>
<line x1="543" y1="374.4" x2="543" y2="373.8" stroke="#1515e8" stroke-width="1.2"/>
<line x1="548.36" y1="374.4" x2="548.36" y2="373.8" stroke="#1515e8" stroke-width="1.2"/>
<line x1="553.72" y1="374.4" x2="553.72" y2="373.8" stroke="#1515e8" stroke-width="1.2"/>
<line x1="559.08" y1="374.4" x2="559.08" y2="373.8" stroke="#1515e8" stroke-width="1.2"/>
<line x1="618.04" y1="374.4" x2="618.04" y2="373.8" stroke="#1515e8" stroke-width="1.2"/>
<line x1="623.4" y1="374.4" x2="623.4" y2="373.8" stroke="#1515e8" stroke-width="1.2"/>
<line x1="628.76" y1="374.4" x2="628.76" y2="373.8" stroke="#1515e8" stroke-width="1.2"/>
<line x1="634.12" y1="374.4" x2="634.12" y2="373.8" stroke="#1515e8" stroke-width="1.2"/>
<line x1="639.48" y1="374.4" x2="639.48" y2="373.8" stroke="#1515e8" stroke-width="1.2"/>
<line x1="644.84" y1="374.4" x2="644.84" y2="373.8" stroke="#1515e8" stroke-width="1.2"/>
<line x1="650.2" y1="374.4" x2="650.2" y2="373.8" stroke="#1515e8" stroke-width="1.2"/>
<line x1="655.56" y1="374.4" x2="655.56" y2="373.8" stroke="#1515e8" stroke-width="1.2"/>
<line x1="660.92" y1="374.4" x2="660.92" y2="373.8" stroke="#1515e8" stroke-width="1.2"/>
<line x1="666.28" y1="374.4" x2="666.28" y2="373.8" stroke="#1515e8" stroke-width="1.2"/>
<rect x="378.6" y="205.1" width="293.8" height="169.3" fill="none" stroke="#222" stroke-width="1.3"/>
<line x1="378.6" y1="205.1" x2="378.6" y2="374.4" stroke="#6e6e6e" stroke-width="1.6"/>
<line x1="403.64" y1="374.4" x2="403.64" y2="376.9" stroke="#222" stroke-width="1"/>
<text transform="translate(403.64,389.3) scale(0.97,1)" font-size="12.57" text-anchor="middle" fill="#111" stroke="#111" stroke-width="0.3" font-family="Liberation Serif" font-weight="bold" >120</text>
<line x1="457.24" y1="374.4" x2="457.24" y2="376.9" stroke="#222" stroke-width="1"/>
<text transform="translate(457.24,389.3) scale(0.97,1)" font-size="12.57" text-anchor="middle" fill="#111" stroke="#111" stroke-width="0.3" font-family="Liberation Serif" font-weight="bold" >130</text>
<line x1="510.84" y1="374.4" x2="510.84" y2="376.9" stroke="#222" stroke-width="1"/>
<text transform="translate(510.84,389.3) scale(0.97,1)" font-size="12.57" text-anchor="middle" fill="#111" stroke="#111" stroke-width="0.3" font-family="Liberation Serif" font-weight="bold" >140</text>
<line x1="564.44" y1="374.4" x2="564.44" y2="376.9" stroke="#222" stroke-width="1"/>
<text transform="translate(564.44,389.3) scale(0.97,1)" font-size="12.57" text-anchor="middle" fill="#111" stroke="#111" stroke-width="0.3" font-family="Liberation Serif" font-weight="bold" >150</text>
<line x1="618.04" y1="374.4" x2="618.04" y2="376.9" stroke="#222" stroke-width="1"/>
<text transform="translate(618.04,389.3) scale(0.97,1)" font-size="12.57" text-anchor="middle" fill="#111" stroke="#111" stroke-width="0.3" font-family="Liberation Serif" font-weight="bold" >160</text>
<line x1="671.64" y1="374.4" x2="671.64" y2="376.9" stroke="#222" stroke-width="1"/>
<text transform="translate(671.64,389.3) scale(0.97,1)" font-size="12.57" text-anchor="middle" fill="#111" stroke="#111" stroke-width="0.3" font-family="Liberation Serif" font-weight="bold" >170</text>
<line x1="430.44" y1="374.4" x2="430.44" y2="376.0" stroke="#222" stroke-width="1"/>
<line x1="484.04" y1="374.4" x2="484.04" y2="376.0" stroke="#222" stroke-width="1"/>
<line x1="537.64" y1="374.4" x2="537.64" y2="376.0" stroke="#222" stroke-width="1"/>
<line x1="591.24" y1="374.4" x2="591.24" y2="376.0" stroke="#222" stroke-width="1"/>
<line x1="644.84" y1="374.4" x2="644.84" y2="376.0" stroke="#222" stroke-width="1"/>
<text transform="translate(526,403.6) scale(0.97,1)" font-size="13.18" text-anchor="middle" fill="#111" stroke="#111" stroke-width="0.3" font-family="Liberation Serif" font-weight="bold" >m/z</text>
<text transform="translate(368.5,290.5) rotate(-90) scale(0.97,1)" font-size="14.21" text-anchor="middle" fill="#111" stroke="#111" stroke-width="0.3" font-family="Liberation Serif" font-weight="bold" >Relative intensity (a.u.)</text>
<text transform="translate(359.5,213.4) scale(0.97,1)" font-size="17" text-anchor="start" fill="#111" stroke="#111" stroke-width="0.3" font-family="Liberation Serif" font-weight="bold" >e</text>
<text transform="translate(421.2,317.2) scale(0.97,1)" font-size="11.74" text-anchor="start" fill="#111" stroke="#111" stroke-width="0.3" font-family="Liberation Serif" font-weight="bold" ><tspan>C</tspan><tspan dy="3.05" font-size="7.98">10</tspan><tspan dy="-3.05">H</tspan><tspan dy="3.05" font-size="7.98">7</tspan><tspan dy="-3.05">CH</tspan><tspan dy="3.05" font-size="7.98">2</tspan><tspan dy="-7.51" font-size="7.98">+</tspan></text>
<text transform="translate(421.2,336.5) scale(0.97,1)" font-size="11.64" text-anchor="start" fill="#111" stroke="#111" stroke-width="0.3" font-family="Liberation Serif" font-weight="bold" >(m/z=141)</text>
<line x1="516" y1="317.5" x2="487.6" y2="317.5" stroke="#111" stroke-width="1.1"/>
<path d="M482.6,317.5 L487.6,315.1 L487.6,319.9 Z" fill="#111"/>
<text transform="translate(523.3,309.6) scale(0.97,1)" font-size="11.85" text-anchor="start" fill="#111" stroke="#111" stroke-width="0.3" font-family="Liberation Serif" font-weight="bold" ><tspan>C</tspan><tspan dy="3.08" font-size="8.05">10</tspan><tspan dy="-3.08">H</tspan><tspan dy="3.08" font-size="8.05">7</tspan><tspan dy="-3.08">CHD</tspan><tspan dy="-4.5" font-size="8.05">+</tspan></text>
<text transform="translate(523.3,327.5) scale(0.97,1)" font-size="11.64" text-anchor="start" fill="#111" stroke="#111" stroke-width="0.3" font-family="Liberation Serif" font-weight="bold" >(m/z=142)</text>
<line x1="521.5" y1="355" x2="539.48" y2="338.84" stroke="#111" stroke-width="1.0"/>
<path d="M543.2,335.5 L541.09,340.63 L537.88,337.06 Z" fill="#111"/>
<line x1="597.4" y1="357.7" x2="583.5" y2="357.7" stroke="#111" stroke-width="1.0"/>
<path d="M579,357.7 L583.5,355.5 L583.5,359.9 Z" fill="#111"/>
<line x1="603" y1="358.5" x2="603" y2="351.2" stroke="#111" stroke-width="1.0"/>
<path d="M603,346.7 L605.2,351.2 L600.8,351.2 Z" fill="#111"/>
<line x1="608.4" y1="369.5" x2="614.44" y2="359.73" stroke="#111" stroke-width="1.0"/>
<path d="M616.8,355.9 L616.31,360.88 L612.56,358.57 Z" fill="#111"/>
<text transform="translate(559.8,361.7) scale(0.97,1)" font-size="11.85" text-anchor="start" fill="#111" stroke="#111" stroke-width="0.3" font-family="Liberation Serif" font-weight="bold" >156</text>
<text transform="translate(594.3,342) scale(0.97,1)" font-size="11.85" text-anchor="start" fill="#111" stroke="#111" stroke-width="0.3" font-family="Liberation Serif" font-weight="bold" >157</text>
<text transform="translate(612.2,353.3) scale(0.97,1)" font-size="11.85" text-anchor="start" fill="#111" stroke="#111" stroke-width="0.3" font-family="Liberation Serif" font-weight="bold" >158</text>
<defs>
<linearGradient id="fbg" x1="0" y1="0" x2="0" y2="1">
 <stop offset="0" stop-color="#fdf3f2"/><stop offset="0.45" stop-color="#fcf5f5"/><stop offset="0.72" stop-color="#f8f6f8"/><stop offset="0.74" stop-color="#f5f6fb"/><stop offset="1" stop-color="#f5f7fc"/>
</linearGradient>
<radialGradient id="sunCore" cx="0.5" cy="0.5" r="0.55"><stop offset="0" stop-color="#ffe77a"/><stop offset="0.65" stop-color="#ffd83c"/><stop offset="1" stop-color="#f9c42c"/></radialGradient>
<linearGradient id="beam" gradientUnits="userSpaceOnUse" x1="88" y1="448" x2="128" y2="525">
 <stop offset="0" stop-color="#fdeab0" stop-opacity="0.9"/><stop offset="0.5" stop-color="#fdf0cc" stop-opacity="0.65"/><stop offset="1" stop-color="#fdf3e6" stop-opacity="0"/>
</linearGradient>
<linearGradient id="ell" x1="0" y1="0" x2="0" y2="1">
 <stop offset="0" stop-color="#f7727a"/><stop offset="0.18" stop-color="#f48890"/><stop offset="0.42" stop-color="#ebb0c0"/><stop offset="0.62" stop-color="#d6b8dc"/><stop offset="0.82" stop-color="#9e9ae2"/><stop offset="1" stop-color="#7472da"/>
</linearGradient>
<radialGradient id="gE" cx="0.38" cy="0.32" r="0.72"><stop offset="0" stop-color="#ff9a9a"/><stop offset="0.5" stop-color="#e02222"/><stop offset="1" stop-color="#9a0808"/></radialGradient>
<radialGradient id="gH" cx="0.38" cy="0.32" r="0.72"><stop offset="0" stop-color="#a8a8ff"/><stop offset="0.5" stop-color="#3434e0"/><stop offset="1" stop-color="#14148a"/></radialGradient>
<radialGradient id="ball" cx="0.45" cy="0.4" r="0.6"><stop offset="0" stop-color="#6cb6e6"/><stop offset="0.7" stop-color="#4a9cd6"/><stop offset="1" stop-color="#3a88c4"/></radialGradient>
<linearGradient id="cone" x1="0" y1="0" x2="1" y2="0">
 <stop offset="0" stop-color="#d6edf9" stop-opacity="0.9"/><stop offset="1" stop-color="#eaf5fb" stop-opacity="0.6"/>
</linearGradient>
</defs>
<rect x="16" y="410.5" width="653.5" height="358.5" fill="url(#fbg)"/>
<text transform="translate(5,422.8) scale(0.97,1)" font-size="17" text-anchor="start" fill="#111" stroke="#111" stroke-width="0.3" font-family="Liberation Serif" font-weight="bold" >f</text>
<path d="M60,456 L106,437 L152,493 L98,532 Z" fill="url(#beam)"/>
<path d="M82.81,432.01 L74.47,414.74 L77.86,433.62 Z M85.74,432.1 L83.02,422.23 L81.35,432.33 Z M89.34,433.01 L90.75,413.89 L84.26,431.93 Z M91.84,434.56 L94.41,424.65 L87.91,432.56 Z M94.5,437.15 L105.28,421.29 L90.63,433.67 Z M95.88,439.74 L103.07,432.45 L93.49,436.05 Z M96.89,443.31 L114.16,434.97 L95.28,438.36 Z M96.8,446.24 L106.67,443.52 L96.57,441.85 Z M95.89,449.84 L115.01,451.25 L96.97,444.76 Z M94.34,452.34 L104.25,454.91 L96.34,448.41 Z M91.75,455 L107.61,465.78 L95.23,451.13 Z M89.16,456.38 L96.45,463.57 L92.85,453.99 Z M85.59,457.39 L93.93,474.66 L90.54,455.78 Z M82.66,457.3 L85.38,467.17 L87.05,457.07 Z M79.06,456.39 L77.65,475.51 L84.14,457.47 Z M76.56,454.84 L73.99,464.75 L80.49,456.84 Z M73.9,452.25 L63.12,468.11 L77.77,455.73 Z M72.52,449.66 L65.33,456.95 L74.91,453.35 Z M71.51,446.09 L54.24,454.43 L73.12,451.04 Z M71.6,443.16 L61.73,445.88 L71.83,447.55 Z M72.51,439.56 L53.39,438.15 L71.43,444.64 Z M74.06,437.06 L64.15,434.49 L72.06,440.99 Z M76.65,434.4 L60.79,423.62 L73.17,438.27 Z M79.24,433.02 L71.95,425.83 L75.55,435.41 Z " fill="#fccf40"/>
<circle cx="84.2" cy="444.7" r="16.5" fill="#fcd44a" opacity="0.5"/>
<circle cx="84.2" cy="444.7" r="13.8" fill="url(#sunCore)"/>
<line x1="36.2" y1="507" x2="36.2" y2="653" stroke="#111" stroke-width="1.3"/>
<path d="M36.2,503.5 L33.6,510 L38.8,510 Z" fill="#111"/>
<line x1="36.2" y1="518.2" x2="39.6" y2="518.2" stroke="#111" stroke-width="1.1"/>
<text transform="translate(33,522.5) scale(0.97,1)" font-size="13.39" text-anchor="end" fill="#111" stroke="#111" stroke-width="0.3" font-family="Liberation Serif" font-weight="bold" >0</text>
<line x1="36.2" y1="547.9" x2="39.6" y2="547.9" stroke="#111" stroke-width="1.1"/>
<text transform="translate(33,552.2) scale(0.97,1)" font-size="13.39" text-anchor="end" fill="#111" stroke="#111" stroke-width="0.3" font-family="Liberation Serif" font-weight="bold" >-1</text>
<line x1="36.2" y1="577.1" x2="39.6" y2="577.1" stroke="#111" stroke-width="1.1"/>
<text transform="translate(33,581.4) scale(0.97,1)" font-size="13.39" text-anchor="end" fill="#111" stroke="#111" stroke-width="0.3" font-family="Liberation Serif" font-weight="bold" >0</text>
<line x1="36.2" y1="607" x2="39.6" y2="607" stroke="#111" stroke-width="1.1"/>
<text transform="translate(33,611.3) scale(0.97,1)" font-size="13.39" text-anchor="end" fill="#111" stroke="#111" stroke-width="0.3" font-family="Liberation Serif" font-weight="bold" >1</text>
<line x1="36.2" y1="636" x2="39.6" y2="636" stroke="#111" stroke-width="1.1"/>
<text transform="translate(33,640.3) scale(0.97,1)" font-size="13.39" text-anchor="end" fill="#111" stroke="#111" stroke-width="0.3" font-family="Liberation Serif" font-weight="bold" >2</text>
<text transform="translate(22.2,487.6) scale(0.97,1)" font-size="11.12" text-anchor="start" fill="#111" stroke="#111" stroke-width="0.3" font-family="Liberation Serif" font-weight="bold" >Potential</text>
<text transform="translate(22.2,501.1) scale(0.97,1)" font-size="11.12" text-anchor="start" fill="#111" stroke="#111" stroke-width="0.3" font-family="Liberation Serif" font-weight="bold" >(V vs. NHE)</text>
<text transform="translate(43.9,521.7) scale(0.97,1)" font-size="11.12" text-anchor="start" fill="#111" stroke="#111" stroke-width="0.3" font-family="Liberation Serif" font-weight="bold" xml:space="preserve">CB =  -0.3 V</text>
<text transform="translate(74.3,538.6) scale(0.97,1)" font-size="11.12" text-anchor="start" fill="#111" stroke="#111" stroke-width="0.3" font-family="Liberation Serif" font-weight="bold" >[In-S]</text>
<text transform="translate(80.3,639.8) scale(0.97,1)" font-size="11.12" text-anchor="start" fill="#111" stroke="#111" stroke-width="0.3" font-family="Liberation Serif" font-weight="bold" >[Zn-S]</text>
<text transform="translate(45,655.6) scale(0.97,1)" font-size="11.12" text-anchor="start" fill="#111" stroke="#111" stroke-width="0.3" font-family="Liberation Serif" font-weight="bold" >VB = 2.27 V</text>
<path d="M244,516 C270,505 300,480 318,452 L330,470 L330,600 L348,642 C318,612 285,580 252,560 Z" fill="url(#cone)"/>
<path d="M244,516 C270,505 300,480 318,452" fill="none" stroke="#c8e6f7" stroke-width="2.5" opacity="0.7"/>
<path d="M252,560 C285,580 318,612 348,642" fill="none" stroke="#c8e6f7" stroke-width="2.5" opacity="0.7"/>
<ellipse cx="152.3" cy="583.3" rx="49.5" ry="91.2" fill="url(#ell)"/>
<line x1="121.9" y1="546.1" x2="118.35" y2="536.6" stroke="#c878c0" stroke-width="2"/><line x1="118.35" y1="536.6" x2="114.8" y2="527.1" stroke="#e0c030" stroke-width="2"/><line x1="121.9" y1="546.1" x2="131.2" y2="545.85" stroke="#c878c0" stroke-width="2"/><line x1="131.2" y1="545.85" x2="140.5" y2="545.6" stroke="#e0c030" stroke-width="2"/><line x1="121.9" y1="546.1" x2="118.95" y2="550.6" stroke="#c878c0" stroke-width="2"/><line x1="118.95" y1="550.6" x2="116" y2="555.1" stroke="#e0c030" stroke-width="2"/><line x1="152.6" y1="536.9" x2="157.65" y2="532.25" stroke="#c878c0" stroke-width="2"/><line x1="157.65" y1="532.25" x2="162.7" y2="527.6" stroke="#e0c030" stroke-width="2"/><line x1="152.6" y1="536.9" x2="146.55" y2="541.25" stroke="#c878c0" stroke-width="2"/><line x1="146.55" y1="541.25" x2="140.5" y2="545.6" stroke="#e0c030" stroke-width="2"/><line x1="152.6" y1="536.9" x2="157.5" y2="545.75" stroke="#c878c0" stroke-width="2"/><line x1="157.5" y1="545.75" x2="162.4" y2="554.6" stroke="#e0c030" stroke-width="2"/><line x1="152.6" y1="563" x2="146.55" y2="554.3" stroke="#c878c0" stroke-width="2"/><line x1="146.55" y1="554.3" x2="140.5" y2="545.6" stroke="#e0c030" stroke-width="2"/><line x1="152.6" y1="563" x2="157.5" y2="558.8" stroke="#c878c0" stroke-width="2"/><line x1="157.5" y1="558.8" x2="162.4" y2="554.6" stroke="#e0c030" stroke-width="2"/><line x1="152.6" y1="563" x2="146.55" y2="567.6" stroke="#c878c0" stroke-width="2"/><line x1="146.55" y1="567.6" x2="140.5" y2="572.2" stroke="#e0c030" stroke-width="2"/><line x1="152.6" y1="563" x2="157.5" y2="572" stroke="#c878c0" stroke-width="2"/><line x1="157.5" y1="572" x2="162.4" y2="581" stroke="#e0c030" stroke-width="2"/><line x1="152.6" y1="590" x2="146.55" y2="581.1" stroke="#c878c0" stroke-width="2"/><line x1="146.55" y1="581.1" x2="140.5" y2="572.2" stroke="#e0c030" stroke-width="2"/><line x1="152.6" y1="590" x2="157.5" y2="585.5" stroke="#c878c0" stroke-width="2"/><line x1="157.5" y1="585.5" x2="162.4" y2="581" stroke="#e0c030" stroke-width="2"/><line x1="152.6" y1="590" x2="146.55" y2="594.45" stroke="#c878c0" stroke-width="2"/><line x1="146.55" y1="594.45" x2="140.5" y2="598.9" stroke="#e0c030" stroke-width="2"/><line x1="152.6" y1="590" x2="157.65" y2="598.8" stroke="#c878c0" stroke-width="2"/><line x1="157.65" y1="598.8" x2="162.7" y2="607.6" stroke="#e0c030" stroke-width="2"/><line x1="121.9" y1="598.4" x2="118.35" y2="589.1" stroke="#c878c0" stroke-width="2"/><line x1="118.35" y1="589.1" x2="114.8" y2="579.8" stroke="#e0c030" stroke-width="2"/><line x1="121.9" y1="598.4" x2="131.2" y2="598.65" stroke="#c878c0" stroke-width="2"/><line x1="131.2" y1="598.65" x2="140.5" y2="598.9" stroke="#e0c030" stroke-width="2"/><line x1="121.9" y1="598.4" x2="118.95" y2="603" stroke="#c878c0" stroke-width="2"/><line x1="118.95" y1="603" x2="116" y2="607.6" stroke="#e0c030" stroke-width="2"/><line x1="152.6" y1="616.1" x2="146.55" y2="607.5" stroke="#c878c0" stroke-width="2"/><line x1="146.55" y1="607.5" x2="140.5" y2="598.9" stroke="#e0c030" stroke-width="2"/><line x1="152.6" y1="616.1" x2="157.65" y2="611.85" stroke="#c878c0" stroke-width="2"/><line x1="157.65" y1="611.85" x2="162.7" y2="607.6" stroke="#e0c030" stroke-width="2"/><line x1="152.6" y1="616.1" x2="146.55" y2="620.95" stroke="#c878c0" stroke-width="2"/><line x1="146.55" y1="620.95" x2="140.5" y2="625.8" stroke="#e0c030" stroke-width="2"/><line x1="152.6" y1="616.1" x2="157.65" y2="625.35" stroke="#c878c0" stroke-width="2"/><line x1="157.65" y1="625.35" x2="162.7" y2="634.6" stroke="#e0c030" stroke-width="2"/><line x1="181.7" y1="554.6" x2="184.25" y2="545.75" stroke="#9a8a90" stroke-width="2"/><line x1="184.25" y1="545.75" x2="186.8" y2="536.9" stroke="#e0c030" stroke-width="2"/><line x1="181.7" y1="554.6" x2="172.05" y2="554.6" stroke="#9a8a90" stroke-width="2"/><line x1="172.05" y1="554.6" x2="162.4" y2="554.6" stroke="#e0c030" stroke-width="2"/><line x1="181.7" y1="554.6" x2="184.25" y2="559.2" stroke="#9a8a90" stroke-width="2"/><line x1="184.25" y1="559.2" x2="186.8" y2="563.8" stroke="#e0c030" stroke-width="2"/><line x1="122.8" y1="572.2" x2="119.4" y2="563.65" stroke="#9a8a90" stroke-width="2"/><line x1="119.4" y1="563.65" x2="116" y2="555.1" stroke="#e0c030" stroke-width="2"/><line x1="122.8" y1="572.2" x2="131.65" y2="572.2" stroke="#9a8a90" stroke-width="2"/><line x1="131.65" y1="572.2" x2="140.5" y2="572.2" stroke="#e0c030" stroke-width="2"/><line x1="122.8" y1="572.2" x2="118.8" y2="576" stroke="#9a8a90" stroke-width="2"/><line x1="118.8" y1="576" x2="114.8" y2="579.8" stroke="#e0c030" stroke-width="2"/><line x1="181.7" y1="581.5" x2="184.25" y2="572.65" stroke="#9a8a90" stroke-width="2"/><line x1="184.25" y1="572.65" x2="186.8" y2="563.8" stroke="#e0c030" stroke-width="2"/><line x1="181.7" y1="581.5" x2="172.05" y2="581.25" stroke="#9a8a90" stroke-width="2"/><line x1="172.05" y1="581.25" x2="162.4" y2="581" stroke="#e0c030" stroke-width="2"/><line x1="181.7" y1="581.5" x2="184.25" y2="585.75" stroke="#9a8a90" stroke-width="2"/><line x1="184.25" y1="585.75" x2="186.8" y2="590" stroke="#e0c030" stroke-width="2"/><line x1="181.7" y1="607.6" x2="184.25" y2="598.8" stroke="#9a8a90" stroke-width="2"/><line x1="184.25" y1="598.8" x2="186.8" y2="590" stroke="#e0c030" stroke-width="2"/><line x1="181.7" y1="607.6" x2="172.2" y2="607.6" stroke="#9a8a90" stroke-width="2"/><line x1="172.2" y1="607.6" x2="162.7" y2="607.6" stroke="#e0c030" stroke-width="2"/><line x1="181.7" y1="607.6" x2="184.25" y2="612.25" stroke="#9a8a90" stroke-width="2"/><line x1="184.25" y1="612.25" x2="186.8" y2="616.9" stroke="#e0c030" stroke-width="2"/><line x1="122.8" y1="625.3" x2="119.4" y2="616.45" stroke="#9a8a90" stroke-width="2"/><line x1="119.4" y1="616.45" x2="116" y2="607.6" stroke="#e0c030" stroke-width="2"/><line x1="122.8" y1="625.3" x2="131.65" y2="625.55" stroke="#9a8a90" stroke-width="2"/><line x1="131.65" y1="625.55" x2="140.5" y2="625.8" stroke="#e0c030" stroke-width="2"/><line x1="122.8" y1="625.3" x2="119" y2="629.55" stroke="#9a8a90" stroke-width="2"/><line x1="119" y1="629.55" x2="115.2" y2="633.8" stroke="#e0c030" stroke-width="2"/><line x1="181.7" y1="634.6" x2="184.25" y2="625.75" stroke="#9a8a90" stroke-width="2"/><line x1="184.25" y1="625.75" x2="186.8" y2="616.9" stroke="#e0c030" stroke-width="2"/><line x1="181.7" y1="634.6" x2="172.2" y2="634.6" stroke="#9a8a90" stroke-width="2"/><line x1="172.2" y1="634.6" x2="162.7" y2="634.6" stroke="#e0c030" stroke-width="2"/><line x1="181.7" y1="634.6" x2="184.25" y2="638.8" stroke="#9a8a90" stroke-width="2"/><line x1="184.25" y1="638.8" x2="186.8" y2="643" stroke="#e0c030" stroke-width="2"/>
<line x1="113" y1="528" x2="200" y2="528" stroke="#b0a0a0" stroke-width="0.8" stroke-dasharray="1.5,1.5"/>
<line x1="110" y1="636.3" x2="196" y2="636.3" stroke="#a0a0b8" stroke-width="0.8" stroke-dasharray="1.5,1.5"/>
<circle cx="114.8" cy="527.1" r="3.1" fill="url(#gYel)"/><circle cx="162.7" cy="527.6" r="3.1" fill="url(#gYel)"/><circle cx="186.8" cy="536.9" r="3.1" fill="url(#gYel)"/><circle cx="140.5" cy="545.6" r="3.1" fill="url(#gYel)"/><circle cx="116" cy="555.1" r="3.1" fill="url(#gYel)"/><circle cx="162.4" cy="554.6" r="3.1" fill="url(#gYel)"/><circle cx="186.8" cy="563.8" r="3.1" fill="url(#gYel)"/><circle cx="140.5" cy="572.2" r="3.1" fill="url(#gYel)"/><circle cx="114.8" cy="579.8" r="3.1" fill="url(#gYel)"/><circle cx="162.4" cy="581" r="3.1" fill="url(#gYel)"/><circle cx="186.8" cy="590" r="3.1" fill="url(#gYel)"/><circle cx="140.5" cy="598.9" r="3.1" fill="url(#gYel)"/><circle cx="116" cy="607.6" r="3.1" fill="url(#gYel)"/><circle cx="162.7" cy="607.6" r="3.1" fill="url(#gYel)"/><circle cx="186.8" cy="616.9" r="3.1" fill="url(#gYel)"/><circle cx="140.5" cy="625.8" r="3.1" fill="url(#gYel)"/><circle cx="115.2" cy="633.8" r="3.1" fill="url(#gYel)"/><circle cx="162.7" cy="634.6" r="3.1" fill="url(#gYel)"/><circle cx="186.8" cy="643" r="3.1" fill="url(#gYel)"/><circle cx="121.9" cy="546.1" r="4.7" fill="url(#gPink)"/><circle cx="152.6" cy="536.9" r="4.7" fill="url(#gPink)"/><circle cx="152.6" cy="563" r="4.7" fill="url(#gPink)"/><circle cx="152.6" cy="590" r="4.7" fill="url(#gPink)"/><circle cx="121.9" cy="598.4" r="4.7" fill="url(#gPink)"/><circle cx="152.6" cy="616.1" r="4.7" fill="url(#gPink)"/><circle cx="181.7" cy="554.6" r="4.1" fill="url(#gGray)"/><circle cx="122.8" cy="572.2" r="4.1" fill="url(#gGray)"/><circle cx="181.7" cy="581.5" r="4.1" fill="url(#gGray)"/><circle cx="181.7" cy="607.6" r="4.1" fill="url(#gGray)"/><circle cx="122.8" cy="625.3" r="4.1" fill="url(#gGray)"/><circle cx="181.7" cy="634.6" r="4.1" fill="url(#gGray)"/>
<line x1="36.2" y1="526.2" x2="113" y2="526.2" stroke="#222" stroke-width="1.2" stroke-dasharray="4,2.5"/>
<line x1="36.2" y1="643.4" x2="118" y2="643.4" stroke="#222" stroke-width="1.2" stroke-dasharray="4,2.5"/>
<path d="M113.4,526 C140,526 175,528 196,533 L203,537" fill="none" stroke="#ee1414" stroke-width="1.6"/>
<path d="M118,643.5 C140,642 165,642 185,645" fill="none" stroke="#1818e0" stroke-width="1.6"/>
<line x1="127.8" y1="557" x2="127.8" y2="534" stroke="#e81c1c" stroke-width="1.2" stroke-dasharray="3,2"/>
<path d="M127.8,530 L125.6,534.5 L130,534.5 Z" fill="#e81c1c"/>
<line x1="153.1" y1="648" x2="153.1" y2="534" stroke="#a0208a" stroke-width="1.4" stroke-dasharray="4,2.5"/>
<path d="M153.1,530 L150.9,534.5 L155.3,534.5 Z" fill="#a0208a"/>
<line x1="127.8" y1="616" x2="127.8" y2="633" stroke="#2020e0" stroke-width="1.2" stroke-dasharray="3,2"/>
<path d="M127.8,637 L125.6,632.5 L130,632.5 Z" fill="#2020e0"/>
<line x1="172.8" y1="616" x2="172.8" y2="633" stroke="#2020e0" stroke-width="1.2" stroke-dasharray="3,2"/>
<path d="M172.8,637 L170.6,632.5 L175,632.5 Z" fill="#2020e0"/>
<circle cx="136.7" cy="516.7" r="6.6" fill="url(#gE)"/>
<text x="136.4" y="519.77" font-size="10.23" text-anchor="middle" fill="#fff" font-family="Liberation Serif" font-weight="bold">e<tspan dy="-4.3" font-size="5.63">-</tspan></text>
<circle cx="158.9" cy="517.9" r="6.6" fill="url(#gE)"/>
<text x="158.6" y="520.97" font-size="10.23" text-anchor="middle" fill="#fff" font-family="Liberation Serif" font-weight="bold">e<tspan dy="-4.3" font-size="5.63">-</tspan></text>
<circle cx="180.6" cy="520.9" r="6.6" fill="url(#gE)"/>
<text x="180.3" y="523.97" font-size="10.23" text-anchor="middle" fill="#fff" font-family="Liberation Serif" font-weight="bold">e<tspan dy="-4.3" font-size="5.63">-</tspan></text>
<circle cx="128.3" cy="564.7" r="6.6" fill="url(#gE)"/>
<text x="128" y="567.77" font-size="10.23" text-anchor="middle" fill="#fff" font-family="Liberation Serif" font-weight="bold">e<tspan dy="-4.3" font-size="5.63">-</tspan></text>
<circle cx="172.8" cy="564.7" r="6.6" fill="url(#gE)"/>
<text x="172.5" y="567.77" font-size="10.23" text-anchor="middle" fill="#fff" font-family="Liberation Serif" font-weight="bold">e<tspan dy="-4.3" font-size="5.63">-</tspan></text>
<circle cx="128.3" cy="606.8" r="6.6" fill="url(#gH)"/>
<text x="128" y="609.87" font-size="10.23" text-anchor="middle" fill="#fff" font-family="Liberation Serif" font-weight="bold">h<tspan dy="-4.3" font-size="5.63">+</tspan></text>
<circle cx="172.8" cy="606.8" r="6.6" fill="url(#gH)"/>
<text x="172.5" y="609.87" font-size="10.23" text-anchor="middle" fill="#fff" font-family="Liberation Serif" font-weight="bold">h<tspan dy="-4.3" font-size="5.63">+</tspan></text>
<circle cx="134.9" cy="653" r="6.6" fill="url(#gH)"/>
<text x="134.6" y="656.07" font-size="10.23" text-anchor="middle" fill="#fff" font-family="Liberation Serif" font-weight="bold">h<tspan dy="-4.3" font-size="5.63">+</tspan></text>
<circle cx="155.7" cy="653" r="6.6" fill="url(#gH)"/>
<text x="155.4" y="656.07" font-size="10.23" text-anchor="middle" fill="#fff" font-family="Liberation Serif" font-weight="bold">h<tspan dy="-4.3" font-size="5.63">+</tspan></text>
<circle cx="173.4" cy="655" r="6.6" fill="url(#gH)"/>
<text x="173.1" y="658.07" font-size="10.23" text-anchor="middle" fill="#fff" font-family="Liberation Serif" font-weight="bold">h<tspan dy="-4.3" font-size="5.63">+</tspan></text>
<text transform="translate(140.5,572.7) rotate(90) scale(0.97,1)" font-size="13.39" text-anchor="middle" fill="#ee1414" stroke="#ee1414" stroke-width="0.3" font-family="Liberation Serif" font-weight="bold" >PEF</text>
<circle cx="225.7" cy="537.8" r="28.5" fill="url(#ball)"/>
<path d="M235.94,548.35 Q236.17,551.19 233.72,552.67" stroke="#5aa6dc" stroke-width="0.9" fill="none"/><path d="M221.15,532.8 Q218.8,535.05 215.61,534.41" stroke="#2c6ea8" stroke-width="0.9" fill="none"/><path d="M238.68,544.5 Q242.51,544.06 245.51,546.5" stroke="#5aa6dc" stroke-width="0.9" fill="none"/><path d="M229.36,542.52 Q228.7,547.92 225.28,552.16" stroke="#5aa6dc" stroke-width="0.9" fill="none"/><path d="M242.67,541.7 Q246.69,543.1 248.79,546.8" stroke="#3478b2" stroke-width="0.9" fill="none"/><path d="M231.85,548.3 Q235.37,548.05 237.8,550.6" stroke="#8ccaf0" stroke-width="0.9" fill="none"/><path d="M216.95,528.99 Q216.87,532.7 214.08,535.14" stroke="#5aa6dc" stroke-width="0.9" fill="none"/><path d="M205.75,525.14 Q205.76,529.22 202.98,532.2" stroke="#5aa6dc" stroke-width="0.9" fill="none"/><path d="M219.62,550.82 Q220.09,554.74 217.68,557.86" stroke="#6ab4e4" stroke-width="0.9" fill="none"/><path d="M233.45,548.62 Q232.51,551.35 229.66,551.76" stroke="#6ab4e4" stroke-width="0.9" fill="none"/><path d="M241.86,521.37 Q240.93,524.71 237.74,526.06" stroke="#2c6ea8" stroke-width="0.9" fill="none"/><path d="M219.42,540.59 Q218.51,543.53 215.53,544.31" stroke="#78c0ec" stroke-width="0.9" fill="none"/><path d="M239.18,532.62 Q243.41,532.12 246.92,534.54" stroke="#6ab4e4" stroke-width="0.9" fill="none"/><path d="M216.21,546.01 Q217.76,550.75 216.31,555.51" stroke="#2c6ea8" stroke-width="0.9" fill="none"/><path d="M249.04,524.9 Q250.89,529.09 249.75,533.53" stroke="#2c6ea8" stroke-width="0.9" fill="none"/><path d="M218.16,555.44 Q218.55,560.05 216.04,563.93" stroke="#78c0ec" stroke-width="0.9" fill="none"/><path d="M215.8,545.49 Q215.94,548.21 213.5,549.41" stroke="#78c0ec" stroke-width="0.9" fill="none"/><path d="M213.07,524.38 Q214.63,527.25 213.18,530.17" stroke="#6ab4e4" stroke-width="0.9" fill="none"/><path d="M224.17,542.99 Q227.26,547.19 227.52,552.39" stroke="#2c6ea8" stroke-width="0.9" fill="none"/><path d="M214.86,542.28 Q217.71,543.33 218.25,546.32" stroke="#78c0ec" stroke-width="0.9" fill="none"/><path d="M220.28,559.72 Q222.61,562.56 222.04,566.19" stroke="#78c0ec" stroke-width="0.9" fill="none"/><path d="M238.89,558.12 Q242.18,558.39 243.9,561.21" stroke="#3478b2" stroke-width="0.9" fill="none"/><path d="M224.57,533.48 Q227.99,533.9 229.78,536.84" stroke="#3478b2" stroke-width="0.9" fill="none"/><path d="M214.66,545.7 Q215.04,551.14 212.49,555.97" stroke="#8ccaf0" stroke-width="0.9" fill="none"/><path d="M252.09,525.92 Q251.28,530.66 247.82,533.99" stroke="#78c0ec" stroke-width="0.9" fill="none"/><path d="M234.97,510.35 Q231.16,513.56 226.19,514" stroke="#78c0ec" stroke-width="0.9" fill="none"/><path d="M211.85,545.03 Q213.55,548.42 212.25,551.99" stroke="#3478b2" stroke-width="0.9" fill="none"/><path d="M224.66,543.09 Q228.26,543.39 230.4,546.3" stroke="#2c6ea8" stroke-width="0.9" fill="none"/><path d="M218.27,529.01 Q219.15,534.39 217.06,539.42" stroke="#5aa6dc" stroke-width="0.9" fill="none"/><path d="M229.73,532.18 Q230.2,535.21 227.85,537.19" stroke="#6ab4e4" stroke-width="0.9" fill="none"/><path d="M203.97,519.13 Q205.68,521.57 204.39,524.25" stroke="#78c0ec" stroke-width="0.9" fill="none"/><path d="M198.79,541.14 Q200.42,543.54 199.04,546.08" stroke="#2c6ea8" stroke-width="0.9" fill="none"/><path d="M223.96,509.63 Q225.75,513.93 224.55,518.44" stroke="#5aa6dc" stroke-width="0.9" fill="none"/><path d="M229.92,533.87 Q231.18,536.67 229.45,539.19" stroke="#5aa6dc" stroke-width="0.9" fill="none"/><path d="M224.52,508.11 Q228.25,510.65 229.57,514.97" stroke="#2c6ea8" stroke-width="0.9" fill="none"/><path d="M222.99,558.19 Q225.47,560.08 225.21,563.19" stroke="#3478b2" stroke-width="0.9" fill="none"/><path d="M227.86,515.56 Q230.63,517.3 230.83,520.57" stroke="#3478b2" stroke-width="0.9" fill="none"/><path d="M237.98,513.22 Q237.07,516.38 233.98,517.48" stroke="#5aa6dc" stroke-width="0.9" fill="none"/><path d="M228.13,518.48 Q223.45,520.13 218.68,518.79" stroke="#78c0ec" stroke-width="0.9" fill="none"/><path d="M224.35,524.21 Q220.96,526.19 217.16,525.2" stroke="#8ccaf0" stroke-width="0.9" fill="none"/><path d="M250.75,527.53 Q253.32,529.56 253.15,532.82" stroke="#3478b2" stroke-width="0.9" fill="none"/><path d="M215.53,548.52 Q217.32,553.78 216.12,559.21" stroke="#5aa6dc" stroke-width="0.9" fill="none"/><path d="M202.9,536.82 Q202.03,541.74 198.5,545.26" stroke="#2c6ea8" stroke-width="0.9" fill="none"/><path d="M242.49,550.78 Q245.43,554.47 245.56,559.19" stroke="#3478b2" stroke-width="0.9" fill="none"/><path d="M236.53,552.92 Q234.88,556.11 231.38,556.94" stroke="#8ccaf0" stroke-width="0.9" fill="none"/><path d="M216.07,547.1 Q211.86,549.33 207.16,548.6" stroke="#3478b2" stroke-width="0.9" fill="none"/><path d="M253.73,538.98 Q254.13,542.94 251.66,546.06" stroke="#8ccaf0" stroke-width="0.9" fill="none"/><path d="M234.86,528.21 Q230.65,529.97 226.27,528.74" stroke="#6ab4e4" stroke-width="0.9" fill="none"/><path d="M210.59,534.24 Q215.44,533.06 220.08,534.88" stroke="#8ccaf0" stroke-width="0.9" fill="none"/><path d="M207.35,533.37 Q204.15,535.58 200.33,534.86" stroke="#3478b2" stroke-width="0.9" fill="none"/><path d="M229.55,559.82 Q232.82,561 233.96,564.28" stroke="#3478b2" stroke-width="0.9" fill="none"/><path d="M215.33,554.32 Q216.14,559.35 213.98,563.97" stroke="#2c6ea8" stroke-width="0.9" fill="none"/><path d="M209.25,554.62 Q211.27,558.45 210.31,562.68" stroke="#5aa6dc" stroke-width="0.9" fill="none"/><path d="M241.22,525.08 Q242.7,528.99 241.18,532.89" stroke="#5aa6dc" stroke-width="0.9" fill="none"/><path d="M242.57,521.04 Q240.37,524.86 236.23,526.39" stroke="#3478b2" stroke-width="0.9" fill="none"/><path d="M217.03,536.67 Q215.58,540.67 211.85,542.72" stroke="#6ab4e4" stroke-width="0.9" fill="none"/><path d="M203.15,528.76 Q204.9,533.36 203.66,538.12" stroke="#5aa6dc" stroke-width="0.9" fill="none"/><path d="M225.57,543.58 Q228.26,542.43 230.55,544.25" stroke="#78c0ec" stroke-width="0.9" fill="none"/><path d="M230.48,516.25 Q227.4,518.67 223.51,518.21" stroke="#5aa6dc" stroke-width="0.9" fill="none"/><path d="M201.88,519.21 Q205.26,519.8 206.88,522.83" stroke="#5aa6dc" stroke-width="0.9" fill="none"/><path d="M210.17,539.75 Q206.08,542.04 201.45,541.37" stroke="#6ab4e4" stroke-width="0.9" fill="none"/><path d="M243.42,519.16 Q247.23,520.11 249.26,523.47" stroke="#78c0ec" stroke-width="0.9" fill="none"/><path d="M213.84,540.54 Q217.08,539.75 219.63,541.88" stroke="#2c6ea8" stroke-width="0.9" fill="none"/><path d="M217.23,548.03 Q222.13,548.4 225.92,551.55" stroke="#8ccaf0" stroke-width="0.9" fill="none"/><path d="M209.14,552.35 Q212.06,553.19 212.84,556.12" stroke="#78c0ec" stroke-width="0.9" fill="none"/><path d="M236.84,530.44 Q239.44,533.54 239.2,537.58" stroke="#8ccaf0" stroke-width="0.9" fill="none"/><path d="M238.13,555.35 Q240.41,558.79 239.77,562.87" stroke="#6ab4e4" stroke-width="0.9" fill="none"/><path d="M211.39,550.83 Q215.05,550.35 217.85,552.75" stroke="#6ab4e4" stroke-width="0.9" fill="none"/><path d="M203.39,545.1 Q206.73,543.78 209.9,545.47" stroke="#5aa6dc" stroke-width="0.9" fill="none"/><path d="M235.38,532.37 Q240.72,532.75 245.02,535.94" stroke="#3478b2" stroke-width="0.9" fill="none"/><path d="M245.58,552.66 Q248.25,553.38 248.71,556.11" stroke="#3478b2" stroke-width="0.9" fill="none"/><path d="M234.28,543.23 Q236.97,547.84 236.76,553.16" stroke="#6ab4e4" stroke-width="0.9" fill="none"/><path d="M208.82,530.03 Q210.14,533.88 208.46,537.58" stroke="#6ab4e4" stroke-width="0.9" fill="none"/><path d="M235.38,537.75 Q234.64,541.54 231.41,543.67" stroke="#2c6ea8" stroke-width="0.9" fill="none"/><path d="M236.96,538.47 Q240.29,537.86 242.8,540.14" stroke="#5aa6dc" stroke-width="0.9" fill="none"/><path d="M252.27,546.62 Q249.58,549.51 245.63,549.67" stroke="#6ab4e4" stroke-width="0.9" fill="none"/><path d="M205.9,550.25 Q202.25,552.79 197.82,552.45" stroke="#2c6ea8" stroke-width="0.9" fill="none"/><path d="M224.59,556.79 Q227.65,556.3 229.71,558.63" stroke="#2c6ea8" stroke-width="0.9" fill="none"/><path d="M237.89,529.38 Q237.74,533.56 234.83,536.55" stroke="#3478b2" stroke-width="0.9" fill="none"/><path d="M208.09,536.04 Q211.69,536.52 213.7,539.55" stroke="#2c6ea8" stroke-width="0.9" fill="none"/><path d="M248.58,543.89 Q252.48,542.61 256.2,544.33" stroke="#3478b2" stroke-width="0.9" fill="none"/><path d="M225.52,553.27 Q227.71,557.26 226.95,561.76" stroke="#8ccaf0" stroke-width="0.9" fill="none"/><path d="M210.63,536.65 Q208.38,539.67 204.63,540.08" stroke="#5aa6dc" stroke-width="0.9" fill="none"/><path d="M226.88,550.82 Q230,551.57 231.14,554.57" stroke="#8ccaf0" stroke-width="0.9" fill="none"/><path d="M246.04,555.69 Q240.75,557.36 235.36,556.04" stroke="#3478b2" stroke-width="0.9" fill="none"/><path d="M226.71,534.15 Q223.94,536.87 220.06,536.79" stroke="#2c6ea8" stroke-width="0.9" fill="none"/><path d="M234.03,529.37 Q230.63,532.46 226.05,532.8" stroke="#6ab4e4" stroke-width="0.9" fill="none"/><path d="M215.44,517.49 Q218.41,516.4 220.97,518.28" stroke="#6ab4e4" stroke-width="0.9" fill="none"/><path d="M229.45,555.46 Q224.35,557.59 218.9,556.73" stroke="#5aa6dc" stroke-width="0.9" fill="none"/><path d="M243.68,540.11 Q241.52,542.56 238.28,542.21" stroke="#3478b2" stroke-width="0.9" fill="none"/><path d="M224.74,534.61 Q226.53,538.29 225.34,542.21" stroke="#3478b2" stroke-width="0.9" fill="none"/><path d="M223.33,522.93 Q228.37,522.85 232.57,525.64" stroke="#3478b2" stroke-width="0.9" fill="none"/><path d="M239.32,542.07 Q242.6,540.8 245.66,542.52" stroke="#3478b2" stroke-width="0.9" fill="none"/><path d="M235.83,534.5 Q234.08,537.04 231,536.9" stroke="#8ccaf0" stroke-width="0.9" fill="none"/><path d="M209.02,520.88 Q206.71,525.02 202.37,526.96" stroke="#78c0ec" stroke-width="0.9" fill="none"/><path d="M225,525.2 Q225.33,527.96 222.96,529.42" stroke="#8ccaf0" stroke-width="0.9" fill="none"/><path d="M210.82,515.61 Q208.72,520.17 204.39,522.73" stroke="#3478b2" stroke-width="0.9" fill="none"/><path d="M227.2,506.88 Q227.64,511.89 225.15,516.26" stroke="#2c6ea8" stroke-width="0.9" fill="none"/><path d="M208.25,523.75 Q204.6,526.62 199.97,526.65" stroke="#8ccaf0" stroke-width="0.9" fill="none"/><path d="M240.47,548.48 Q244.87,547.55 248.87,549.59" stroke="#2c6ea8" stroke-width="0.9" fill="none"/><path d="M207.37,542.52 Q209.84,541.39 211.84,543.23" stroke="#5aa6dc" stroke-width="0.9" fill="none"/><path d="M198.31,539.28 Q203.08,537.83 207.82,539.37" stroke="#8ccaf0" stroke-width="0.9" fill="none"/><path d="M243.25,520.8 Q247.4,520.47 250.69,523.01" stroke="#8ccaf0" stroke-width="0.9" fill="none"/><path d="M222.41,560.7 Q225.72,559.94 228.34,562.11" stroke="#8ccaf0" stroke-width="0.9" fill="none"/><path d="M230.25,558.27 Q229.92,562.22 226.92,564.82" stroke="#78c0ec" stroke-width="0.9" fill="none"/><path d="M230.69,531.89 Q233.32,532.81 233.6,535.58" stroke="#8ccaf0" stroke-width="0.9" fill="none"/><path d="M242.49,546.77 Q245.86,546.77 247.88,549.46" stroke="#8ccaf0" stroke-width="0.9" fill="none"/><path d="M205.71,520.49 Q209.74,520.64 212.55,523.53" stroke="#78c0ec" stroke-width="0.9" fill="none"/><path d="M221.47,521.63 Q220.22,526.07 216.51,528.81" stroke="#6ab4e4" stroke-width="0.9" fill="none"/><path d="M220.07,555.75 Q222.06,560.22 221.07,565.01" stroke="#5aa6dc" stroke-width="0.9" fill="none"/><path d="M240.07,535.67 Q238.16,537.59 235.65,536.57" stroke="#78c0ec" stroke-width="0.9" fill="none"/><path d="M223.48,537.39 Q218.13,538.98 212.72,537.57" stroke="#78c0ec" stroke-width="0.9" fill="none"/><path d="M234.37,531.08 Q238.49,532.39 240.77,536.07" stroke="#3478b2" stroke-width="0.9" fill="none"/><path d="M222.17,557.78 Q225.29,560.87 225.7,565.25" stroke="#8ccaf0" stroke-width="0.9" fill="none"/><path d="M242.32,522.64 Q241.77,525.9 238.81,527.36" stroke="#78c0ec" stroke-width="0.9" fill="none"/><path d="M239.36,551.64 Q235.27,553.8 230.71,553.01" stroke="#78c0ec" stroke-width="0.9" fill="none"/><path d="M233.77,546.65 Q236.6,548.78 236.79,552.32" stroke="#6ab4e4" stroke-width="0.9" fill="none"/><path d="M227.97,535.4 Q226.43,537.96 223.44,537.9" stroke="#3478b2" stroke-width="0.9" fill="none"/><path d="M242.54,521.66 Q245.8,523.42 246.7,527.01" stroke="#78c0ec" stroke-width="0.9" fill="none"/><path d="M232.44,524.05 Q237.81,523.82 242.47,526.5" stroke="#6ab4e4" stroke-width="0.9" fill="none"/><path d="M216.58,562.05 Q221.08,561.27 225.1,563.44" stroke="#8ccaf0" stroke-width="0.9" fill="none"/><path d="M223.24,561.56 Q226.92,563.39 228.39,567.24" stroke="#3478b2" stroke-width="0.9" fill="none"/><path d="M230.48,511.97 Q232.46,513.87 231.51,516.44" stroke="#8ccaf0" stroke-width="0.9" fill="none"/><path d="M238.54,522.75 Q239.53,525.81 237.57,528.37" stroke="#2c6ea8" stroke-width="0.9" fill="none"/><path d="M224.31,527.17 Q226.51,531.49 225.73,536.27" stroke="#8ccaf0" stroke-width="0.9" fill="none"/><path d="M203.97,539.04 Q200.57,541.56 196.35,541.2" stroke="#3478b2" stroke-width="0.9" fill="none"/><path d="M212.5,549.84 Q216.42,552.63 217.92,557.19" stroke="#8ccaf0" stroke-width="0.9" fill="none"/><path d="M215.56,522.92 Q219.1,525.27 220.22,529.38" stroke="#78c0ec" stroke-width="0.9" fill="none"/><path d="M216.09,529.46 Q220.13,528.89 223.48,531.24" stroke="#78c0ec" stroke-width="0.9" fill="none"/><path d="M203.86,539.73 Q207.48,542.99 208.5,547.75" stroke="#78c0ec" stroke-width="0.9" fill="none"/><path d="M226.18,546.48 Q229.76,545.97 232.5,548.34" stroke="#2c6ea8" stroke-width="0.9" fill="none"/><path d="M217.54,547.64 Q216.03,550.48 212.83,550.84" stroke="#2c6ea8" stroke-width="0.9" fill="none"/><path d="M204.34,546.47 Q206.82,549.8 206.41,553.94" stroke="#78c0ec" stroke-width="0.9" fill="none"/><path d="M225.87,519.47 Q227.39,523.5 225.91,527.54" stroke="#6ab4e4" stroke-width="0.9" fill="none"/><path d="M217.91,533.04 Q217.32,538.19 213.98,542.15" stroke="#3478b2" stroke-width="0.9" fill="none"/><path d="M230.86,528.76 Q233.77,532.21 233.88,536.73" stroke="#78c0ec" stroke-width="0.9" fill="none"/><path d="M243.4,515.06 Q241.89,517.32 239.22,516.82" stroke="#2c6ea8" stroke-width="0.9" fill="none"/><path d="M231.57,516.88 Q228.11,521.16 222.91,522.99" stroke="#78c0ec" stroke-width="0.9" fill="none"/><path d="M230.13,536.93 Q225.76,539.49 220.7,539.13" stroke="#78c0ec" stroke-width="0.9" fill="none"/><path d="M223.42,564.01 Q226.47,563.5 228.5,565.82" stroke="#5aa6dc" stroke-width="0.9" fill="none"/><path d="M250.5,552.62 Q247.49,556.21 242.92,557.25" stroke="#78c0ec" stroke-width="0.9" fill="none"/><path d="M224.44,529.89 Q227.05,528.4 229.65,529.91" stroke="#5aa6dc" stroke-width="0.9" fill="none"/><path d="M208.09,514.78 Q210.82,516.04 211.11,519.04" stroke="#6ab4e4" stroke-width="0.9" fill="none"/><path d="M209.09,543.76 Q208.25,546.56 205.38,547.16" stroke="#6ab4e4" stroke-width="0.9" fill="none"/><path d="M207.42,525.15 Q209.83,527.37 209.43,530.63" stroke="#5aa6dc" stroke-width="0.9" fill="none"/><path d="M227.88,537.55 Q224.81,539.08 221.7,537.62" stroke="#6ab4e4" stroke-width="0.9" fill="none"/><path d="M241.92,520.13 Q243.64,522.96 242.38,526.01" stroke="#3478b2" stroke-width="0.9" fill="none"/><path d="M222.78,538.16 Q223.04,540.96 220.62,542.4" stroke="#3478b2" stroke-width="0.9" fill="none"/><path d="M216.08,517.6 Q218.28,520.16 217.58,523.46" stroke="#8ccaf0" stroke-width="0.9" fill="none"/><path d="M213.32,546.42 Q214.92,550.81 213.52,555.27" stroke="#8ccaf0" stroke-width="0.9" fill="none"/><path d="M214.51,518.77 Q219.24,520.32 222.23,524.31" stroke="#8ccaf0" stroke-width="0.9" fill="none"/><path d="M248.71,545.35 Q250.25,548.17 248.78,551.03" stroke="#3478b2" stroke-width="0.9" fill="none"/><path d="M230.35,548.65 Q229.08,551.89 225.76,552.95" stroke="#5aa6dc" stroke-width="0.9" fill="none"/><path d="M230.43,553.4 Q234.1,554.53 235.83,557.96" stroke="#8ccaf0" stroke-width="0.9" fill="none"/><path d="M222.6,533.56 Q220.66,535.59 217.99,534.71" stroke="#2c6ea8" stroke-width="0.9" fill="none"/><path d="M240.39,558.53 Q242.99,557.44 245.11,559.31" stroke="#78c0ec" stroke-width="0.9" fill="none"/><path d="M219.93,517.74 Q222.59,519.06 222.75,522.02" stroke="#2c6ea8" stroke-width="0.9" fill="none"/><path d="M208.69,558.26 Q213.85,559.87 217.36,563.98" stroke="#8ccaf0" stroke-width="0.9" fill="none"/><path d="M221.75,551.49 Q219.72,556.18 215.4,558.91" stroke="#6ab4e4" stroke-width="0.9" fill="none"/><path d="M237.49,548.77 Q240.24,547.91 242.25,549.97" stroke="#78c0ec" stroke-width="0.9" fill="none"/><path d="M247.71,556.33 Q245.03,558.14 242.02,556.97" stroke="#6ab4e4" stroke-width="0.9" fill="none"/><path d="M219.03,558.86 Q217.87,561.51 214.98,561.72" stroke="#8ccaf0" stroke-width="0.9" fill="none"/><path d="M215.24,550.67 Q212.89,552.82 209.79,552.08" stroke="#6ab4e4" stroke-width="0.9" fill="none"/><path d="M203.59,538.82 Q203.76,542.17 201.18,544.3" stroke="#8ccaf0" stroke-width="0.9" fill="none"/><path d="M246.61,543.62 Q249.16,542.39 251.38,544.15" stroke="#2c6ea8" stroke-width="0.9" fill="none"/><path d="M228.58,522.83 Q225.93,525.28 222.34,524.89" stroke="#6ab4e4" stroke-width="0.9" fill="none"/><path d="M236.4,532.61 Q241.15,531.75 245.49,533.87" stroke="#8ccaf0" stroke-width="0.9" fill="none"/><path d="M218.6,553.02 Q223.24,551.57 227.84,553.13" stroke="#8ccaf0" stroke-width="0.9" fill="none"/><path d="M252.4,547.15 Q251.01,549.76 248.06,549.8" stroke="#8ccaf0" stroke-width="0.9" fill="none"/><path d="M250.43,527.3 Q252.88,529.6 252.53,532.93" stroke="#78c0ec" stroke-width="0.9" fill="none"/><path d="M242.36,553.95 Q243.88,556.17 242.41,558.41" stroke="#8ccaf0" stroke-width="0.9" fill="none"/><path d="M217.68,522.29 Q221,522.31 222.94,525" stroke="#6ab4e4" stroke-width="0.9" fill="none"/><path d="M230.78,515.89 Q231.07,520 228.5,523.22" stroke="#78c0ec" stroke-width="0.9" fill="none"/><path d="M223.84,561.19 Q226.41,560.19 228.36,562.12" stroke="#5aa6dc" stroke-width="0.9" fill="none"/><path d="M235.92,552.51 Q237.96,554.64 237.08,557.45" stroke="#2c6ea8" stroke-width="0.9" fill="none"/><path d="M234.3,543.8 Q238.37,543.5 241.55,546.07" stroke="#8ccaf0" stroke-width="0.9" fill="none"/><path d="M234.92,560.33 Q238.89,560.45 241.64,563.31" stroke="#8ccaf0" stroke-width="0.9" fill="none"/><path d="M216.27,531.58 Q213.74,535.74 209.25,537.62" stroke="#6ab4e4" stroke-width="0.9" fill="none"/><path d="M210.32,527.52 Q213.47,531.14 213.86,535.92" stroke="#3478b2" stroke-width="0.9" fill="none"/><path d="M230.57,552.47 Q233.87,553.46 235.15,556.65" stroke="#5aa6dc" stroke-width="0.9" fill="none"/><path d="M234.55,540.4 Q237.72,541.47 238.76,544.65" stroke="#5aa6dc" stroke-width="0.9" fill="none"/><path d="M232.94,520.69 Q231.78,526.15 227.96,530.21" stroke="#2c6ea8" stroke-width="0.9" fill="none"/><path d="M224.35,534.15 Q228.06,535.44 229.78,538.98" stroke="#6ab4e4" stroke-width="0.9" fill="none"/><path d="M221.59,542.09 Q224.75,541.72 226.81,544.14" stroke="#5aa6dc" stroke-width="0.9" fill="none"/><path d="M236.6,540.54 Q237.99,543.37 236.38,546.08" stroke="#5aa6dc" stroke-width="0.9" fill="none"/><path d="M230.64,523.56 Q228.39,525.47 225.63,524.42" stroke="#5aa6dc" stroke-width="0.9" fill="none"/><path d="M208.85,556.18 Q212.29,555.08 215.38,556.95" stroke="#2c6ea8" stroke-width="0.9" fill="none"/><path d="M226.63,546.14 Q226.74,550.68 224,554.29" stroke="#3478b2" stroke-width="0.9" fill="none"/><path d="M235.15,512.01 Q237.54,514.84 237.06,518.52" stroke="#5aa6dc" stroke-width="0.9" fill="none"/><path d="M233.3,550.14 Q231.03,553.71 226.97,554.88" stroke="#2c6ea8" stroke-width="0.9" fill="none"/><path d="M232.02,518.61 Q232,521.69 229.36,523.3" stroke="#5aa6dc" stroke-width="0.9" fill="none"/><path d="M232.01,542.04 Q231.21,545.78 227.96,547.78" stroke="#6ab4e4" stroke-width="0.9" fill="none"/><path d="M201.63,548.16 Q206.4,547.41 210.68,549.63" stroke="#6ab4e4" stroke-width="0.9" fill="none"/><path d="M246.82,536.63 Q244.28,540.94 239.74,543.01" stroke="#8ccaf0" stroke-width="0.9" fill="none"/><path d="M222.24,524.38 Q224.92,524.5 225.8,527.03" stroke="#3478b2" stroke-width="0.9" fill="none"/><path d="M231.9,516.81 Q234.79,521.18 234.82,526.43" stroke="#78c0ec" stroke-width="0.9" fill="none"/><path d="M239.63,554.99 Q242.5,553.94 244.88,555.85" stroke="#78c0ec" stroke-width="0.9" fill="none"/><path d="M218.29,528.6 Q221.17,531.51 221.3,535.61" stroke="#3478b2" stroke-width="0.9" fill="none"/><path d="M232.16,550.35 Q235.01,550.31 236.31,552.84" stroke="#78c0ec" stroke-width="0.9" fill="none"/><path d="M235.02,519.38 Q232.36,521.16 229.39,519.97" stroke="#3478b2" stroke-width="0.9" fill="none"/><path d="M253.02,543.72 Q250.34,546.04 246.84,545.46" stroke="#5aa6dc" stroke-width="0.9" fill="none"/><path d="M209.53,553.7 Q205.98,556.37 201.54,556.18" stroke="#3478b2" stroke-width="0.9" fill="none"/><path d="M240.91,516.68 Q240.75,521.1 237.81,524.42" stroke="#3478b2" stroke-width="0.9" fill="none"/><path d="M233.24,558.45 Q236.89,559.49 238.63,562.85" stroke="#5aa6dc" stroke-width="0.9" fill="none"/><path d="M214.08,543.82 Q219.49,544.88 223.54,548.62" stroke="#3478b2" stroke-width="0.9" fill="none"/><path d="M222.23,534.07 Q221.58,536.76 218.87,537.27" stroke="#6ab4e4" stroke-width="0.9" fill="none"/><path d="M218.71,528.12 Q219.53,532.51 217.39,536.43" stroke="#6ab4e4" stroke-width="0.9" fill="none"/><path d="M215.33,556.06 Q218.83,557.43 220.22,560.92" stroke="#6ab4e4" stroke-width="0.9" fill="none"/><path d="M204.51,544.44 Q208.79,543.25 212.85,545.05" stroke="#78c0ec" stroke-width="0.9" fill="none"/><path d="M209.73,539.46 Q209.38,544.5 206.22,548.44" stroke="#3478b2" stroke-width="0.9" fill="none"/><path d="M202.37,551.61 Q205.95,550.84 208.91,553.01" stroke="#6ab4e4" stroke-width="0.9" fill="none"/><path d="M217.99,538.44 Q219.42,540.82 217.85,543.1" stroke="#8ccaf0" stroke-width="0.9" fill="none"/><path d="M231.97,529.38 Q235.71,532.31 236.95,536.89" stroke="#2c6ea8" stroke-width="0.9" fill="none"/><path d="M217.33,532.78 Q220.69,537.08 221.26,542.5" stroke="#3478b2" stroke-width="0.9" fill="none"/><path d="M231.29,535.46 Q231.15,540.12 228.19,543.73" stroke="#2c6ea8" stroke-width="0.9" fill="none"/><path d="M237.59,531.15 Q239.22,536.38 237.86,541.67" stroke="#3478b2" stroke-width="0.9" fill="none"/><path d="M217.85,512.28 Q222.54,514.24 225.32,518.51" stroke="#5aa6dc" stroke-width="0.9" fill="none"/><path d="M241.59,556.91 Q239.15,559.31 235.75,558.87" stroke="#78c0ec" stroke-width="0.9" fill="none"/><path d="M218.06,536.94 Q215.65,539.11 212.5,538.37" stroke="#6ab4e4" stroke-width="0.9" fill="none"/><path d="M226.3,556.7 Q228.79,558.73 228.51,561.92" stroke="#78c0ec" stroke-width="0.9" fill="none"/><path d="M238.58,529.22 Q237.14,534.31 233.16,537.78" stroke="#3478b2" stroke-width="0.9" fill="none"/><path d="M225.26,560.61 Q224.5,563.3 221.74,563.74" stroke="#6ab4e4" stroke-width="0.9" fill="none"/><path d="M200.13,541.27 Q201.33,545.76 199.54,550.05" stroke="#2c6ea8" stroke-width="0.9" fill="none"/><path d="M216.35,532.74 Q212.89,536.08 208.13,536.72" stroke="#6ab4e4" stroke-width="0.9" fill="none"/><path d="M240.63,533.7 Q241.28,537.32 239.02,540.21" stroke="#2c6ea8" stroke-width="0.9" fill="none"/><path d="M235.45,552.49 Q234.9,555.23 232.19,555.88" stroke="#5aa6dc" stroke-width="0.9" fill="none"/><path d="M220.89,526.97 Q216.9,528.67 212.75,527.37" stroke="#8ccaf0" stroke-width="0.9" fill="none"/><path d="M224.97,509.85 Q224,512.97 220.89,514" stroke="#6ab4e4" stroke-width="0.9" fill="none"/><path d="M206.24,541.65 Q207.54,546.78 205.84,551.78" stroke="#3478b2" stroke-width="0.9" fill="none"/><path d="M208.74,524.98 Q211.3,523.83 213.44,525.66" stroke="#5aa6dc" stroke-width="0.9" fill="none"/><circle cx="254.2" cy="537.8" r="1.6" fill="#4a98d0"/><circle cx="253.77" cy="542.75" r="1.6" fill="#4a98d0"/><circle cx="252.48" cy="547.55" r="1.6" fill="#4a98d0"/><circle cx="250.38" cy="552.05" r="1.6" fill="#4a98d0"/><circle cx="247.53" cy="556.12" r="1.6" fill="#4a98d0"/><circle cx="244.02" cy="559.63" r="1.6" fill="#4a98d0"/><circle cx="239.95" cy="562.48" r="1.6" fill="#4a98d0"/><circle cx="235.45" cy="564.58" r="1.6" fill="#4a98d0"/><circle cx="230.65" cy="565.87" r="1.6" fill="#4a98d0"/><circle cx="225.7" cy="566.3" r="1.6" fill="#4a98d0"/><circle cx="220.75" cy="565.87" r="1.6" fill="#4a98d0"/><circle cx="215.95" cy="564.58" r="1.6" fill="#4a98d0"/><circle cx="211.45" cy="562.48" r="1.6" fill="#4a98d0"/><circle cx="207.38" cy="559.63" r="1.6" fill="#4a98d0"/><circle cx="203.87" cy="556.12" r="1.6" fill="#4a98d0"/><circle cx="201.02" cy="552.05" r="1.6" fill="#4a98d0"/><circle cx="198.92" cy="547.55" r="1.6" fill="#4a98d0"/><circle cx="197.63" cy="542.75" r="1.6" fill="#4a98d0"/><circle cx="197.2" cy="537.8" r="1.6" fill="#4a98d0"/><circle cx="197.63" cy="532.85" r="1.6" fill="#4a98d0"/><circle cx="198.92" cy="528.05" r="1.6" fill="#4a98d0"/><circle cx="201.02" cy="523.55" r="1.6" fill="#4a98d0"/><circle cx="203.87" cy="519.48" r="1.6" fill="#4a98d0"/><circle cx="207.38" cy="515.97" r="1.6" fill="#4a98d0"/><circle cx="211.45" cy="513.12" r="1.6" fill="#4a98d0"/><circle cx="215.95" cy="511.02" r="1.6" fill="#4a98d0"/><circle cx="220.75" cy="509.73" r="1.6" fill="#4a98d0"/><circle cx="225.7" cy="509.3" r="1.6" fill="#4a98d0"/><circle cx="230.65" cy="509.73" r="1.6" fill="#4a98d0"/><circle cx="235.45" cy="511.02" r="1.6" fill="#4a98d0"/><circle cx="239.95" cy="513.12" r="1.6" fill="#4a98d0"/><circle cx="244.02" cy="515.97" r="1.6" fill="#4a98d0"/><circle cx="247.53" cy="519.48" r="1.6" fill="#4a98d0"/><circle cx="250.38" cy="523.55" r="1.6" fill="#4a98d0"/><circle cx="252.48" cy="528.05" r="1.6" fill="#4a98d0"/><circle cx="253.77" cy="532.85" r="1.6" fill="#4a98d0"/>
<ellipse cx="195.3" cy="544" rx="7" ry="18.5" transform="rotate(-12 195.3 544)" fill="none" stroke="#ee1414" stroke-width="1.2" stroke-dasharray="2.5,1.8"/>
<text x="195.5" y="544" font-size="10" text-anchor="middle" fill="#ee1414" font-family="Liberation Serif" font-weight="bold" transform="rotate(75 195.5 544)" dy="3.5">IDF</text>
<circle cx="206.9" cy="538.2" r="6.5" fill="url(#gE)"/>
<text x="206.6" y="541.22" font-size="10.08" text-anchor="middle" fill="#fff" font-family="Liberation Serif" font-weight="bold">e<tspan dy="-4.23" font-size="5.54">-</tspan></text>
<circle cx="238.1" cy="546.6" r="6.5" fill="url(#gE)"/>
<text x="237.8" y="549.62" font-size="10.08" text-anchor="middle" fill="#fff" font-family="Liberation Serif" font-weight="bold">e<tspan dy="-4.23" font-size="5.54">-</tspan></text>
<rect x="211.6" y="490.5" width="27.3" height="14.5" rx="2" fill="#fff" stroke="#888" stroke-width="1"/>
<text transform="translate(225.2,501.3) scale(0.97,1)" font-size="9.48" text-anchor="middle" fill="#111" stroke="#111" stroke-width="0.3" font-family="Liberation Serif" font-weight="bold" ><tspan>MoS</tspan><tspan dy="2.46" font-size="6.25">2</tspan></text>
<path d="M230.5,573 C232,556 245,546 268,545" fill="none" stroke="#ee1414" stroke-width="1.4"/>
<path d="M272.5,545 L266,541.8 L266.5,548.3 Z" fill="#ee1414"/>
<text transform="translate(275.2,549.8) scale(0.97,1)" font-size="10.81" text-anchor="start" fill="#ee1414" stroke="#ee1414" stroke-width="0.3" font-family="Liberation Serif" font-weight="bold" ><tspan>H</tspan><tspan dy="2.81" font-size="7.14">2</tspan></text>
<rect x="206" y="573.6" width="77.6" height="29.2" rx="4" fill="#fff" stroke="#e01818" stroke-width="1.2"/>
<text transform="translate(245,586.4) scale(0.97,1)" font-size="10.3" text-anchor="middle" fill="#e01818" stroke="#e01818" stroke-width="0.3" font-family="Liberation Serif" font-weight="bold" ><tspan>H</tspan><tspan dy="-3.91" font-size="6.8">+</tspan><tspan dy="3.91"> (Benzaldehyde)</tspan></text>
<text transform="translate(243,598.7) scale(0.97,1)" font-size="10.3" text-anchor="middle" fill="#e01818" stroke="#e01818" stroke-width="0.3" font-family="Liberation Serif" font-weight="bold" ><tspan>H</tspan><tspan dy="-3.91" font-size="6.8">+</tspan><tspan dy="3.91"> (H</tspan><tspan dy="2.68" font-size="6.8">2</tspan><tspan dy="-2.68">O)</tspan></text>
<text transform="translate(262.5,521.3) scale(0.97,1)" font-size="11.12" text-anchor="start" fill="#111" stroke="#111" stroke-width="0.3" font-family="Liberation Serif" font-weight="bold" >[In-S]</text>
<defs>
<clipPath id="bigclip"><path d="M291.5,520.5 L294.85,501.43 L298.21,493.62 L301.6,487.69 L304.99,482.74 L308.41,478.43 L311.84,474.58 L315.28,471.09 L318.75,467.87 L322.24,464.88 L325.74,462.1 L329.27,459.48 L332.81,457.02 L336.38,454.69 L339.97,452.48 L343.58,450.38 L347.22,448.38 L350.88,446.47 L354.57,444.65 L358.28,442.92 L362.03,441.26 L365.8,439.67 L369.61,438.15 L373.45,436.69 L377.32,435.3 L381.23,433.97 L385.18,432.7 L389.18,431.48 L393.21,430.32 L397.3,429.22 L401.43,428.16 L405.63,427.16 L409.88,426.22 L414.2,425.32 L418.59,424.48 L423.06,423.68 L427.62,422.94 L432.29,422.25 L437.07,421.62 L441.99,421.04 L447.08,420.52 L452.38,420.06 L457.96,419.67 L463.93,419.35 L470.55,419.11 L479.5,419 L488.45,419.11 L495.07,419.35 L501.04,419.67 L506.62,420.06 L511.92,420.52 L517.01,421.04 L521.93,421.62 L526.71,422.25 L531.38,422.94 L535.94,423.68 L540.41,424.48 L544.8,425.32 L549.12,426.22 L553.37,427.16 L557.57,428.16 L561.7,429.22 L565.79,430.32 L569.82,431.48 L573.82,432.7 L577.77,433.97 L581.68,435.3 L585.55,436.69 L589.39,438.15 L593.2,439.67 L596.97,441.26 L600.72,442.92 L604.43,444.65 L608.12,446.47 L611.78,448.38 L615.42,450.38 L619.03,452.48 L622.62,454.69 L626.19,457.02 L629.73,459.48 L633.26,462.1 L636.76,464.88 L640.25,467.87 L643.72,471.09 L647.16,474.58 L650.59,478.43 L654.01,482.74 L657.4,487.69 L660.79,493.62 L664.15,501.43 L667.5,520.5 L667.5,520.5 L664.15,558.51 L660.79,568.14 L657.4,574.74 L654.01,579.88 L650.59,584.12 L647.16,587.74 L643.72,590.89 L640.25,593.69 L636.76,596.19 L633.26,598.45 L629.73,600.5 L626.19,602.38 L622.62,604.1 L619.03,605.69 L615.42,607.15 L611.78,608.5 L608.12,609.75 L604.43,610.9 L600.72,611.97 L596.97,612.97 L593.2,613.88 L589.39,614.73 L585.55,615.52 L581.68,616.25 L577.77,616.92 L573.82,617.53 L569.82,618.1 L565.79,618.62 L561.7,619.09 L557.57,619.52 L553.37,619.9 L549.12,620.25 L544.8,620.56 L540.41,620.84 L535.94,621.08 L531.38,621.28 L526.71,621.46 L521.93,621.61 L517.01,621.73 L511.92,621.83 L506.62,621.9 L501.04,621.95 L495.07,621.98 L488.45,622 L479.5,622 L470.55,622 L463.93,621.98 L457.96,621.95 L452.38,621.9 L447.08,621.83 L441.99,621.73 L437.07,621.61 L432.29,621.46 L427.62,621.28 L423.06,621.08 L418.59,620.84 L414.2,620.56 L409.88,620.25 L405.63,619.9 L401.43,619.52 L397.3,619.09 L393.21,618.62 L389.18,618.1 L385.18,617.53 L381.23,616.92 L377.32,616.25 L373.45,615.52 L369.61,614.73 L365.8,613.88 L362.03,612.97 L358.28,611.97 L354.57,610.9 L350.88,609.75 L347.22,608.5 L343.58,607.15 L339.97,605.69 L336.38,604.1 L332.81,602.38 L329.27,600.5 L325.74,598.45 L322.24,596.19 L318.75,593.69 L315.28,590.89 L311.84,587.74 L308.41,584.12 L304.99,579.88 L301.6,574.74 L298.21,568.14 L294.85,558.51 L291.5,520.5Z"/></clipPath>
<linearGradient id="bigfill" x1="0" y1="0" x2="0" y2="1">
 <stop offset="0" stop-color="#fdf3f3"/><stop offset="0.45" stop-color="#fbeff0"/><stop offset="0.62" stop-color="#eef0f8"/><stop offset="1" stop-color="#eef1fa"/>
</linearGradient>
<radialGradient id="gMo" cx="0.4" cy="0.35" r="0.7"><stop offset="0" stop-color="#d8d8d8"/><stop offset="0.45" stop-color="#7a7a7a"/><stop offset="1" stop-color="#343434"/></radialGradient>
<radialGradient id="gRed" cx="0.4" cy="0.3" r="0.75"><stop offset="0" stop-color="#ff8a8a"/><stop offset="0.5" stop-color="#ec2a2a"/><stop offset="1" stop-color="#b00c0c"/></radialGradient>
<radialGradient id="gBlue" cx="0.4" cy="0.3" r="0.75"><stop offset="0" stop-color="#9a9aff"/><stop offset="0.5" stop-color="#3030e8"/><stop offset="1" stop-color="#1010a0"/></radialGradient>
<linearGradient id="dashRB" gradientUnits="userSpaceOnUse" x1="0" y1="516" x2="0" y2="570"><stop offset="0" stop-color="#d02040"/><stop offset="0.5" stop-color="#7030c0"/><stop offset="1" stop-color="#2020e8"/></linearGradient>
<linearGradient id="edgefade" x1="0" y1="0" x2="1" y2="0"><stop offset="0" stop-color="#fbf4f6" stop-opacity="0.9"/><stop offset="0.035" stop-color="#fbf4f6" stop-opacity="0.2"/><stop offset="0.07" stop-color="#fbf4f6" stop-opacity="0"/><stop offset="0.95" stop-color="#fbf4f6" stop-opacity="0"/><stop offset="0.985" stop-color="#fbf4f6" stop-opacity="0.35"/><stop offset="1" stop-color="#fbf4f6" stop-opacity="0.9"/></linearGradient>
<radialGradient id="botfade" cx="0.5" cy="0.42" r="0.6" fx="0.5" fy="0.42"><stop offset="0.78" stop-color="#f6f6fb" stop-opacity="0"/><stop offset="0.86" stop-color="#f6f6fb" stop-opacity="0.55"/><stop offset="1" stop-color="#f6f6fb" stop-opacity="0.9"/></radialGradient>
<filter id="blur2" x="-10%" y="-10%" width="120%" height="120%"><feGaussianBlur stdDeviation="2.5"/></filter>
<filter id="blur1" x="-20%" y="-20%" width="140%" height="140%"><feGaussianBlur stdDeviation="1.2"/></filter>
</defs>
<path d="M291.5,520.5 L294.85,501.43 L298.21,493.62 L301.6,487.69 L304.99,482.74 L308.41,478.43 L311.84,474.58 L315.28,471.09 L318.75,467.87 L322.24,464.88 L325.74,462.1 L329.27,459.48 L332.81,457.02 L336.38,454.69 L339.97,452.48 L343.58,450.38 L347.22,448.38 L350.88,446.47 L354.57,444.65 L358.28,442.92 L362.03,441.26 L365.8,439.67 L369.61,438.15 L373.45,436.69 L377.32,435.3 L381.23,433.97 L385.18,432.7 L389.18,431.48 L393.21,430.32 L397.3,429.22 L401.43,428.16 L405.63,427.16 L409.88,426.22 L414.2,425.32 L418.59,424.48 L423.06,423.68 L427.62,422.94 L432.29,422.25 L437.07,421.62 L441.99,421.04 L447.08,420.52 L452.38,420.06 L457.96,419.67 L463.93,419.35 L470.55,419.11 L479.5,419 L488.45,419.11 L495.07,419.35 L501.04,419.67 L506.62,420.06 L511.92,420.52 L517.01,421.04 L521.93,421.62 L526.71,422.25 L531.38,422.94 L535.94,423.68 L540.41,424.48 L544.8,425.32 L549.12,426.22 L553.37,427.16 L557.57,428.16 L561.7,429.22 L565.79,430.32 L569.82,431.48 L573.82,432.7 L577.77,433.97 L581.68,435.3 L585.55,436.69 L589.39,438.15 L593.2,439.67 L596.97,441.26 L600.72,442.92 L604.43,444.65 L608.12,446.47 L611.78,448.38 L615.42,450.38 L619.03,452.48 L622.62,454.69 L626.19,457.02 L629.73,459.48 L633.26,462.1 L636.76,464.88 L640.25,467.87 L643.72,471.09 L647.16,474.58 L650.59,478.43 L654.01,482.74 L657.4,487.69 L660.79,493.62 L664.15,501.43 L667.5,520.5 L667.5,520.5 L664.15,558.51 L660.79,568.14 L657.4,574.74 L654.01,579.88 L650.59,584.12 L647.16,587.74 L643.72,590.89 L640.25,593.69 L636.76,596.19 L633.26,598.45 L629.73,600.5 L626.19,602.38 L622.62,604.1 L619.03,605.69 L615.42,607.15 L611.78,608.5 L608.12,609.75 L604.43,610.9 L600.72,611.97 L596.97,612.97 L593.2,613.88 L589.39,614.73 L585.55,615.52 L581.68,616.25 L577.77,616.92 L573.82,617.53 L569.82,618.1 L565.79,618.62 L561.7,619.09 L557.57,619.52 L553.37,619.9 L549.12,620.25 L544.8,620.56 L540.41,620.84 L535.94,621.08 L531.38,621.28 L526.71,621.46 L521.93,621.61 L517.01,621.73 L511.92,621.83 L506.62,621.9 L501.04,621.95 L495.07,621.98 L488.45,622 L479.5,622 L470.55,622 L463.93,621.98 L457.96,621.95 L452.38,621.9 L447.08,621.83 L441.99,621.73 L437.07,621.61 L432.29,621.46 L427.62,621.28 L423.06,621.08 L418.59,620.84 L414.2,620.56 L409.88,620.25 L405.63,619.9 L401.43,619.52 L397.3,619.09 L393.21,618.62 L389.18,618.1 L385.18,617.53 L381.23,616.92 L377.32,616.25 L373.45,615.52 L369.61,614.73 L365.8,613.88 L362.03,612.97 L358.28,611.97 L354.57,610.9 L350.88,609.75 L347.22,608.5 L343.58,607.15 L339.97,605.69 L336.38,604.1 L332.81,602.38 L329.27,600.5 L325.74,598.45 L322.24,596.19 L318.75,593.69 L315.28,590.89 L311.84,587.74 L308.41,584.12 L304.99,579.88 L301.6,574.74 L298.21,568.14 L294.85,558.51 L291.5,520.5Z" fill="url(#bigfill)"/>
<g clip-path="url(#bigclip)">
<ellipse cx="482" cy="470" rx="18" ry="26" fill="#fff59a" opacity="0.55" filter="url(#blur1)"/>
<path d="M480,452 L472,500 L486,530 L470,560 L484,590 L475,625" fill="none" stroke="#f8ec70" stroke-width="9" opacity="0.45" filter="url(#blur1)"/>
<ellipse cx="343.6" cy="429" rx="11" ry="8" fill="url(#gMo)" opacity="0.55"/><ellipse cx="345.6" cy="440" rx="11" ry="8" fill="url(#gMo)" opacity="0.85"/><ellipse cx="343.6" cy="450" rx="11" ry="8" fill="url(#gMo)" opacity="0.92"/><ellipse cx="345.6" cy="460" rx="11" ry="8" fill="url(#gMo)" opacity="0.95"/><ellipse cx="375.8" cy="429" rx="11" ry="8" fill="url(#gMo)" opacity="0.55"/><ellipse cx="377.8" cy="440" rx="11" ry="8" fill="url(#gMo)" opacity="0.85"/><ellipse cx="375.8" cy="450" rx="11" ry="8" fill="url(#gMo)" opacity="0.92"/><ellipse cx="377.8" cy="460" rx="11" ry="8" fill="url(#gMo)" opacity="0.95"/><ellipse cx="408" cy="429" rx="11" ry="8" fill="url(#gMo)" opacity="0.55"/><ellipse cx="410" cy="440" rx="11" ry="8" fill="url(#gMo)" opacity="0.85"/><ellipse cx="408" cy="450" rx="11" ry="8" fill="url(#gMo)" opacity="0.92"/><ellipse cx="410" cy="460" rx="11" ry="8" fill="url(#gMo)" opacity="0.95"/><ellipse cx="440.2" cy="429" rx="11" ry="8" fill="url(#gMo)" opacity="0.55"/><ellipse cx="442.2" cy="440" rx="11" ry="8" fill="url(#gMo)" opacity="0.85"/><ellipse cx="440.2" cy="450" rx="11" ry="8" fill="url(#gMo)" opacity="0.92"/><ellipse cx="442.2" cy="460" rx="11" ry="8" fill="url(#gMo)" opacity="0.95"/><ellipse cx="472.4" cy="429" rx="11" ry="8" fill="url(#gMo)" opacity="0.55"/><ellipse cx="474.4" cy="440" rx="11" ry="8" fill="url(#gMo)" opacity="0.85"/><ellipse cx="472.4" cy="450" rx="11" ry="8" fill="url(#gMo)" opacity="0.92"/><ellipse cx="474.4" cy="460" rx="11" ry="8" fill="url(#gMo)" opacity="0.95"/><ellipse cx="504.6" cy="429" rx="11" ry="8" fill="url(#gMo)" opacity="0.55"/><ellipse cx="506.6" cy="440" rx="11" ry="8" fill="url(#gMo)" opacity="0.85"/><ellipse cx="504.6" cy="450" rx="11" ry="8" fill="url(#gMo)" opacity="0.92"/><ellipse cx="506.6" cy="460" rx="11" ry="8" fill="url(#gMo)" opacity="0.95"/><ellipse cx="536.8" cy="429" rx="11" ry="8" fill="url(#gMo)" opacity="0.55"/><ellipse cx="538.8" cy="440" rx="11" ry="8" fill="url(#gMo)" opacity="0.85"/><ellipse cx="536.8" cy="450" rx="11" ry="8" fill="url(#gMo)" opacity="0.92"/><ellipse cx="538.8" cy="460" rx="11" ry="8" fill="url(#gMo)" opacity="0.95"/><ellipse cx="569" cy="429" rx="11" ry="8" fill="url(#gMo)" opacity="0.55"/><ellipse cx="571" cy="440" rx="11" ry="8" fill="url(#gMo)" opacity="0.85"/><ellipse cx="569" cy="450" rx="11" ry="8" fill="url(#gMo)" opacity="0.92"/><ellipse cx="571" cy="460" rx="11" ry="8" fill="url(#gMo)" opacity="0.95"/><ellipse cx="601.2" cy="429" rx="11" ry="8" fill="url(#gMo)" opacity="0.55"/><ellipse cx="603.2" cy="440" rx="11" ry="8" fill="url(#gMo)" opacity="0.85"/><ellipse cx="601.2" cy="450" rx="11" ry="8" fill="url(#gMo)" opacity="0.92"/><ellipse cx="603.2" cy="460" rx="11" ry="8" fill="url(#gMo)" opacity="0.95"/><circle cx="360.1" cy="431" r="3.2" fill="url(#gYel)"/><circle cx="360.1" cy="439" r="3.2" fill="url(#gYel)"/><circle cx="360.1" cy="447" r="3.2" fill="url(#gYel)"/><circle cx="360.1" cy="455" r="3.2" fill="url(#gYel)"/><circle cx="360.1" cy="463" r="3.2" fill="url(#gYel)"/><circle cx="353.1" cy="435" r="2.5" fill="url(#gYel)"/><circle cx="353.1" cy="451" r="2.5" fill="url(#gYel)"/><circle cx="353.1" cy="467" r="2.5" fill="url(#gYel)"/><circle cx="392.3" cy="431" r="3.2" fill="url(#gYel)"/><circle cx="392.3" cy="439" r="3.2" fill="url(#gYel)"/><circle cx="392.3" cy="447" r="3.2" fill="url(#gYel)"/><circle cx="392.3" cy="455" r="3.2" fill="url(#gYel)"/><circle cx="392.3" cy="463" r="3.2" fill="url(#gYel)"/><circle cx="385.3" cy="435" r="2.5" fill="url(#gYel)"/><circle cx="385.3" cy="451" r="2.5" fill="url(#gYel)"/><circle cx="385.3" cy="467" r="2.5" fill="url(#gYel)"/><circle cx="424.5" cy="431" r="3.2" fill="url(#gYel)"/><circle cx="424.5" cy="439" r="3.2" fill="url(#gYel)"/><circle cx="424.5" cy="447" r="3.2" fill="url(#gYel)"/><circle cx="424.5" cy="455" r="3.2" fill="url(#gYel)"/><circle cx="424.5" cy="463" r="3.2" fill="url(#gYel)"/><circle cx="417.5" cy="435" r="2.5" fill="url(#gYel)"/><circle cx="417.5" cy="451" r="2.5" fill="url(#gYel)"/><circle cx="417.5" cy="467" r="2.5" fill="url(#gYel)"/><circle cx="456.7" cy="431" r="3.2" fill="url(#gYel)"/><circle cx="456.7" cy="439" r="3.2" fill="url(#gYel)"/><circle cx="456.7" cy="447" r="3.2" fill="url(#gYel)"/><circle cx="456.7" cy="455" r="3.2" fill="url(#gYel)"/><circle cx="456.7" cy="463" r="3.2" fill="url(#gYel)"/><circle cx="449.7" cy="435" r="2.5" fill="url(#gYel)"/><circle cx="449.7" cy="451" r="2.5" fill="url(#gYel)"/><circle cx="449.7" cy="467" r="2.5" fill="url(#gYel)"/><circle cx="488.9" cy="431" r="3.2" fill="url(#gYel)"/><circle cx="488.9" cy="439" r="3.2" fill="url(#gYel)"/><circle cx="488.9" cy="447" r="3.2" fill="url(#gYel)"/><circle cx="488.9" cy="455" r="3.2" fill="url(#gYel)"/><circle cx="488.9" cy="463" r="3.2" fill="url(#gYel)"/><circle cx="481.9" cy="435" r="2.5" fill="url(#gYel)"/><circle cx="481.9" cy="451" r="2.5" fill="url(#gYel)"/><circle cx="481.9" cy="467" r="2.5" fill="url(#gYel)"/><circle cx="521.1" cy="431" r="3.2" fill="url(#gYel)"/><circle cx="521.1" cy="439" r="3.2" fill="url(#gYel)"/><circle cx="521.1" cy="447" r="3.2" fill="url(#gYel)"/><circle cx="521.1" cy="455" r="3.2" fill="url(#gYel)"/><circle cx="521.1" cy="463" r="3.2" fill="url(#gYel)"/><circle cx="514.1" cy="435" r="2.5" fill="url(#gYel)"/><circle cx="514.1" cy="451" r="2.5" fill="url(#gYel)"/><circle cx="514.1" cy="467" r="2.5" fill="url(#gYel)"/><circle cx="553.3" cy="431" r="3.2" fill="url(#gYel)"/><circle cx="553.3" cy="439" r="3.2" fill="url(#gYel)"/><circle cx="553.3" cy="447" r="3.2" fill="url(#gYel)"/><circle cx="553.3" cy="455" r="3.2" fill="url(#gYel)"/><circle cx="553.3" cy="463" r="3.2" fill="url(#gYel)"/><circle cx="546.3" cy="435" r="2.5" fill="url(#gYel)"/><circle cx="546.3" cy="451" r="2.5" fill="url(#gYel)"/><circle cx="546.3" cy="467" r="2.5" fill="url(#gYel)"/><circle cx="585.5" cy="431" r="3.2" fill="url(#gYel)"/><circle cx="585.5" cy="439" r="3.2" fill="url(#gYel)"/><circle cx="585.5" cy="447" r="3.2" fill="url(#gYel)"/><circle cx="585.5" cy="455" r="3.2" fill="url(#gYel)"/><circle cx="585.5" cy="463" r="3.2" fill="url(#gYel)"/><circle cx="578.5" cy="435" r="2.5" fill="url(#gYel)"/><circle cx="578.5" cy="451" r="2.5" fill="url(#gYel)"/><circle cx="578.5" cy="467" r="2.5" fill="url(#gYel)"/><circle cx="617.7" cy="431" r="3.2" fill="url(#gYel)"/><circle cx="617.7" cy="439" r="3.2" fill="url(#gYel)"/><circle cx="617.7" cy="447" r="3.2" fill="url(#gYel)"/><circle cx="617.7" cy="455" r="3.2" fill="url(#gYel)"/><circle cx="617.7" cy="463" r="3.2" fill="url(#gYel)"/><circle cx="610.7" cy="435" r="2.5" fill="url(#gYel)"/><circle cx="610.7" cy="451" r="2.5" fill="url(#gYel)"/><circle cx="610.7" cy="467" r="2.5" fill="url(#gYel)"/><circle cx="327.9" cy="431" r="3.2" fill="url(#gYel)"/><circle cx="327.9" cy="439" r="3.2" fill="url(#gYel)"/><circle cx="327.9" cy="447" r="3.2" fill="url(#gYel)"/><circle cx="327.9" cy="455" r="3.2" fill="url(#gYel)"/><circle cx="327.9" cy="463" r="3.2" fill="url(#gYel)"/><circle cx="320.9" cy="435" r="2.5" fill="url(#gYel)"/><circle cx="320.9" cy="451" r="2.5" fill="url(#gYel)"/><circle cx="320.9" cy="467" r="2.5" fill="url(#gYel)"/>
<line x1="357" y1="453" x2="342" y2="496" stroke="#909090" stroke-width="0.5" opacity="0.7"/><line x1="357" y1="453" x2="347.33" y2="496" stroke="#909090" stroke-width="0.5" opacity="0.7"/><line x1="357" y1="453" x2="352.67" y2="496" stroke="#909090" stroke-width="0.5" opacity="0.7"/><line x1="357" y1="453" x2="358" y2="496" stroke="#909090" stroke-width="0.5" opacity="0.7"/><line x1="357" y1="453" x2="363.33" y2="496" stroke="#909090" stroke-width="0.5" opacity="0.7"/><line x1="357" y1="453" x2="368.67" y2="496" stroke="#909090" stroke-width="0.5" opacity="0.7"/><line x1="357" y1="453" x2="374" y2="496" stroke="#909090" stroke-width="0.5" opacity="0.7"/><path d="M357,453 L342,496 L374,496 Z" fill="#d0d0d0" opacity="0.25"/>
<line x1="325" y1="462" x2="312" y2="496" stroke="#909090" stroke-width="0.5" opacity="0.7"/><line x1="325" y1="462" x2="316.33" y2="496" stroke="#909090" stroke-width="0.5" opacity="0.7"/><line x1="325" y1="462" x2="320.67" y2="496" stroke="#909090" stroke-width="0.5" opacity="0.7"/><line x1="325" y1="462" x2="325" y2="496" stroke="#909090" stroke-width="0.5" opacity="0.7"/><line x1="325" y1="462" x2="329.33" y2="496" stroke="#909090" stroke-width="0.5" opacity="0.7"/><line x1="325" y1="462" x2="333.67" y2="496" stroke="#909090" stroke-width="0.5" opacity="0.7"/><line x1="325" y1="462" x2="338" y2="496" stroke="#909090" stroke-width="0.5" opacity="0.7"/><path d="M325,462 L312,496 L338,496 Z" fill="#d0d0d0" opacity="0.25"/>
<line x1="590" y1="456" x2="576" y2="496" stroke="#909090" stroke-width="0.5" opacity="0.7"/><line x1="590" y1="456" x2="581" y2="496" stroke="#909090" stroke-width="0.5" opacity="0.7"/><line x1="590" y1="456" x2="586" y2="496" stroke="#909090" stroke-width="0.5" opacity="0.7"/><line x1="590" y1="456" x2="591" y2="496" stroke="#909090" stroke-width="0.5" opacity="0.7"/><line x1="590" y1="456" x2="596" y2="496" stroke="#909090" stroke-width="0.5" opacity="0.7"/><line x1="590" y1="456" x2="601" y2="496" stroke="#909090" stroke-width="0.5" opacity="0.7"/><line x1="590" y1="456" x2="606" y2="496" stroke="#909090" stroke-width="0.5" opacity="0.7"/><path d="M590,456 L576,496 L606,496 Z" fill="#d0d0d0" opacity="0.25"/>
<line x1="636" y1="452" x2="622" y2="494" stroke="#909090" stroke-width="0.5" opacity="0.7"/><line x1="636" y1="452" x2="627" y2="494" stroke="#909090" stroke-width="0.5" opacity="0.7"/><line x1="636" y1="452" x2="632" y2="494" stroke="#909090" stroke-width="0.5" opacity="0.7"/><line x1="636" y1="452" x2="637" y2="494" stroke="#909090" stroke-width="0.5" opacity="0.7"/><line x1="636" y1="452" x2="642" y2="494" stroke="#909090" stroke-width="0.5" opacity="0.7"/><line x1="636" y1="452" x2="647" y2="494" stroke="#909090" stroke-width="0.5" opacity="0.7"/><line x1="636" y1="452" x2="652" y2="494" stroke="#909090" stroke-width="0.5" opacity="0.7"/><path d="M636,452 L622,494 L652,494 Z" fill="#d0d0d0" opacity="0.25"/>
<circle cx="306.2" cy="500" r="11.5" fill="url(#gRed)" opacity="0.8"/><circle cx="293.7" cy="513.5" r="3.8" fill="url(#gYel)"/><ellipse cx="305.2" cy="511.5" rx="12" ry="7.8" fill="url(#gRed)"/><circle cx="317.7" cy="516.5" r="3.2" fill="url(#gYel)"/><circle cx="293.7" cy="525.5" r="3.8" fill="url(#gYel)"/><ellipse cx="305.2" cy="523.5" rx="12" ry="7.8" fill="url(#gRed)"/><circle cx="317.7" cy="528.5" r="3.2" fill="url(#gYel)"/><circle cx="293.7" cy="537.5" r="3.8" fill="url(#gYel)"/><ellipse cx="305.2" cy="535.5" rx="12" ry="7.8" fill="url(#gRed)"/><circle cx="317.7" cy="540.5" r="3.2" fill="url(#gYel)"/><circle cx="301.2" cy="547.5" r="3.6" fill="url(#gYel)"/><circle cx="337.5" cy="500" r="11.5" fill="url(#gRed)" opacity="0.8"/><circle cx="325" cy="513.5" r="3.8" fill="url(#gYel)"/><ellipse cx="336.5" cy="511.5" rx="12" ry="7.8" fill="url(#gRed)"/><circle cx="349" cy="516.5" r="3.2" fill="url(#gYel)"/><circle cx="325" cy="525.5" r="3.8" fill="url(#gYel)"/><ellipse cx="336.5" cy="523.5" rx="12" ry="7.8" fill="url(#gRed)"/><circle cx="349" cy="528.5" r="3.2" fill="url(#gYel)"/><circle cx="325" cy="537.5" r="3.8" fill="url(#gYel)"/><ellipse cx="336.5" cy="535.5" rx="12" ry="7.8" fill="url(#gRed)"/><circle cx="349" cy="540.5" r="3.2" fill="url(#gYel)"/><circle cx="332.5" cy="547.5" r="3.6" fill="url(#gYel)"/><circle cx="368.8" cy="500" r="11.5" fill="url(#gRed)" opacity="0.8"/><circle cx="356.3" cy="513.5" r="3.8" fill="url(#gYel)"/><ellipse cx="367.8" cy="511.5" rx="12" ry="7.8" fill="url(#gRed)"/><circle cx="380.3" cy="516.5" r="3.2" fill="url(#gYel)"/><circle cx="356.3" cy="525.5" r="3.8" fill="url(#gYel)"/><ellipse cx="367.8" cy="523.5" rx="12" ry="7.8" fill="url(#gRed)"/><circle cx="380.3" cy="528.5" r="3.2" fill="url(#gYel)"/><circle cx="356.3" cy="537.5" r="3.8" fill="url(#gYel)"/><ellipse cx="367.8" cy="535.5" rx="12" ry="7.8" fill="url(#gRed)"/><circle cx="380.3" cy="540.5" r="3.2" fill="url(#gYel)"/><circle cx="363.8" cy="547.5" r="3.6" fill="url(#gYel)"/><circle cx="400.1" cy="500" r="11.5" fill="url(#gRed)" opacity="0.8"/><circle cx="387.6" cy="513.5" r="3.8" fill="url(#gYel)"/><ellipse cx="399.1" cy="511.5" rx="12" ry="7.8" fill="url(#gRed)"/><circle cx="411.6" cy="516.5" r="3.2" fill="url(#gYel)"/><circle cx="387.6" cy="525.5" r="3.8" fill="url(#gYel)"/><ellipse cx="399.1" cy="523.5" rx="12" ry="7.8" fill="url(#gRed)"/><circle cx="411.6" cy="528.5" r="3.2" fill="url(#gYel)"/><circle cx="387.6" cy="537.5" r="3.8" fill="url(#gYel)"/><ellipse cx="399.1" cy="535.5" rx="12" ry="7.8" fill="url(#gRed)"/><circle cx="411.6" cy="540.5" r="3.2" fill="url(#gYel)"/><circle cx="395.1" cy="547.5" r="3.6" fill="url(#gYel)"/><circle cx="431.4" cy="500" r="11.5" fill="url(#gRed)" opacity="0.8"/><circle cx="418.9" cy="513.5" r="3.8" fill="url(#gYel)"/><ellipse cx="430.4" cy="511.5" rx="12" ry="7.8" fill="url(#gRed)"/><circle cx="442.9" cy="516.5" r="3.2" fill="url(#gYel)"/><circle cx="418.9" cy="525.5" r="3.8" fill="url(#gYel)"/><ellipse cx="430.4" cy="523.5" rx="12" ry="7.8" fill="url(#gRed)"/><circle cx="442.9" cy="528.5" r="3.2" fill="url(#gYel)"/><circle cx="418.9" cy="537.5" r="3.8" fill="url(#gYel)"/><ellipse cx="430.4" cy="535.5" rx="12" ry="7.8" fill="url(#gRed)"/><circle cx="442.9" cy="540.5" r="3.2" fill="url(#gYel)"/><circle cx="426.4" cy="547.5" r="3.6" fill="url(#gYel)"/><circle cx="462.7" cy="500" r="11.5" fill="url(#gRed)" opacity="0.8"/><circle cx="450.2" cy="513.5" r="3.8" fill="url(#gYel)"/><ellipse cx="461.7" cy="511.5" rx="12" ry="7.8" fill="url(#gRed)"/><circle cx="474.2" cy="516.5" r="3.2" fill="url(#gYel)"/><circle cx="450.2" cy="525.5" r="3.8" fill="url(#gYel)"/><ellipse cx="461.7" cy="523.5" rx="12" ry="7.8" fill="url(#gRed)"/><circle cx="474.2" cy="528.5" r="3.2" fill="url(#gYel)"/><circle cx="450.2" cy="537.5" r="3.8" fill="url(#gYel)"/><ellipse cx="461.7" cy="535.5" rx="12" ry="7.8" fill="url(#gRed)"/><circle cx="474.2" cy="540.5" r="3.2" fill="url(#gYel)"/><circle cx="457.7" cy="547.5" r="3.6" fill="url(#gYel)"/><circle cx="494" cy="500" r="11.5" fill="url(#gRed)" opacity="0.8"/><circle cx="481.5" cy="513.5" r="3.8" fill="url(#gYel)"/><ellipse cx="493" cy="511.5" rx="12" ry="7.8" fill="url(#gRed)"/><circle cx="505.5" cy="516.5" r="3.2" fill="url(#gYel)"/><circle cx="481.5" cy="525.5" r="3.8" fill="url(#gYel)"/><ellipse cx="493" cy="523.5" rx="12" ry="7.8" fill="url(#gRed)"/><circle cx="505.5" cy="528.5" r="3.2" fill="url(#gYel)"/><circle cx="481.5" cy="537.5" r="3.8" fill="url(#gYel)"/><ellipse cx="493" cy="535.5" rx="12" ry="7.8" fill="url(#gRed)"/><circle cx="505.5" cy="540.5" r="3.2" fill="url(#gYel)"/><circle cx="489" cy="547.5" r="3.6" fill="url(#gYel)"/><circle cx="525.3" cy="500" r="11.5" fill="url(#gRed)" opacity="0.8"/><circle cx="512.8" cy="513.5" r="3.8" fill="url(#gYel)"/><ellipse cx="524.3" cy="511.5" rx="12" ry="7.8" fill="url(#gRed)"/><circle cx="536.8" cy="516.5" r="3.2" fill="url(#gYel)"/><circle cx="512.8" cy="525.5" r="3.8" fill="url(#gYel)"/><ellipse cx="524.3" cy="523.5" rx="12" ry="7.8" fill="url(#gRed)"/><circle cx="536.8" cy="528.5" r="3.2" fill="url(#gYel)"/><circle cx="512.8" cy="537.5" r="3.8" fill="url(#gYel)"/><ellipse cx="524.3" cy="535.5" rx="12" ry="7.8" fill="url(#gRed)"/><circle cx="536.8" cy="540.5" r="3.2" fill="url(#gYel)"/><circle cx="520.3" cy="547.5" r="3.6" fill="url(#gYel)"/><circle cx="556.6" cy="500" r="11.5" fill="url(#gRed)" opacity="0.8"/><circle cx="544.1" cy="513.5" r="3.8" fill="url(#gYel)"/><ellipse cx="555.6" cy="511.5" rx="12" ry="7.8" fill="url(#gRed)"/><circle cx="568.1" cy="516.5" r="3.2" fill="url(#gYel)"/><circle cx="544.1" cy="525.5" r="3.8" fill="url(#gYel)"/><ellipse cx="555.6" cy="523.5" rx="12" ry="7.8" fill="url(#gRed)"/><circle cx="568.1" cy="528.5" r="3.2" fill="url(#gYel)"/><circle cx="544.1" cy="537.5" r="3.8" fill="url(#gYel)"/><ellipse cx="555.6" cy="535.5" rx="12" ry="7.8" fill="url(#gRed)"/><circle cx="568.1" cy="540.5" r="3.2" fill="url(#gYel)"/><circle cx="551.6" cy="547.5" r="3.6" fill="url(#gYel)"/><circle cx="587.9" cy="500" r="11.5" fill="url(#gRed)" opacity="0.8"/><circle cx="575.4" cy="513.5" r="3.8" fill="url(#gYel)"/><ellipse cx="586.9" cy="511.5" rx="12" ry="7.8" fill="url(#gRed)"/><circle cx="599.4" cy="516.5" r="3.2" fill="url(#gYel)"/><circle cx="575.4" cy="525.5" r="3.8" fill="url(#gYel)"/><ellipse cx="586.9" cy="523.5" rx="12" ry="7.8" fill="url(#gRed)"/><circle cx="599.4" cy="528.5" r="3.2" fill="url(#gYel)"/><circle cx="575.4" cy="537.5" r="3.8" fill="url(#gYel)"/><ellipse cx="586.9" cy="535.5" rx="12" ry="7.8" fill="url(#gRed)"/><circle cx="599.4" cy="540.5" r="3.2" fill="url(#gYel)"/><circle cx="582.9" cy="547.5" r="3.6" fill="url(#gYel)"/><circle cx="619.2" cy="500" r="11.5" fill="url(#gRed)" opacity="0.8"/><circle cx="606.7" cy="513.5" r="3.8" fill="url(#gYel)"/><ellipse cx="618.2" cy="511.5" rx="12" ry="7.8" fill="url(#gRed)"/><circle cx="630.7" cy="516.5" r="3.2" fill="url(#gYel)"/><circle cx="606.7" cy="525.5" r="3.8" fill="url(#gYel)"/><ellipse cx="618.2" cy="523.5" rx="12" ry="7.8" fill="url(#gRed)"/><circle cx="630.7" cy="528.5" r="3.2" fill="url(#gYel)"/><circle cx="606.7" cy="537.5" r="3.8" fill="url(#gYel)"/><ellipse cx="618.2" cy="535.5" rx="12" ry="7.8" fill="url(#gRed)"/><circle cx="630.7" cy="540.5" r="3.2" fill="url(#gYel)"/><circle cx="614.2" cy="547.5" r="3.6" fill="url(#gYel)"/><circle cx="650.5" cy="500" r="11.5" fill="url(#gRed)" opacity="0.8"/><circle cx="638" cy="513.5" r="3.8" fill="url(#gYel)"/><ellipse cx="649.5" cy="511.5" rx="12" ry="7.8" fill="url(#gRed)"/><circle cx="662" cy="516.5" r="3.2" fill="url(#gYel)"/><circle cx="638" cy="525.5" r="3.8" fill="url(#gYel)"/><ellipse cx="649.5" cy="523.5" rx="12" ry="7.8" fill="url(#gRed)"/><circle cx="662" cy="528.5" r="3.2" fill="url(#gYel)"/><circle cx="638" cy="537.5" r="3.8" fill="url(#gYel)"/><ellipse cx="649.5" cy="535.5" rx="12" ry="7.8" fill="url(#gRed)"/><circle cx="662" cy="540.5" r="3.2" fill="url(#gYel)"/><circle cx="645.5" cy="547.5" r="3.6" fill="url(#gYel)"/>
<circle cx="320" cy="581" r="3.2" fill="url(#gYel)"/><ellipse cx="329.5" cy="578" rx="9.2" ry="7" fill="url(#gBlue)"/><circle cx="320" cy="591" r="3.2" fill="url(#gYel)"/><ellipse cx="329.5" cy="588" rx="9.2" ry="7" fill="url(#gBlue)"/><circle cx="320" cy="601" r="3.2" fill="url(#gYel)"/><ellipse cx="329.5" cy="598" rx="9.2" ry="7" fill="url(#gBlue)"/><circle cx="320" cy="611" r="3.2" fill="url(#gYel)"/><ellipse cx="329.5" cy="608" rx="9.2" ry="7" fill="url(#gBlue)"/><circle cx="320" cy="621" r="3.2" fill="url(#gYel)"/><ellipse cx="329.5" cy="618" rx="9.2" ry="7" fill="url(#gBlue)"/><circle cx="339.5" cy="582" r="2.7" fill="url(#gYel)"/><circle cx="339.5" cy="602" r="2.7" fill="url(#gYel)"/><circle cx="339.5" cy="622" r="2.7" fill="url(#gYel)"/><circle cx="344.7" cy="581" r="3.2" fill="url(#gYel)"/><ellipse cx="354.2" cy="578" rx="9.2" ry="7" fill="url(#gBlue)"/><circle cx="344.7" cy="591" r="3.2" fill="url(#gYel)"/><ellipse cx="354.2" cy="588" rx="9.2" ry="7" fill="url(#gBlue)"/><circle cx="344.7" cy="601" r="3.2" fill="url(#gYel)"/><ellipse cx="354.2" cy="598" rx="9.2" ry="7" fill="url(#gBlue)"/><circle cx="344.7" cy="611" r="3.2" fill="url(#gYel)"/><ellipse cx="354.2" cy="608" rx="9.2" ry="7" fill="url(#gBlue)"/><circle cx="344.7" cy="621" r="3.2" fill="url(#gYel)"/><ellipse cx="354.2" cy="618" rx="9.2" ry="7" fill="url(#gBlue)"/><circle cx="364.2" cy="582" r="2.7" fill="url(#gYel)"/><circle cx="364.2" cy="602" r="2.7" fill="url(#gYel)"/><circle cx="364.2" cy="622" r="2.7" fill="url(#gYel)"/><circle cx="369.4" cy="581" r="3.2" fill="url(#gYel)"/><ellipse cx="378.9" cy="578" rx="9.2" ry="7" fill="url(#gBlue)"/><circle cx="369.4" cy="591" r="3.2" fill="url(#gYel)"/><ellipse cx="378.9" cy="588" rx="9.2" ry="7" fill="url(#gBlue)"/><circle cx="369.4" cy="601" r="3.2" fill="url(#gYel)"/><ellipse cx="378.9" cy="598" rx="9.2" ry="7" fill="url(#gBlue)"/><circle cx="369.4" cy="611" r="3.2" fill="url(#gYel)"/><ellipse cx="378.9" cy="608" rx="9.2" ry="7" fill="url(#gBlue)"/><circle cx="369.4" cy="621" r="3.2" fill="url(#gYel)"/><ellipse cx="378.9" cy="618" rx="9.2" ry="7" fill="url(#gBlue)"/><circle cx="388.9" cy="582" r="2.7" fill="url(#gYel)"/><circle cx="388.9" cy="602" r="2.7" fill="url(#gYel)"/><circle cx="388.9" cy="622" r="2.7" fill="url(#gYel)"/><circle cx="394.1" cy="581" r="3.2" fill="url(#gYel)"/><ellipse cx="403.6" cy="578" rx="9.2" ry="7" fill="url(#gBlue)"/><circle cx="394.1" cy="591" r="3.2" fill="url(#gYel)"/><ellipse cx="403.6" cy="588" rx="9.2" ry="7" fill="url(#gBlue)"/><circle cx="394.1" cy="601" r="3.2" fill="url(#gYel)"/><ellipse cx="403.6" cy="598" rx="9.2" ry="7" fill="url(#gBlue)"/><circle cx="394.1" cy="611" r="3.2" fill="url(#gYel)"/><ellipse cx="403.6" cy="608" rx="9.2" ry="7" fill="url(#gBlue)"/><circle cx="394.1" cy="621" r="3.2" fill="url(#gYel)"/><ellipse cx="403.6" cy="618" rx="9.2" ry="7" fill="url(#gBlue)"/><circle cx="413.6" cy="582" r="2.7" fill="url(#gYel)"/><circle cx="413.6" cy="602" r="2.7" fill="url(#gYel)"/><circle cx="413.6" cy="622" r="2.7" fill="url(#gYel)"/><circle cx="418.8" cy="581" r="3.2" fill="url(#gYel)"/><ellipse cx="428.3" cy="578" rx="9.2" ry="7" fill="url(#gBlue)"/><circle cx="418.8" cy="591" r="3.2" fill="url(#gYel)"/><ellipse cx="428.3" cy="588" rx="9.2" ry="7" fill="url(#gBlue)"/><circle cx="418.8" cy="601" r="3.2" fill="url(#gYel)"/><ellipse cx="428.3" cy="598" rx="9.2" ry="7" fill="url(#gBlue)"/><circle cx="418.8" cy="611" r="3.2" fill="url(#gYel)"/><ellipse cx="428.3" cy="608" rx="9.2" ry="7" fill="url(#gBlue)"/><circle cx="418.8" cy="621" r="3.2" fill="url(#gYel)"/><ellipse cx="428.3" cy="618" rx="9.2" ry="7" fill="url(#gBlue)"/><circle cx="438.3" cy="582" r="2.7" fill="url(#gYel)"/><circle cx="438.3" cy="602" r="2.7" fill="url(#gYel)"/><circle cx="438.3" cy="622" r="2.7" fill="url(#gYel)"/><circle cx="443.5" cy="581" r="3.2" fill="url(#gYel)"/><ellipse cx="453" cy="578" rx="9.2" ry="7" fill="url(#gBlue)"/><circle cx="443.5" cy="591" r="3.2" fill="url(#gYel)"/><ellipse cx="453" cy="588" rx="9.2" ry="7" fill="url(#gBlue)"/><circle cx="443.5" cy="601" r="3.2" fill="url(#gYel)"/><ellipse cx="453" cy="598" rx="9.2" ry="7" fill="url(#gBlue)"/><circle cx="443.5" cy="611" r="3.2" fill="url(#gYel)"/><ellipse cx="453" cy="608" rx="9.2" ry="7" fill="url(#gBlue)"/><circle cx="443.5" cy="621" r="3.2" fill="url(#gYel)"/><ellipse cx="453" cy="618" rx="9.2" ry="7" fill="url(#gBlue)"/><circle cx="463" cy="582" r="2.7" fill="url(#gYel)"/><circle cx="463" cy="602" r="2.7" fill="url(#gYel)"/><circle cx="463" cy="622" r="2.7" fill="url(#gYel)"/><circle cx="468.2" cy="581" r="3.2" fill="url(#gYel)"/><ellipse cx="477.7" cy="578" rx="9.2" ry="7" fill="url(#gBlue)"/><circle cx="468.2" cy="591" r="3.2" fill="url(#gYel)"/><ellipse cx="477.7" cy="588" rx="9.2" ry="7" fill="url(#gBlue)"/><circle cx="468.2" cy="601" r="3.2" fill="url(#gYel)"/><ellipse cx="477.7" cy="598" rx="9.2" ry="7" fill="url(#gBlue)"/><circle cx="468.2" cy="611" r="3.2" fill="url(#gYel)"/><ellipse cx="477.7" cy="608" rx="9.2" ry="7" fill="url(#gBlue)"/><circle cx="468.2" cy="621" r="3.2" fill="url(#gYel)"/><ellipse cx="477.7" cy="618" rx="9.2" ry="7" fill="url(#gBlue)"/><circle cx="487.7" cy="582" r="2.7" fill="url(#gYel)"/><circle cx="487.7" cy="602" r="2.7" fill="url(#gYel)"/><circle cx="487.7" cy="622" r="2.7" fill="url(#gYel)"/><circle cx="492.9" cy="581" r="3.2" fill="url(#gYel)"/><ellipse cx="502.4" cy="578" rx="9.2" ry="7" fill="url(#gBlue)"/><circle cx="492.9" cy="591" r="3.2" fill="url(#gYel)"/><ellipse cx="502.4" cy="588" rx="9.2" ry="7" fill="url(#gBlue)"/><circle cx="492.9" cy="601" r="3.2" fill="url(#gYel)"/><ellipse cx="502.4" cy="598" rx="9.2" ry="7" fill="url(#gBlue)"/><circle cx="492.9" cy="611" r="3.2" fill="url(#gYel)"/><ellipse cx="502.4" cy="608" rx="9.2" ry="7" fill="url(#gBlue)"/><circle cx="492.9" cy="621" r="3.2" fill="url(#gYel)"/><ellipse cx="502.4" cy="618" rx="9.2" ry="7" fill="url(#gBlue)"/><circle cx="512.4" cy="582" r="2.7" fill="url(#gYel)"/><circle cx="512.4" cy="602" r="2.7" fill="url(#gYel)"/><circle cx="512.4" cy="622" r="2.7" fill="url(#gYel)"/><circle cx="517.6" cy="581" r="3.2" fill="url(#gYel)"/><ellipse cx="527.1" cy="578" rx="9.2" ry="7" fill="url(#gBlue)"/><circle cx="517.6" cy="591" r="3.2" fill="url(#gYel)"/><ellipse cx="527.1" cy="588" rx="9.2" ry="7" fill="url(#gBlue)"/><circle cx="517.6" cy="601" r="3.2" fill="url(#gYel)"/><ellipse cx="527.1" cy="598" rx="9.2" ry="7" fill="url(#gBlue)"/><circle cx="517.6" cy="611" r="3.2" fill="url(#gYel)"/><ellipse cx="527.1" cy="608" rx="9.2" ry="7" fill="url(#gBlue)"/><circle cx="517.6" cy="621" r="3.2" fill="url(#gYel)"/><ellipse cx="527.1" cy="618" rx="9.2" ry="7" fill="url(#gBlue)"/><circle cx="537.1" cy="582" r="2.7" fill="url(#gYel)"/><circle cx="537.1" cy="602" r="2.7" fill="url(#gYel)"/><circle cx="537.1" cy="622" r="2.7" fill="url(#gYel)"/><circle cx="542.3" cy="581" r="3.2" fill="url(#gYel)"/><ellipse cx="551.8" cy="578" rx="9.2" ry="7" fill="url(#gBlue)"/><circle cx="542.3" cy="591" r="3.2" fill="url(#gYel)"/><ellipse cx="551.8" cy="588" rx="9.2" ry="7" fill="url(#gBlue)"/><circle cx="542.3" cy="601" r="3.2" fill="url(#gYel)"/><ellipse cx="551.8" cy="598" rx="9.2" ry="7" fill="url(#gBlue)"/><circle cx="542.3" cy="611" r="3.2" fill="url(#gYel)"/><ellipse cx="551.8" cy="608" rx="9.2" ry="7" fill="url(#gBlue)"/><circle cx="542.3" cy="621" r="3.2" fill="url(#gYel)"/><ellipse cx="551.8" cy="618" rx="9.2" ry="7" fill="url(#gBlue)"/><circle cx="561.8" cy="582" r="2.7" fill="url(#gYel)"/><circle cx="561.8" cy="602" r="2.7" fill="url(#gYel)"/><circle cx="561.8" cy="622" r="2.7" fill="url(#gYel)"/><circle cx="567" cy="581" r="3.2" fill="url(#gYel)"/><ellipse cx="576.5" cy="578" rx="9.2" ry="7" fill="url(#gBlue)"/><circle cx="567" cy="591" r="3.2" fill="url(#gYel)"/><ellipse cx="576.5" cy="588" rx="9.2" ry="7" fill="url(#gBlue)"/><circle cx="567" cy="601" r="3.2" fill="url(#gYel)"/><ellipse cx="576.5" cy="598" rx="9.2" ry="7" fill="url(#gBlue)"/><circle cx="567" cy="611" r="3.2" fill="url(#gYel)"/><ellipse cx="576.5" cy="608" rx="9.2" ry="7" fill="url(#gBlue)"/><circle cx="567" cy="621" r="3.2" fill="url(#gYel)"/><ellipse cx="576.5" cy="618" rx="9.2" ry="7" fill="url(#gBlue)"/><circle cx="586.5" cy="582" r="2.7" fill="url(#gYel)"/><circle cx="586.5" cy="602" r="2.7" fill="url(#gYel)"/><circle cx="586.5" cy="622" r="2.7" fill="url(#gYel)"/><circle cx="591.7" cy="581" r="3.2" fill="url(#gYel)"/><ellipse cx="601.2" cy="578" rx="9.2" ry="7" fill="url(#gBlue)"/><circle cx="591.7" cy="591" r="3.2" fill="url(#gYel)"/><ellipse cx="601.2" cy="588" rx="9.2" ry="7" fill="url(#gBlue)"/><circle cx="591.7" cy="601" r="3.2" fill="url(#gYel)"/><ellipse cx="601.2" cy="598" rx="9.2" ry="7" fill="url(#gBlue)"/><circle cx="591.7" cy="611" r="3.2" fill="url(#gYel)"/><ellipse cx="601.2" cy="608" rx="9.2" ry="7" fill="url(#gBlue)"/><circle cx="591.7" cy="621" r="3.2" fill="url(#gYel)"/><ellipse cx="601.2" cy="618" rx="9.2" ry="7" fill="url(#gBlue)"/><circle cx="611.2" cy="582" r="2.7" fill="url(#gYel)"/><circle cx="611.2" cy="602" r="2.7" fill="url(#gYel)"/><circle cx="611.2" cy="622" r="2.7" fill="url(#gYel)"/><circle cx="616.4" cy="581" r="3.2" fill="url(#gYel)"/><ellipse cx="625.9" cy="578" rx="9.2" ry="7" fill="url(#gBlue)"/><circle cx="616.4" cy="591" r="3.2" fill="url(#gYel)"/><ellipse cx="625.9" cy="588" rx="9.2" ry="7" fill="url(#gBlue)"/><circle cx="616.4" cy="601" r="3.2" fill="url(#gYel)"/><ellipse cx="625.9" cy="598" rx="9.2" ry="7" fill="url(#gBlue)"/><circle cx="616.4" cy="611" r="3.2" fill="url(#gYel)"/><ellipse cx="625.9" cy="608" rx="9.2" ry="7" fill="url(#gBlue)"/><circle cx="616.4" cy="621" r="3.2" fill="url(#gYel)"/><ellipse cx="625.9" cy="618" rx="9.2" ry="7" fill="url(#gBlue)"/><circle cx="635.9" cy="582" r="2.7" fill="url(#gYel)"/><circle cx="635.9" cy="602" r="2.7" fill="url(#gYel)"/><circle cx="635.9" cy="622" r="2.7" fill="url(#gYel)"/><circle cx="641.1" cy="581" r="3.2" fill="url(#gYel)"/><ellipse cx="650.6" cy="578" rx="9.2" ry="7" fill="url(#gBlue)"/><circle cx="641.1" cy="591" r="3.2" fill="url(#gYel)"/><ellipse cx="650.6" cy="588" rx="9.2" ry="7" fill="url(#gBlue)"/><circle cx="641.1" cy="601" r="3.2" fill="url(#gYel)"/><ellipse cx="650.6" cy="598" rx="9.2" ry="7" fill="url(#gBlue)"/><circle cx="641.1" cy="611" r="3.2" fill="url(#gYel)"/><ellipse cx="650.6" cy="608" rx="9.2" ry="7" fill="url(#gBlue)"/><circle cx="641.1" cy="621" r="3.2" fill="url(#gYel)"/><ellipse cx="650.6" cy="618" rx="9.2" ry="7" fill="url(#gBlue)"/><circle cx="660.6" cy="582" r="2.7" fill="url(#gYel)"/><circle cx="660.6" cy="602" r="2.7" fill="url(#gYel)"/><circle cx="660.6" cy="622" r="2.7" fill="url(#gYel)"/>
<path d="M480,452 L472,500 L486,530 L470,560 L484,590 L475,625 M486,530 L505,545 M470,560 L452,588 M484,590 L502,612 M472,500 L455,492" fill="none" stroke="#f4e648" stroke-width="1.1" opacity="0.95"/>
<line x1="322.7" y1="516" x2="322.7" y2="565" stroke="url(#dashRB)" stroke-width="1.5" stroke-dasharray="3.5,2.2"/>
<path d="M322.7,570 L320.4,565 L325,565 Z" fill="#2020e8"/>
<line x1="352.6" y1="516" x2="352.6" y2="565" stroke="url(#dashRB)" stroke-width="1.5" stroke-dasharray="3.5,2.2"/>
<path d="M352.6,570 L350.3,565 L354.9,565 Z" fill="#2020e8"/>
<line x1="385.8" y1="516" x2="385.8" y2="565" stroke="url(#dashRB)" stroke-width="1.5" stroke-dasharray="3.5,2.2"/>
<path d="M385.8,570 L383.5,565 L388.1,565 Z" fill="#2020e8"/>
<line x1="575.2" y1="516" x2="575.2" y2="565" stroke="url(#dashRB)" stroke-width="1.5" stroke-dasharray="3.5,2.2"/>
<path d="M575.2,570 L572.9,565 L577.5,565 Z" fill="#2020e8"/>
<line x1="605.2" y1="516" x2="605.2" y2="565" stroke="url(#dashRB)" stroke-width="1.5" stroke-dasharray="3.5,2.2"/>
<path d="M605.2,570 L602.9,565 L607.5,565 Z" fill="#2020e8"/>
<line x1="636.7" y1="516" x2="636.7" y2="565" stroke="url(#dashRB)" stroke-width="1.5" stroke-dasharray="3.5,2.2"/>
<path d="M636.7,570 L634.4,565 L639,565 Z" fill="#2020e8"/>
<path d="M291.5,520.5 L294.85,501.43 L298.21,493.62 L301.6,487.69 L304.99,482.74 L308.41,478.43 L311.84,474.58 L315.28,471.09 L318.75,467.87 L322.24,464.88 L325.74,462.1 L329.27,459.48 L332.81,457.02 L336.38,454.69 L339.97,452.48 L343.58,450.38 L347.22,448.38 L350.88,446.47 L354.57,444.65 L358.28,442.92 L362.03,441.26 L365.8,439.67 L369.61,438.15 L373.45,436.69 L377.32,435.3 L381.23,433.97 L385.18,432.7 L389.18,431.48 L393.21,430.32 L397.3,429.22 L401.43,428.16 L405.63,427.16 L409.88,426.22 L414.2,425.32 L418.59,424.48 L423.06,423.68 L427.62,422.94 L432.29,422.25 L437.07,421.62 L441.99,421.04 L447.08,420.52 L452.38,420.06 L457.96,419.67 L463.93,419.35 L470.55,419.11 L479.5,419 L488.45,419.11 L495.07,419.35 L501.04,419.67 L506.62,420.06 L511.92,420.52 L517.01,421.04 L521.93,421.62 L526.71,422.25 L531.38,422.94 L535.94,423.68 L540.41,424.48 L544.8,425.32 L549.12,426.22 L553.37,427.16 L557.57,428.16 L561.7,429.22 L565.79,430.32 L569.82,431.48 L573.82,432.7 L577.77,433.97 L581.68,435.3 L585.55,436.69 L589.39,438.15 L593.2,439.67 L596.97,441.26 L600.72,442.92 L604.43,444.65 L608.12,446.47 L611.78,448.38 L615.42,450.38 L619.03,452.48 L622.62,454.69 L626.19,457.02 L629.73,459.48 L633.26,462.1 L636.76,464.88 L640.25,467.87 L643.72,471.09 L647.16,474.58 L650.59,478.43 L654.01,482.74 L657.4,487.69 L660.79,493.62 L664.15,501.43 L667.5,520.5 L667.5,520.5 L664.15,558.51 L660.79,568.14 L657.4,574.74 L654.01,579.88 L650.59,584.12 L647.16,587.74 L643.72,590.89 L640.25,593.69 L636.76,596.19 L633.26,598.45 L629.73,600.5 L626.19,602.38 L622.62,604.1 L619.03,605.69 L615.42,607.15 L611.78,608.5 L608.12,609.75 L604.43,610.9 L600.72,611.97 L596.97,612.97 L593.2,613.88 L589.39,614.73 L585.55,615.52 L581.68,616.25 L577.77,616.92 L573.82,617.53 L569.82,618.1 L565.79,618.62 L561.7,619.09 L557.57,619.52 L553.37,619.9 L549.12,620.25 L544.8,620.56 L540.41,620.84 L535.94,621.08 L531.38,621.28 L526.71,621.46 L521.93,621.61 L517.01,621.73 L511.92,621.83 L506.62,621.9 L501.04,621.95 L495.07,621.98 L488.45,622 L479.5,622 L470.55,622 L463.93,621.98 L457.96,621.95 L452.38,621.9 L447.08,621.83 L441.99,621.73 L437.07,621.61 L432.29,621.46 L427.62,621.28 L423.06,621.08 L418.59,620.84 L414.2,620.56 L409.88,620.25 L405.63,619.9 L401.43,619.52 L397.3,619.09 L393.21,618.62 L389.18,618.1 L385.18,617.53 L381.23,616.92 L377.32,616.25 L373.45,615.52 L369.61,614.73 L365.8,613.88 L362.03,612.97 L358.28,611.97 L354.57,610.9 L350.88,609.75 L347.22,608.5 L343.58,607.15 L339.97,605.69 L336.38,604.1 L332.81,602.38 L329.27,600.5 L325.74,598.45 L322.24,596.19 L318.75,593.69 L315.28,590.89 L311.84,587.74 L308.41,584.12 L304.99,579.88 L301.6,574.74 L298.21,568.14 L294.85,558.51 L291.5,520.5Z" fill="url(#edgefade)"/>
<path d="M291.5,520.5 L294.85,501.43 L298.21,493.62 L301.6,487.69 L304.99,482.74 L308.41,478.43 L311.84,474.58 L315.28,471.09 L318.75,467.87 L322.24,464.88 L325.74,462.1 L329.27,459.48 L332.81,457.02 L336.38,454.69 L339.97,452.48 L343.58,450.38 L347.22,448.38 L350.88,446.47 L354.57,444.65 L358.28,442.92 L362.03,441.26 L365.8,439.67 L369.61,438.15 L373.45,436.69 L377.32,435.3 L381.23,433.97 L385.18,432.7 L389.18,431.48 L393.21,430.32 L397.3,429.22 L401.43,428.16 L405.63,427.16 L409.88,426.22 L414.2,425.32 L418.59,424.48 L423.06,423.68 L427.62,422.94 L432.29,422.25 L437.07,421.62 L441.99,421.04 L447.08,420.52 L452.38,420.06 L457.96,419.67 L463.93,419.35 L470.55,419.11 L479.5,419 L488.45,419.11 L495.07,419.35 L501.04,419.67 L506.62,420.06 L511.92,420.52 L517.01,421.04 L521.93,421.62 L526.71,422.25 L531.38,422.94 L535.94,423.68 L540.41,424.48 L544.8,425.32 L549.12,426.22 L553.37,427.16 L557.57,428.16 L561.7,429.22 L565.79,430.32 L569.82,431.48 L573.82,432.7 L577.77,433.97 L581.68,435.3 L585.55,436.69 L589.39,438.15 L593.2,439.67 L596.97,441.26 L600.72,442.92 L604.43,444.65 L608.12,446.47 L611.78,448.38 L615.42,450.38 L619.03,452.48 L622.62,454.69 L626.19,457.02 L629.73,459.48 L633.26,462.1 L636.76,464.88 L640.25,467.87 L643.72,471.09 L647.16,474.58 L650.59,478.43 L654.01,482.74 L657.4,487.69 L660.79,493.62 L664.15,501.43 L667.5,520.5 L667.5,520.5 L664.15,558.51 L660.79,568.14 L657.4,574.74 L654.01,579.88 L650.59,584.12 L647.16,587.74 L643.72,590.89 L640.25,593.69 L636.76,596.19 L633.26,598.45 L629.73,600.5 L626.19,602.38 L622.62,604.1 L619.03,605.69 L615.42,607.15 L611.78,608.5 L608.12,609.75 L604.43,610.9 L600.72,611.97 L596.97,612.97 L593.2,613.88 L589.39,614.73 L585.55,615.52 L581.68,616.25 L577.77,616.92 L573.82,617.53 L569.82,618.1 L565.79,618.62 L561.7,619.09 L557.57,619.52 L553.37,619.9 L549.12,620.25 L544.8,620.56 L540.41,620.84 L535.94,621.08 L531.38,621.28 L526.71,621.46 L521.93,621.61 L517.01,621.73 L511.92,621.83 L506.62,621.9 L501.04,621.95 L495.07,621.98 L488.45,622 L479.5,622 L470.55,622 L463.93,621.98 L457.96,621.95 L452.38,621.9 L447.08,621.83 L441.99,621.73 L437.07,621.61 L432.29,621.46 L427.62,621.28 L423.06,621.08 L418.59,620.84 L414.2,620.56 L409.88,620.25 L405.63,619.9 L401.43,619.52 L397.3,619.09 L393.21,618.62 L389.18,618.1 L385.18,617.53 L381.23,616.92 L377.32,616.25 L373.45,615.52 L369.61,614.73 L365.8,613.88 L362.03,612.97 L358.28,611.97 L354.57,610.9 L350.88,609.75 L347.22,608.5 L343.58,607.15 L339.97,605.69 L336.38,604.1 L332.81,602.38 L329.27,600.5 L325.74,598.45 L322.24,596.19 L318.75,593.69 L315.28,590.89 L311.84,587.74 L308.41,584.12 L304.99,579.88 L301.6,574.74 L298.21,568.14 L294.85,558.51 L291.5,520.5Z" fill="none" stroke="#f8f6fa" stroke-width="9" opacity="0.8" filter="url(#blur2)"/>
</g>
<circle cx="383.5" cy="444" r="5.8" fill="url(#gE)"/>
<text x="383.2" y="446.7" font-size="8.99" text-anchor="middle" fill="#fff" font-family="Liberation Serif" font-weight="bold">e<tspan dy="-3.78" font-size="4.94">-</tspan></text>
<circle cx="413" cy="444" r="5.8" fill="url(#gE)"/>
<text x="412.7" y="446.7" font-size="8.99" text-anchor="middle" fill="#fff" font-family="Liberation Serif" font-weight="bold">e<tspan dy="-3.78" font-size="4.94">-</tspan></text>
<circle cx="444.4" cy="444" r="5.8" fill="url(#gE)"/>
<text x="444.1" y="446.7" font-size="8.99" text-anchor="middle" fill="#fff" font-family="Liberation Serif" font-weight="bold">e<tspan dy="-3.78" font-size="4.94">-</tspan></text>
<circle cx="477.1" cy="444" r="5.8" fill="url(#gE)"/>
<text x="476.8" y="446.7" font-size="8.99" text-anchor="middle" fill="#fff" font-family="Liberation Serif" font-weight="bold">e<tspan dy="-3.78" font-size="4.94">-</tspan></text>
<circle cx="508.9" cy="444" r="5.8" fill="url(#gE)"/>
<text x="508.6" y="446.7" font-size="8.99" text-anchor="middle" fill="#fff" font-family="Liberation Serif" font-weight="bold">e<tspan dy="-3.78" font-size="4.94">-</tspan></text>
<circle cx="540.2" cy="444" r="5.8" fill="url(#gE)"/>
<text x="539.9" y="446.7" font-size="8.99" text-anchor="middle" fill="#fff" font-family="Liberation Serif" font-weight="bold">e<tspan dy="-3.78" font-size="4.94">-</tspan></text>
<circle cx="573.5" cy="444" r="5.8" fill="url(#gE)"/>
<text x="573.2" y="446.7" font-size="8.99" text-anchor="middle" fill="#fff" font-family="Liberation Serif" font-weight="bold">e<tspan dy="-3.78" font-size="4.94">-</tspan></text>
<circle cx="321.5" cy="507.5" r="5.8" fill="url(#gE)"/>
<text x="321.2" y="510.2" font-size="8.99" text-anchor="middle" fill="#fff" font-family="Liberation Serif" font-weight="bold">e<tspan dy="-3.78" font-size="4.94">-</tspan></text>
<circle cx="353.5" cy="507.5" r="5.8" fill="url(#gE)"/>
<text x="353.2" y="510.2" font-size="8.99" text-anchor="middle" fill="#fff" font-family="Liberation Serif" font-weight="bold">e<tspan dy="-3.78" font-size="4.94">-</tspan></text>
<circle cx="385.8" cy="507.5" r="5.8" fill="url(#gE)"/>
<text x="385.5" y="510.2" font-size="8.99" text-anchor="middle" fill="#fff" font-family="Liberation Serif" font-weight="bold">e<tspan dy="-3.78" font-size="4.94">-</tspan></text>
<circle cx="416.1" cy="507.5" r="5.8" fill="url(#gE)"/>
<text x="415.8" y="510.2" font-size="8.99" text-anchor="middle" fill="#fff" font-family="Liberation Serif" font-weight="bold">e<tspan dy="-3.78" font-size="4.94">-</tspan></text>
<circle cx="447.5" cy="507.5" r="5.8" fill="url(#gE)"/>
<text x="447.2" y="510.2" font-size="8.99" text-anchor="middle" fill="#fff" font-family="Liberation Serif" font-weight="bold">e<tspan dy="-3.78" font-size="4.94">-</tspan></text>
<circle cx="479.5" cy="507.5" r="5.8" fill="url(#gE)"/>
<text x="479.2" y="510.2" font-size="8.99" text-anchor="middle" fill="#fff" font-family="Liberation Serif" font-weight="bold">e<tspan dy="-3.78" font-size="4.94">-</tspan></text>
<circle cx="512.2" cy="507.5" r="5.8" fill="url(#gE)"/>
<text x="511.9" y="510.2" font-size="8.99" text-anchor="middle" fill="#fff" font-family="Liberation Serif" font-weight="bold">e<tspan dy="-3.78" font-size="4.94">-</tspan></text>
<circle cx="543.2" cy="507.5" r="5.8" fill="url(#gE)"/>
<text x="542.9" y="510.2" font-size="8.99" text-anchor="middle" fill="#fff" font-family="Liberation Serif" font-weight="bold">e<tspan dy="-3.78" font-size="4.94">-</tspan></text>
<circle cx="577" cy="507.5" r="5.8" fill="url(#gE)"/>
<text x="576.7" y="510.2" font-size="8.99" text-anchor="middle" fill="#fff" font-family="Liberation Serif" font-weight="bold">e<tspan dy="-3.78" font-size="4.94">-</tspan></text>
<circle cx="605.3" cy="507.5" r="5.8" fill="url(#gE)"/>
<text x="605" y="510.2" font-size="8.99" text-anchor="middle" fill="#fff" font-family="Liberation Serif" font-weight="bold">e<tspan dy="-3.78" font-size="4.94">-</tspan></text>
<circle cx="637.7" cy="507.5" r="5.8" fill="url(#gE)"/>
<text x="637.4" y="510.2" font-size="8.99" text-anchor="middle" fill="#fff" font-family="Liberation Serif" font-weight="bold">e<tspan dy="-3.78" font-size="4.94">-</tspan></text>
<circle cx="322.6" cy="479" r="5.8" fill="url(#gE)"/>
<text x="322.3" y="481.7" font-size="8.99" text-anchor="middle" fill="#fff" font-family="Liberation Serif" font-weight="bold">e<tspan dy="-3.78" font-size="4.94">-</tspan></text>
<circle cx="635" cy="474.8" r="5.8" fill="url(#gE)"/>
<text x="634.7" y="477.5" font-size="8.99" text-anchor="middle" fill="#fff" font-family="Liberation Serif" font-weight="bold">e<tspan dy="-3.78" font-size="4.94">-</tspan></text>
<circle cx="322.7" cy="576.9" r="5.8" fill="url(#gH)"/>
<text x="322.4" y="579.6" font-size="8.99" text-anchor="middle" fill="#fff" font-family="Liberation Serif" font-weight="bold">h<tspan dy="-3.78" font-size="4.94">+</tspan></text>
<circle cx="354.2" cy="575.8" r="5.8" fill="url(#gH)"/>
<text x="353.9" y="578.5" font-size="8.99" text-anchor="middle" fill="#fff" font-family="Liberation Serif" font-weight="bold">h<tspan dy="-3.78" font-size="4.94">+</tspan></text>
<circle cx="386.9" cy="575.8" r="5.8" fill="url(#gH)"/>
<text x="386.6" y="578.5" font-size="8.99" text-anchor="middle" fill="#fff" font-family="Liberation Serif" font-weight="bold">h<tspan dy="-3.78" font-size="4.94">+</tspan></text>
<circle cx="418" cy="576.2" r="5.8" fill="url(#gH)"/>
<text x="417.7" y="578.9" font-size="8.99" text-anchor="middle" fill="#fff" font-family="Liberation Serif" font-weight="bold">h<tspan dy="-3.78" font-size="4.94">+</tspan></text>
<circle cx="452.5" cy="575.8" r="5.8" fill="url(#gH)"/>
<text x="452.2" y="578.5" font-size="8.99" text-anchor="middle" fill="#fff" font-family="Liberation Serif" font-weight="bold">h<tspan dy="-3.78" font-size="4.94">+</tspan></text>
<circle cx="477.6" cy="573.3" r="5.8" fill="url(#gH)"/>
<text x="477.3" y="576" font-size="8.99" text-anchor="middle" fill="#fff" font-family="Liberation Serif" font-weight="bold">h<tspan dy="-3.78" font-size="4.94">+</tspan></text>
<circle cx="513.3" cy="575.1" r="5.8" fill="url(#gH)"/>
<text x="513" y="577.8" font-size="8.99" text-anchor="middle" fill="#fff" font-family="Liberation Serif" font-weight="bold">h<tspan dy="-3.78" font-size="4.94">+</tspan></text>
<circle cx="543.7" cy="574.4" r="5.8" fill="url(#gH)"/>
<text x="543.4" y="577.1" font-size="8.99" text-anchor="middle" fill="#fff" font-family="Liberation Serif" font-weight="bold">h<tspan dy="-3.78" font-size="4.94">+</tspan></text>
<circle cx="575.9" cy="571.5" r="5.8" fill="url(#gH)"/>
<text x="575.6" y="574.2" font-size="8.99" text-anchor="middle" fill="#fff" font-family="Liberation Serif" font-weight="bold">h<tspan dy="-3.78" font-size="4.94">+</tspan></text>
<circle cx="608.1" cy="569.7" r="5.8" fill="url(#gH)"/>
<text x="607.8" y="572.4" font-size="8.99" text-anchor="middle" fill="#fff" font-family="Liberation Serif" font-weight="bold">h<tspan dy="-3.78" font-size="4.94">+</tspan></text>
<circle cx="638.5" cy="570.8" r="5.8" fill="url(#gH)"/>
<text x="638.2" y="573.5" font-size="8.99" text-anchor="middle" fill="#fff" font-family="Liberation Serif" font-weight="bold">h<tspan dy="-3.78" font-size="4.94">+</tspan></text>
<path d="M445,447 C440,435 430,430 421,426" fill="none" stroke="#f07070" stroke-width="5" opacity="0.55"/>
<path d="M421,421 L418,429 L426,428 Z" fill="#f07070" opacity="0.6"/>
<path d="M466,448 C478,440 486,432 490,424" fill="none" stroke="#6070e0" stroke-width="5" opacity="0.5"/>
<text transform="translate(418.7,422) scale(0.97,1)" font-size="10.81" text-anchor="middle" fill="#ee3030" stroke="#ee3030" stroke-width="0.3" font-family="Liberation Serif" font-weight="bold" ><tspan>H</tspan><tspan dy="2.81" font-size="7.14">2</tspan></text>
<text transform="translate(491.7,420.5) scale(0.97,1)" font-size="10.81" text-anchor="middle" fill="#1818d0" stroke="#1818d0" stroke-width="0.3" font-family="Liberation Serif" font-weight="bold" ><tspan>H</tspan><tspan dy="-4.11" font-size="7.14">+</tspan></text>
<circle cx="359.1" cy="477.5" r="6.3" fill="#fff" stroke="#ee1414" stroke-width="1.3"/>
<text transform="translate(359.1,481.1) scale(0.97,1)" font-size="10.3" text-anchor="middle" fill="#ee1414" stroke="#ee1414" stroke-width="0.3" font-family="Liberation Serif" font-weight="bold" >1</text>
<circle cx="590.5" cy="474.8" r="6.3" fill="#fff" stroke="#ee1414" stroke-width="1.3"/>
<text transform="translate(590.5,478.4) scale(0.97,1)" font-size="10.3" text-anchor="middle" fill="#ee1414" stroke="#ee1414" stroke-width="0.3" font-family="Liberation Serif" font-weight="bold" >1</text>
<circle cx="460" cy="441.8" r="6.3" fill="#fff" stroke="#1818c8" stroke-width="1.3"/>
<text transform="translate(460,445.4) scale(0.97,1)" font-size="10.3" text-anchor="middle" fill="#1818c8" stroke="#1818c8" stroke-width="0.3" font-family="Liberation Serif" font-weight="bold" >2</text>
<text transform="translate(419,484.6) scale(0.97,1)" font-size="12.46" text-anchor="start" fill="#111" stroke="#111" stroke-width="0.3" font-family="Liberation Serif" font-weight="bold" >Interfacial dipole field</text>
<text transform="translate(420.7,563.9) scale(0.97,1)" font-size="12.46" text-anchor="start" fill="#111" stroke="#111" stroke-width="0.3" font-family="Liberation Serif" font-weight="bold" >Polarization electric field</text>
<text transform="translate(312,447.6) scale(0.97,1)" font-size="11.12" text-anchor="start" fill="#111" stroke="#111" stroke-width="0.3" font-family="Liberation Serif" font-weight="bold" ><tspan>MoS</tspan><tspan dy="2.89" font-size="7.34">2</tspan></text>
<text transform="translate(303.1,601.2) scale(0.97,1)" font-size="11.12" text-anchor="start" fill="#111" stroke="#111" stroke-width="0.3" font-family="Liberation Serif" font-weight="bold" >[Zn-S]</text>
<defs>
<radialGradient id="gRA" cx="0.38" cy="0.32" r="0.72"><stop offset="0" stop-color="#ff9090"/><stop offset="0.5" stop-color="#e81010"/><stop offset="1" stop-color="#900000"/></radialGradient>
<radialGradient id="gYA" cx="0.38" cy="0.32" r="0.72"><stop offset="0" stop-color="#ffffa0"/><stop offset="0.55" stop-color="#eeee20"/><stop offset="1" stop-color="#a8a800"/></radialGradient>
<radialGradient id="gBA" cx="0.38" cy="0.32" r="0.72"><stop offset="0" stop-color="#8080ff"/><stop offset="0.55" stop-color="#1010d8"/><stop offset="1" stop-color="#000080"/></radialGradient>
<radialGradient id="gMoL" cx="0.4" cy="0.35" r="0.7"><stop offset="0" stop-color="#ffffff"/><stop offset="0.5" stop-color="#b4b4b4"/><stop offset="1" stop-color="#5a5a5a"/></radialGradient>
<linearGradient id="barr" x1="0" y1="0" x2="1" y2="0"><stop offset="0" stop-color="#a8c4ee" stop-opacity="0.2"/><stop offset="0.6" stop-color="#5c8ee0"/><stop offset="1" stop-color="#2a62d8"/></linearGradient>
<linearGradient id="dip" x1="0" y1="0" x2="1" y2="0"><stop offset="0" stop-color="#4a4af0"/><stop offset="0.35" stop-color="#5a5af0"/><stop offset="0.6" stop-color="#e84a6a"/><stop offset="1" stop-color="#f04848"/></linearGradient>
</defs>
<line x1="54.9" y1="574.3" x2="66.1" y2="571.9" stroke="#d41010" stroke-width="1.8"/><line x1="66.1" y1="571.9" x2="74.7" y2="581.8" stroke="#d41010" stroke-width="1.8"/><line x1="74.7" y1="581.8" x2="71.2" y2="593" stroke="#d41010" stroke-width="1.8"/><line x1="71.2" y1="593" x2="60.3" y2="593.9" stroke="#d41010" stroke-width="1.8"/><line x1="60.3" y1="593.9" x2="51.4" y2="584.8" stroke="#d41010" stroke-width="1.8"/><line x1="51.4" y1="584.8" x2="54.9" y2="574.3" stroke="#d41010" stroke-width="1.8"/><path d="M57.52,577.17 L65.14,575.54 L70.99,582.27 L68.61,589.89 L61.2,590.5 L55.14,584.31Z" fill="none" stroke="#d41010" stroke-width="0.9" stroke-dasharray="1.6,1.2"/><line x1="74.7" y1="581.8" x2="86.9" y2="580.1" stroke="#d41010" stroke-width="1.4400000000000002"/><line x1="86.9" y1="580.1" x2="88.3" y2="568.2" stroke="#5050d0" stroke-width="1.4400000000000002"/><line x1="88.3" y1="568.2" x2="94.6" y2="567.7" stroke="#d8c020" stroke-width="1.4400000000000002"/><line x1="86.9" y1="580.1" x2="94.1" y2="581.3" stroke="#d8c020" stroke-width="1.4400000000000002"/><line x1="86.9" y1="580.1" x2="88.8" y2="586.9" stroke="#d8c020" stroke-width="1.4400000000000002"/><line x1="54.9" y1="574.3" x2="48.4" y2="566.6" stroke="#d8c020" stroke-width="1.4400000000000002"/><line x1="66.1" y1="571.9" x2="68.4" y2="563.5" stroke="#d8c020" stroke-width="1.4400000000000002"/><line x1="51.4" y1="584.8" x2="43.2" y2="586" stroke="#d8c020" stroke-width="1.4400000000000002"/><line x1="60.3" y1="593.9" x2="57.9" y2="602.3" stroke="#d8c020" stroke-width="1.4400000000000002"/><line x1="71.2" y1="593" x2="78.3" y2="600" stroke="#d8c020" stroke-width="1.4400000000000002"/>
<circle cx="48.4" cy="566.6" r="2.4" fill="url(#gYA)"/>
<circle cx="68.4" cy="563.5" r="2.4" fill="url(#gYA)"/>
<circle cx="43.2" cy="586" r="2.4" fill="url(#gYA)"/>
<circle cx="57.9" cy="602.3" r="2.4" fill="url(#gYA)"/>
<circle cx="78.3" cy="600" r="2.4" fill="url(#gYA)"/>
<circle cx="94.6" cy="567.7" r="2.4" fill="url(#gYA)"/>
<circle cx="94.1" cy="581.3" r="2.4" fill="url(#gYA)"/>
<circle cx="88.8" cy="586.9" r="2.4" fill="url(#gYA)"/>
<circle cx="54.9" cy="574.3" r="2.9" fill="url(#gRA)"/>
<circle cx="66.1" cy="571.9" r="2.9" fill="url(#gRA)"/>
<circle cx="74.7" cy="581.8" r="2.9" fill="url(#gRA)"/>
<circle cx="71.2" cy="593" r="2.9" fill="url(#gRA)"/>
<circle cx="60.3" cy="593.9" r="2.9" fill="url(#gRA)"/>
<circle cx="51.4" cy="584.8" r="2.9" fill="url(#gRA)"/>
<circle cx="86.9" cy="580.1" r="2.9" fill="url(#gRA)"/>
<circle cx="88.3" cy="568.2" r="2.9" fill="url(#gBA)"/>
<line x1="84.7" y1="668.5" x2="97" y2="666.5" stroke="#d41010" stroke-width="1.8"/><line x1="97" y1="666.5" x2="105.5" y2="676.5" stroke="#d41010" stroke-width="1.8"/><line x1="105.5" y1="676.5" x2="101.5" y2="689" stroke="#d41010" stroke-width="1.8"/><line x1="101.5" y1="689" x2="89" y2="691" stroke="#d41010" stroke-width="1.8"/><line x1="89" y1="691" x2="80.5" y2="681" stroke="#d41010" stroke-width="1.8"/><line x1="80.5" y1="681" x2="84.7" y2="668.5" stroke="#d41010" stroke-width="1.8"/><path d="M87.37,671.78 L95.73,670.42 L101.51,677.22 L98.79,685.72 L90.29,687.08 L84.51,680.28Z" fill="none" stroke="#d41010" stroke-width="0.9" stroke-dasharray="1.6,1.2"/><line x1="105.5" y1="676.5" x2="118.8" y2="674.5" stroke="#d41010" stroke-width="1.4400000000000002"/><line x1="118.8" y1="674.5" x2="126.2" y2="682.8" stroke="#3050d0" stroke-width="1.4400000000000002"/>
<circle cx="84.7" cy="668.5" r="3.2" fill="url(#gRA)"/>
<circle cx="97" cy="666.5" r="3.2" fill="url(#gRA)"/>
<circle cx="105.5" cy="676.5" r="3.2" fill="url(#gRA)"/>
<circle cx="101.5" cy="689" r="3.2" fill="url(#gRA)"/>
<circle cx="89" cy="691" r="3.2" fill="url(#gRA)"/>
<circle cx="80.5" cy="681" r="3.2" fill="url(#gRA)"/>
<circle cx="118.8" cy="674.5" r="3.2" fill="url(#gRA)"/>
<circle cx="126.2" cy="682.8" r="2.9" fill="url(#gBA)"/>
<path d="M88.3,600 C105,610 116,625 121,641" fill="none" stroke="#1818e0" stroke-width="1.5"/>
<path d="M109,635 C118,648 121,660 119.5,671" fill="none" stroke="#ee1414" stroke-width="1.4"/>
<path d="M119,676 L116.5,669.5 L122.3,670 Z" fill="#ee1414"/>
<rect x="40.1" y="609.6" width="56.2" height="16.1" rx="3" fill="#fff" stroke="#2a2ae0" stroke-width="1.2"/>
<text transform="translate(68.2,620.9) scale(0.97,1)" font-size="7.83" text-anchor="middle" fill="#1818d0" stroke="#1818d0" stroke-width="0.3" font-family="Liberation Serif" font-weight="bold" >Benzyl alcohol</text>
<rect x="122" y="688.3" width="57.2" height="14.5" rx="2.5" fill="#fff" stroke="#e01818" stroke-width="1"/>
<text transform="translate(150.6,699.2)" font-size="9.6" text-anchor="middle" fill="#e01818" font-family="Liberation Serif" >Benzaldehyde</text>
<line x1="223.4" y1="651.2" x2="241.2" y2="649.3" stroke="#d41010" stroke-width="2.8"/><line x1="241.2" y1="649.3" x2="254.5" y2="664.5" stroke="#d41010" stroke-width="2.8"/><line x1="254.5" y1="664.5" x2="250" y2="681.6" stroke="#d41010" stroke-width="2.8"/><line x1="250" y1="681.6" x2="231.7" y2="684.3" stroke="#d41010" stroke-width="2.8"/><line x1="231.7" y1="684.3" x2="218.5" y2="669.1" stroke="#d41010" stroke-width="2.8"/><line x1="218.5" y1="669.1" x2="223.4" y2="651.2" stroke="#d41010" stroke-width="2.8"/><path d="M227.61,656.15 L239.71,654.86 L248.76,665.19 L245.7,676.82 L233.25,678.66 L224.28,668.32Z" fill="none" stroke="#d41010" stroke-width="0.9" stroke-dasharray="1.6,1.2"/><line x1="254.5" y1="664.5" x2="275.4" y2="661.5" stroke="#d41010" stroke-width="2.2399999999999998"/><line x1="275.4" y1="661.5" x2="276.5" y2="643.6" stroke="#5050d0" stroke-width="2.2399999999999998"/><line x1="276.5" y1="643.6" x2="289.4" y2="641.7" stroke="#d8c020" stroke-width="2.2399999999999998"/><line x1="275.4" y1="661.5" x2="285.6" y2="662.6" stroke="#d8c020" stroke-width="2.2399999999999998"/><line x1="275.4" y1="661.5" x2="277.3" y2="671.3" stroke="#d8c020" stroke-width="2.2399999999999998"/><line x1="223.4" y1="651.2" x2="212.8" y2="639.8" stroke="#d8c020" stroke-width="2.2399999999999998"/><line x1="241.2" y1="649.3" x2="246.2" y2="636" stroke="#d8c020" stroke-width="2.2399999999999998"/><line x1="218.5" y1="669.1" x2="204.4" y2="671.3" stroke="#d8c020" stroke-width="2.2399999999999998"/><line x1="231.7" y1="684.3" x2="228" y2="697.9" stroke="#d8c020" stroke-width="2.2399999999999998"/><line x1="250" y1="681.6" x2="260.2" y2="691.8" stroke="#d8c020" stroke-width="2.2399999999999998"/>
<circle cx="212.8" cy="639.8" r="3.5" fill="url(#gYA)"/>
<circle cx="246.2" cy="636" r="3.5" fill="url(#gYA)"/>
<circle cx="204.4" cy="671.3" r="3.5" fill="url(#gYA)"/>
<circle cx="228" cy="697.9" r="3.5" fill="url(#gYA)"/>
<circle cx="260.2" cy="691.8" r="3.5" fill="url(#gYA)"/>
<circle cx="289.4" cy="641.7" r="3.5" fill="url(#gYA)"/>
<circle cx="285.6" cy="662.6" r="3.5" fill="url(#gYA)"/>
<circle cx="277.3" cy="671.3" r="3.5" fill="url(#gYA)"/>
<circle cx="223.4" cy="651.2" r="4.5" fill="url(#gRA)"/>
<circle cx="241.2" cy="649.3" r="4.5" fill="url(#gRA)"/>
<circle cx="254.5" cy="664.5" r="4.5" fill="url(#gRA)"/>
<circle cx="250" cy="681.6" r="4.5" fill="url(#gRA)"/>
<circle cx="231.7" cy="684.3" r="4.5" fill="url(#gRA)"/>
<circle cx="218.5" cy="669.1" r="4.5" fill="url(#gRA)"/>
<circle cx="275.4" cy="661.5" r="4.5" fill="url(#gRA)"/>
<circle cx="276.5" cy="643.6" r="4.3" fill="url(#gBA)"/>
<line x1="259" y1="626" x2="270.32" y2="637.32" stroke="#111" stroke-width="1.0"/>
<path d="M273.5,640.5 L268.76,638.87 L271.87,635.76 Z" fill="#111"/>
<text transform="translate(255.3,627.5) scale(0.97,1)" font-size="10.81" text-anchor="middle" fill="#111" stroke="#111" stroke-width="0.3" font-family="Liberation Serif" font-weight="bold" >O</text>
<line x1="211" y1="688" x2="222.67" y2="684.72" stroke="#111" stroke-width="1.0"/>
<path d="M227,683.5 L223.26,686.84 L222.07,682.6 Z" fill="#111"/>
<text transform="translate(203.3,694) scale(0.97,1)" font-size="13.39" text-anchor="middle" fill="#111" stroke="#111" stroke-width="0.3" font-family="Liberation Serif" font-weight="bold" >c</text>
<line x1="292.6" y1="689" x2="283.44" y2="678.4" stroke="#111" stroke-width="1.0"/>
<path d="M280.5,675 L285.11,676.97 L281.78,679.84 Z" fill="#111"/>
<text transform="translate(295.5,698) scale(0.97,1)" font-size="10.81" text-anchor="middle" fill="#111" stroke="#111" stroke-width="0.3" font-family="Liberation Serif" font-weight="bold" >H</text>
<circle cx="313.3" cy="648.6" r="6" fill="url(#gH)"/>
<text x="313" y="651.39" font-size="9.3" text-anchor="middle" fill="#fff" font-family="Liberation Serif" font-weight="bold">h<tspan dy="-3.91" font-size="5.12">+</tspan></text>
<line x1="497.2" y1="645.8" x2="515.1" y2="644" stroke="#d41010" stroke-width="2.8"/><line x1="515.1" y1="644" x2="529.4" y2="659.4" stroke="#d41010" stroke-width="2.8"/><line x1="529.4" y1="659.4" x2="524" y2="677.2" stroke="#d41010" stroke-width="2.8"/><line x1="524" y1="677.2" x2="506.2" y2="679.7" stroke="#d41010" stroke-width="2.8"/><line x1="506.2" y1="679.7" x2="492.9" y2="664.4" stroke="#d41010" stroke-width="2.8"/><line x1="492.9" y1="664.4" x2="497.2" y2="645.8" stroke="#d41010" stroke-width="2.8"/><path d="M501.55,650.9 L513.72,649.68 L523.45,660.15 L519.78,672.26 L507.67,673.96 L498.63,663.55Z" fill="none" stroke="#d41010" stroke-width="0.9" stroke-dasharray="1.6,1.2"/><line x1="529.4" y1="659.4" x2="549.1" y2="655.8" stroke="#d41010" stroke-width="2.2399999999999998"/><line x1="549.1" y1="655.8" x2="550.2" y2="637.9" stroke="#5050d0" stroke-width="2.2399999999999998"/><line x1="549.1" y1="655.8" x2="560.9" y2="657.2" stroke="#d8c020" stroke-width="2.2399999999999998"/><line x1="497.2" y1="645.8" x2="486.5" y2="635.8" stroke="#d8c020" stroke-width="2.2399999999999998"/><line x1="515.1" y1="644" x2="519.4" y2="630.7" stroke="#d8c020" stroke-width="2.2399999999999998"/><line x1="492.9" y1="664.4" x2="477.6" y2="666.5" stroke="#d8c020" stroke-width="2.2399999999999998"/><line x1="506.2" y1="679.7" x2="502.6" y2="693" stroke="#d8c020" stroke-width="2.2399999999999998"/><line x1="524" y1="677.2" x2="534.8" y2="688" stroke="#d8c020" stroke-width="2.2399999999999998"/>
<circle cx="486.5" cy="635.8" r="3.5" fill="url(#gYA)"/>
<circle cx="519.4" cy="630.7" r="3.5" fill="url(#gYA)"/>
<circle cx="477.6" cy="666.5" r="3.5" fill="url(#gYA)"/>
<circle cx="502.6" cy="693" r="3.5" fill="url(#gYA)"/>
<circle cx="534.8" cy="688" r="3.5" fill="url(#gYA)"/>
<circle cx="560.9" cy="657.2" r="3.5" fill="url(#gYA)"/>
<circle cx="497.2" cy="645.8" r="4.5" fill="url(#gRA)"/>
<circle cx="515.1" cy="644" r="4.5" fill="url(#gRA)"/>
<circle cx="529.4" cy="659.4" r="4.5" fill="url(#gRA)"/>
<circle cx="524" cy="677.2" r="4.5" fill="url(#gRA)"/>
<circle cx="506.2" cy="679.7" r="4.5" fill="url(#gRA)"/>
<circle cx="492.9" cy="664.4" r="4.5" fill="url(#gRA)"/>
<circle cx="549.1" cy="655.8" r="4.5" fill="url(#gRA)"/>
<circle cx="550.2" cy="637.9" r="4.3" fill="url(#gBA)"/>
<line x1="366.7" y1="652.4" x2="384.5" y2="650" stroke="#d41010" stroke-width="2.8"/><line x1="384.5" y1="650" x2="397.4" y2="664.6" stroke="#d41010" stroke-width="2.8"/><line x1="397.4" y1="664.6" x2="392.4" y2="681.6" stroke="#d41010" stroke-width="2.8"/><line x1="392.4" y1="681.6" x2="374.9" y2="684.2" stroke="#d41010" stroke-width="2.8"/><line x1="374.9" y1="684.2" x2="362.3" y2="669" stroke="#d41010" stroke-width="2.8"/><line x1="362.3" y1="669" x2="366.7" y2="652.4" stroke="#d41010" stroke-width="2.8"/><path d="M370.86,657.06 L382.96,655.43 L391.74,665.36 L388.34,676.92 L376.44,678.69 L367.87,668.35Z" fill="none" stroke="#d41010" stroke-width="0.9" stroke-dasharray="1.6,1.2"/><line x1="397.4" y1="664.6" x2="416.6" y2="661.7" stroke="#d41010" stroke-width="2.2399999999999998"/><line x1="416.6" y1="661.7" x2="417.8" y2="643.6" stroke="#5050d0" stroke-width="2.2399999999999998"/><line x1="417.8" y1="643.6" x2="430.4" y2="643.3" stroke="#d8c020" stroke-width="2.2399999999999998"/><line x1="416.6" y1="661.7" x2="427.4" y2="662.3" stroke="#d8c020" stroke-width="2.2399999999999998"/><line x1="366.7" y1="652.4" x2="356.5" y2="641.3" stroke="#d8c020" stroke-width="2.2399999999999998"/><line x1="384.5" y1="650" x2="388" y2="636.9" stroke="#d8c020" stroke-width="2.2399999999999998"/><line x1="362.3" y1="669" x2="347.7" y2="671.1" stroke="#d8c020" stroke-width="2.2399999999999998"/><line x1="374.9" y1="684.2" x2="371.4" y2="697.6" stroke="#d8c020" stroke-width="2.2399999999999998"/><line x1="392.4" y1="681.6" x2="403.2" y2="693" stroke="#d8c020" stroke-width="2.2399999999999998"/>
<circle cx="356.5" cy="641.3" r="3.6" fill="url(#gYA)"/>
<circle cx="388" cy="636.9" r="3.6" fill="url(#gYA)"/>
<circle cx="347.7" cy="671.1" r="3.6" fill="url(#gYA)"/>
<circle cx="371.4" cy="697.6" r="3.6" fill="url(#gYA)"/>
<circle cx="403.2" cy="693" r="3.6" fill="url(#gYA)"/>
<circle cx="430.4" cy="643.3" r="3.6" fill="url(#gYA)"/>
<circle cx="427.4" cy="662.3" r="3.6" fill="url(#gYA)"/>
<circle cx="366.7" cy="652.4" r="4.6" fill="url(#gRA)"/>
<circle cx="384.5" cy="650" r="4.6" fill="url(#gRA)"/>
<circle cx="397.4" cy="664.6" r="4.6" fill="url(#gRA)"/>
<circle cx="392.4" cy="681.6" r="4.6" fill="url(#gRA)"/>
<circle cx="374.9" cy="684.2" r="4.6" fill="url(#gRA)"/>
<circle cx="362.3" cy="669" r="4.6" fill="url(#gRA)"/>
<circle cx="416.6" cy="661.7" r="4.6" fill="url(#gRA)"/>
<circle cx="417.8" cy="643.6" r="4.4" fill="url(#gBA)"/>
<line x1="597.4" y1="645.8" x2="617" y2="642.9" stroke="#d41010" stroke-width="2.8"/><line x1="617" y1="642.9" x2="631.3" y2="658.3" stroke="#d41010" stroke-width="2.8"/><line x1="631.3" y1="658.3" x2="624.2" y2="677.2" stroke="#d41010" stroke-width="2.8"/><line x1="624.2" y1="677.2" x2="604.5" y2="680.8" stroke="#d41010" stroke-width="2.8"/><line x1="604.5" y1="680.8" x2="590.2" y2="664.4" stroke="#d41010" stroke-width="2.8"/><line x1="590.2" y1="664.4" x2="597.4" y2="645.8" stroke="#d41010" stroke-width="2.8"/><path d="M601.68,650.85 L615.01,648.87 L624.73,659.35 L619.9,672.2 L606.51,674.65 L596.78,663.49Z" fill="none" stroke="#d41010" stroke-width="0.9" stroke-dasharray="1.6,1.2"/><line x1="631.3" y1="658.3" x2="650.3" y2="654.7" stroke="#d41010" stroke-width="2.2399999999999998"/><line x1="650.3" y1="654.7" x2="662.5" y2="667.2" stroke="#3050d0" stroke-width="2.2399999999999998"/>
<line x1="652.8" y1="653.2" x2="664.5" y2="665.5" stroke="#3050d0" stroke-width="1.2"/>
<circle cx="597.4" cy="645.8" r="4.6" fill="url(#gRA)"/>
<circle cx="617" cy="642.9" r="4.6" fill="url(#gRA)"/>
<circle cx="631.3" cy="658.3" r="4.6" fill="url(#gRA)"/>
<circle cx="624.2" cy="677.2" r="4.6" fill="url(#gRA)"/>
<circle cx="604.5" cy="680.8" r="4.6" fill="url(#gRA)"/>
<circle cx="590.2" cy="664.4" r="4.6" fill="url(#gRA)"/>
<circle cx="650.3" cy="654.7" r="4.6" fill="url(#gRA)"/>
<circle cx="662.5" cy="667.2" r="4.2" fill="url(#gBA)"/>
<circle cx="455" cy="648.6" r="6" fill="url(#gH)"/>
<text x="454.7" y="651.39" font-size="9.3" text-anchor="middle" fill="#fff" font-family="Liberation Serif" font-weight="bold">h<tspan dy="-3.91" font-size="5.12">+</tspan></text>
<path d="M294.4,669.1 L322.25,668.8 L318.25,660.8 L338,671.3 L318.25,681.8 L322.25,673.8 L294.4,673.5 Z" fill="url(#barr)"/>
<path d="M420,668.6 L458.25,668.3 L454.25,660.3 L474,670.8 L454.25,681.3 L458.25,673.3 L420,673 Z" fill="url(#barr)"/>
<path d="M545.5,669.3 L570.85,669 L566.85,661 L586.6,671.5 L566.85,682 L570.85,674 L545.5,673.7 Z" fill="url(#barr)"/>
<path d="M520.5,721.8 L547.65,721.5 L543.65,713.5 L563.4,724 L543.65,734.5 L547.65,726.5 L520.5,726.2 Z" fill="url(#barr)"/>
<circle cx="33.3" cy="723.8" r="7" fill="url(#gH)"/>
<text x="33" y="727.05" font-size="10.85" text-anchor="middle" fill="#fff" font-family="Liberation Serif" font-weight="bold">h<tspan dy="-4.56" font-size="5.97">+</tspan></text>
<line x1="41" y1="731" x2="46.5" y2="716.5" stroke="#111" stroke-width="1.2"/>
<circle cx="57.1" cy="723.8" r="7" fill="url(#gE)"/>
<text x="56.8" y="727.05" font-size="10.85" text-anchor="middle" fill="#fff" font-family="Liberation Serif" font-weight="bold">e<tspan dy="-4.56" font-size="5.97">-</tspan></text>
<text transform="translate(72.9,727.3) scale(0.97,1)" font-size="11.02" text-anchor="start" fill="#111" stroke="#111" stroke-width="0.3" font-family="Liberation Serif" font-weight="bold" >Hole/Electron</text>
<ellipse cx="45.9" cy="752.6" rx="20.7" ry="7.2" fill="url(#dip)"/>
<text transform="translate(37,756.3)" font-size="10.5" text-anchor="middle" fill="#fff" font-family="Liberation Sans" >+</text>
<text transform="translate(55,755.8)" font-size="10.5" text-anchor="middle" fill="#fff" font-family="Liberation Sans" >-</text>
<text transform="translate(73.6,756.1) scale(0.97,1)" font-size="11.02" text-anchor="start" fill="#111" stroke="#111" stroke-width="0.3" font-family="Liberation Serif" font-weight="bold" >Dipole field</text>
<circle cx="198.4" cy="723.7" r="6.3" fill="#fff" stroke="#ee1414" stroke-width="1.3"/>
<text transform="translate(198.4,727.3) scale(0.97,1)" font-size="10.3" text-anchor="middle" fill="#ee1414" stroke="#ee1414" stroke-width="0.3" font-family="Liberation Serif" font-weight="bold" >1</text>
<circle cx="198.4" cy="752.3" r="6.3" fill="#fff" stroke="#1818c8" stroke-width="1.3"/>
<text transform="translate(198.4,755.9) scale(0.97,1)" font-size="10.3" text-anchor="middle" fill="#1818c8" stroke="#1818c8" stroke-width="0.3" font-family="Liberation Serif" font-weight="bold" >2</text>
<text transform="translate(211.9,727.6) scale(0.97,1)" font-size="12.57" text-anchor="start" fill="#ee1414" stroke="#ee1414" stroke-width="0.3" font-family="Liberation Serif" font-weight="bold" >Fast unidirectional electronic transmission</text>
<text transform="translate(211.9,756.2) scale(0.97,1)" font-size="12.57" text-anchor="start" fill="#1818c8" stroke="#1818c8" stroke-width="0.3" font-family="Liberation Serif" font-weight="bold" >Fast coupling of hydrogen protons</text>
<text x="538" y="708.2" font-size="11.6" text-anchor="middle" fill="#ee1414" font-family="Liberation Serif" font-weight="bold" font-style="italic">Promote</text>
<text transform="translate(498,727.6) scale(0.97,1)" font-size="11.33" text-anchor="middle" fill="#111" stroke="#111" stroke-width="0.3" font-family="Liberation Serif" font-weight="bold" ><tspan>H</tspan><tspan dy="2.95" font-size="7.48">2</tspan><tspan dy="-2.95">O</tspan></text>
<text transform="translate(585.4,727.6) scale(0.97,1)" font-size="11.33" text-anchor="middle" fill="#111" stroke="#111" stroke-width="0.3" font-family="Liberation Serif" font-weight="bold" ><tspan>OH</tspan><tspan dy="-4.31" font-size="7.48">-</tspan></text>
<text transform="translate(608.1,727.8)" font-size="13" text-anchor="middle" fill="#111" font-family="Liberation Sans" font-weight="bold" >+</text>
<text transform="translate(627.7,727.6) scale(0.97,1)" font-size="11.33" text-anchor="middle" fill="#ee1414" stroke="#ee1414" stroke-width="0.3" font-family="Liberation Serif" font-weight="bold" ><tspan>H</tspan><tspan dy="-4.31" font-size="7.48">+</tspan></text>
<text transform="translate(456.6,759.2) scale(0.97,1)" font-size="11.64" text-anchor="middle" fill="#111" stroke="#111" stroke-width="0.3" font-family="Liberation Serif" font-weight="bold" >Zn</text>
<circle cx="479.3" cy="755.5" r="9.6" fill="url(#gBlue)"/>
<text transform="translate(519.2,759.2) scale(0.97,1)" font-size="11.64" text-anchor="middle" fill="#111" stroke="#111" stroke-width="0.3" font-family="Liberation Serif" font-weight="bold" >In</text>
<circle cx="543.7" cy="755.5" r="11.3" fill="url(#gRed)"/>
<text transform="translate(578.8,759.2) scale(0.97,1)" font-size="11.64" text-anchor="middle" fill="#111" stroke="#111" stroke-width="0.3" font-family="Liberation Serif" font-weight="bold" >S</text>
<circle cx="590.2" cy="755.5" r="4.8" fill="url(#gYA)"/>
<text transform="translate(625.1,759.2) scale(0.97,1)" font-size="11.64" text-anchor="middle" fill="#111" stroke="#111" stroke-width="0.3" font-family="Liberation Serif" font-weight="bold" >Mo</text>
<circle cx="651" cy="755.5" r="10.6" fill="url(#gMoL)"/>
</svg>
</body></html>
